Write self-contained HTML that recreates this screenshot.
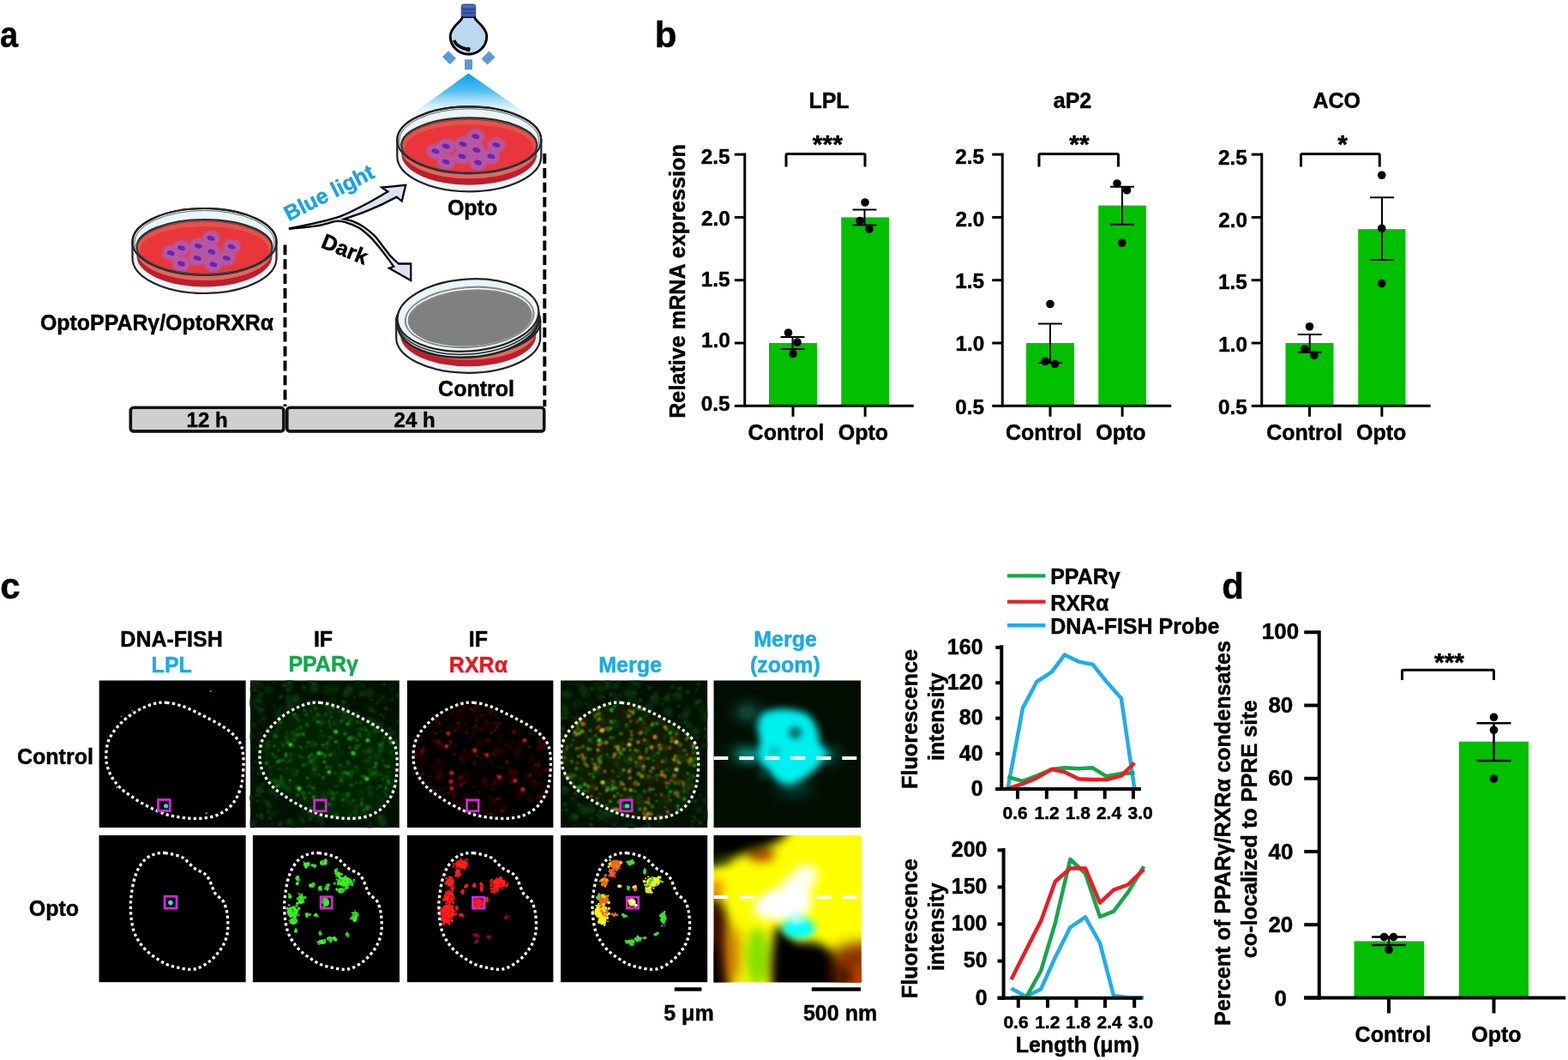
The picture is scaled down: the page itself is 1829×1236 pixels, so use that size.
<!DOCTYPE html><html><head><meta charset="utf-8"><style>html,body{margin:0;padding:0;background:#fff;overflow:hidden;width:1829px;height:1236px;}svg{display:block;}text{font-family:"Liberation Sans",Arial,sans-serif;font-weight:bold;stroke-width:0.45px;}</style></head><body>
<svg width="1829" height="1236" viewBox="0 0 1829 1236">
<rect width="1829" height="1236" fill="#fff"/>
<defs><filter id="sb07" filterUnits="userSpaceOnUse" x="0" y="0" width="1829" height="1236"><feGaussianBlur stdDeviation="0.7"/></filter><filter id="sb1" filterUnits="userSpaceOnUse" x="0" y="0" width="1829" height="1236"><feGaussianBlur stdDeviation="1.1"/></filter><filter id="sb2" filterUnits="userSpaceOnUse" x="0" y="0" width="1829" height="1236"><feGaussianBlur stdDeviation="2.2"/></filter><filter id="sb4" filterUnits="userSpaceOnUse" x="0" y="0" width="1829" height="1236"><feGaussianBlur stdDeviation="4"/></filter><filter id="sb6" filterUnits="userSpaceOnUse" x="0" y="0" width="1829" height="1236"><feGaussianBlur stdDeviation="6"/></filter><filter id="sb8" filterUnits="userSpaceOnUse" x="0" y="0" width="1829" height="1236"><feGaussianBlur stdDeviation="8"/></filter><filter id="sb12" filterUnits="userSpaceOnUse" x="0" y="0" width="1829" height="1236"><feGaussianBlur stdDeviation="12"/></filter><filter id="cellblur" filterUnits="userSpaceOnUse" x="0" y="0" width="1829" height="1236"><feGaussianBlur stdDeviation="1.3"/></filter></defs>
<clipPath id="cl1"><rect x="115.4" y="793.3" width="171.4" height="171.8"/></clipPath>
<g clip-path="url(#cl1)">
<rect x="115.4" y="793.3" width="171.4" height="171.8" fill="#000"/>
<circle cx="245.7" cy="805.9" r="1.2" fill="#1aa0a0"/>
<circle cx="154.2" cy="828.7" r="0.9" fill="#1aa0a0"/>
<circle cx="141.4" cy="835.4" r="0.9" fill="#1aa0a0"/>
<circle cx="136.5" cy="918.1" r="1.4" fill="#1aa0a0"/>
<circle cx="240.8" cy="948.2" r="1.2" fill="#1aa0a0"/>
<circle cx="193.6" cy="939.8" r="2.6" fill="#20e0e0"/>
<path d="M194.5,819.3 C199.75,819.78 206.62,821.4 212.2,823.2 C217.78,825 222.75,827.63 228,830.1 C233.25,832.57 238.45,835.22 243.7,838 C248.95,840.78 254.9,843.85 259.5,846.8 C264.1,849.75 267.87,852.42 271.3,855.7 C274.73,858.98 278.13,863.05 280.1,866.5 C282.07,869.95 282.43,872.47 283.1,876.4 C283.77,880.33 284.1,885.18 284.1,890.1 C284.1,895.02 283.6,901.3 283.1,905.9 C282.6,910.5 282.42,913.43 281.1,917.7 C279.78,921.97 277.82,927.23 275.2,931.5 C272.58,935.77 269.33,940.03 265.4,943.3 C261.47,946.57 256.53,949.3 251.6,951.1 C246.67,952.9 241.05,953.6 235.8,954.1 C230.55,954.6 225.33,954.43 220.1,954.1 C214.87,953.77 209,952.92 204.4,952.1 C199.8,951.28 196.45,950.5 192.5,949.2 C188.55,947.9 184.95,946.27 180.7,944.3 C176.45,942.33 171.58,940.03 167,937.4 C162.42,934.77 157.47,931.45 153.2,928.5 C148.93,925.55 145.02,923.15 141.4,919.7 C137.78,916.25 134.13,911.9 131.5,907.8 C128.87,903.7 126.9,899.35 125.6,895.1 C124.3,890.85 123.7,887.07 123.7,882.3 C123.7,877.53 124.3,871.1 125.6,866.5 C126.9,861.9 128.87,858.63 131.5,854.7 C134.13,850.77 137.78,846.5 141.4,842.9 C145.02,839.3 148.93,836.05 153.2,833.1 C157.47,830.15 162.42,827.33 167,825.2 C171.58,823.07 176.12,821.28 180.7,820.3 C185.28,819.32 189.25,818.82 194.5,819.3Z" fill="none" stroke="#fff" stroke-width="3.3" stroke-dasharray="3.3 3.2"/>
<rect x="184.5" y="932.5" width="13.7" height="12.9" fill="none" stroke="#d826d8" stroke-width="2.8"/>
</g>
<clipPath id="cl2"><rect x="291.9" y="793.3" width="174" height="171.8"/></clipPath>
<g clip-path="url(#cl2)">
<rect x="291.9" y="793.3" width="174" height="171.8" fill="#021102"/>
<path d="M373.7,819.3 C378.95,819.78 385.82,821.4 391.4,823.2 C396.98,825 401.95,827.63 407.2,830.1 C412.45,832.57 417.65,835.22 422.9,838 C428.15,840.78 434.1,843.85 438.7,846.8 C443.3,849.75 447.07,852.42 450.5,855.7 C453.93,858.98 457.33,863.05 459.3,866.5 C461.27,869.95 461.63,872.47 462.3,876.4 C462.97,880.33 463.3,885.18 463.3,890.1 C463.3,895.02 462.8,901.3 462.3,905.9 C461.8,910.5 461.62,913.43 460.3,917.7 C458.98,921.97 457.02,927.23 454.4,931.5 C451.78,935.77 448.53,940.03 444.6,943.3 C440.67,946.57 435.73,949.3 430.8,951.1 C425.87,952.9 420.25,953.6 415,954.1 C409.75,954.6 404.53,954.43 399.3,954.1 C394.07,953.77 388.2,952.92 383.6,952.1 C379,951.28 375.65,950.5 371.7,949.2 C367.75,947.9 364.15,946.27 359.9,944.3 C355.65,942.33 350.78,940.03 346.2,937.4 C341.62,934.77 336.67,931.45 332.4,928.5 C328.13,925.55 324.22,923.15 320.6,919.7 C316.98,916.25 313.33,911.9 310.7,907.8 C308.07,903.7 306.1,899.35 304.8,895.1 C303.5,890.85 302.9,887.07 302.9,882.3 C302.9,877.53 303.5,871.1 304.8,866.5 C306.1,861.9 308.07,858.63 310.7,854.7 C313.33,850.77 316.98,846.5 320.6,842.9 C324.22,839.3 328.13,836.05 332.4,833.1 C336.67,830.15 341.62,827.33 346.2,825.2 C350.78,823.07 355.32,821.28 359.9,820.3 C364.48,819.32 368.45,818.82 373.7,819.3Z" fill="#052205" filter="url(#sb4)"/>
<g filter="url(#sb2)">
<circle cx="348.25" cy="819.22" r="3.22" fill="#083008" opacity="0.76"/>
<circle cx="355.53" cy="803.26" r="3.11" fill="#083008" opacity="0.73"/>
<circle cx="304.05" cy="808.88" r="3.18" fill="#0a380a" opacity="0.77"/>
<circle cx="393.34" cy="803.93" r="3.15" fill="#0a380a" opacity="0.67"/>
<circle cx="388.76" cy="816.18" r="3.43" fill="#0a380a" opacity="0.64"/>
<circle cx="387.21" cy="804.09" r="4.86" fill="#083008" opacity="0.75"/>
<circle cx="372.91" cy="951.95" r="3.9" fill="#0a380a" opacity="0.84"/>
<circle cx="342" cy="961.69" r="4.54" fill="#083008" opacity="0.65"/>
<circle cx="351.42" cy="953.64" r="3.12" fill="#0a380a" opacity="0.80"/>
<circle cx="444.23" cy="847.2" r="4.78" fill="#0a380a" opacity="0.77"/>
<circle cx="407.46" cy="803.72" r="4.94" fill="#0a380a" opacity="0.90"/>
<circle cx="434.91" cy="842.19" r="5.66" fill="#0a380a" opacity="0.70"/>
<circle cx="455.57" cy="854.37" r="4.48" fill="#083008" opacity="0.67"/>
<circle cx="361.13" cy="950.81" r="3.24" fill="#0a380a" opacity="0.73"/>
<circle cx="354.33" cy="945.2" r="3.45" fill="#083008" opacity="0.65"/>
<circle cx="337.62" cy="794" r="4.6" fill="#0a380a" opacity="0.78"/>
<circle cx="347.34" cy="814.86" r="4.37" fill="#083008" opacity="0.86"/>
<circle cx="463.23" cy="869" r="4.02" fill="#083008" opacity="0.62"/>
<circle cx="291.94" cy="819.29" r="5.85" fill="#083008" opacity="0.78"/>
<circle cx="304.13" cy="829.03" r="3.45" fill="#0a380a" opacity="0.68"/>
<circle cx="313.27" cy="939.15" r="4.44" fill="#0a380a" opacity="0.69"/>
<circle cx="316.98" cy="922.09" r="4.44" fill="#0a380a" opacity="0.81"/>
<circle cx="457.55" cy="855.45" r="5.27" fill="#083008" opacity="0.69"/>
<circle cx="403.77" cy="808.94" r="4.56" fill="#0a380a" opacity="0.87"/>
<circle cx="325.86" cy="834.43" r="5.22" fill="#0a380a" opacity="0.67"/>
<circle cx="296.94" cy="798.1" r="4.42" fill="#0a380a" opacity="0.66"/>
<circle cx="352.72" cy="960.72" r="3.66" fill="#083008" opacity="0.67"/>
<circle cx="326.13" cy="828.41" r="4.44" fill="#083008" opacity="0.80"/>
<circle cx="431.04" cy="807.86" r="5.73" fill="#083008" opacity="0.83"/>
<circle cx="322.96" cy="928.87" r="3.26" fill="#0a380a" opacity="0.88"/>
<circle cx="421.24" cy="807.89" r="3.51" fill="#083008" opacity="0.64"/>
<circle cx="318.2" cy="948.75" r="4.83" fill="#083008" opacity="0.78"/>
<circle cx="374.44" cy="954.36" r="4.65" fill="#083008" opacity="0.64"/>
<circle cx="294.38" cy="960.1" r="4.58" fill="#083008" opacity="0.88"/>
<circle cx="435.65" cy="829.56" r="3.64" fill="#0a380a" opacity="0.75"/>
<circle cx="302.5" cy="920.42" r="4.99" fill="#0a380a" opacity="0.84"/>
<circle cx="444.7" cy="815.77" r="4.57" fill="#083008" opacity="0.61"/>
<circle cx="292.58" cy="930.6" r="3.42" fill="#083008" opacity="0.79"/>
<circle cx="312.84" cy="803.91" r="5.35" fill="#0a380a" opacity="0.63"/>
<circle cx="444.42" cy="955.17" r="5.77" fill="#0a380a" opacity="0.87"/>
<circle cx="344.58" cy="814.32" r="5.82" fill="#083008" opacity="0.79"/>
<circle cx="421.82" cy="809.47" r="3.49" fill="#0a380a" opacity="0.80"/>
<circle cx="464.87" cy="862.67" r="3.59" fill="#0a380a" opacity="0.70"/>
<circle cx="417.55" cy="796.65" r="4.32" fill="#0a380a" opacity="0.61"/>
<circle cx="381.03" cy="804.35" r="5.92" fill="#083008" opacity="0.63"/>
<circle cx="338.11" cy="800.1" r="3.81" fill="#083008" opacity="0.64"/>
<circle cx="365.37" cy="949.88" r="4.22" fill="#0a380a" opacity="0.76"/>
<circle cx="431.03" cy="824.8" r="3.81" fill="#083008" opacity="0.61"/>
<circle cx="307.31" cy="838.06" r="3.2" fill="#083008" opacity="0.86"/>
<circle cx="338.51" cy="815.5" r="5.81" fill="#083008" opacity="0.89"/>
<circle cx="337.47" cy="824.42" r="4.89" fill="#0a380a" opacity="0.76"/>
<circle cx="431.74" cy="964.15" r="3.05" fill="#083008" opacity="0.82"/>
<circle cx="374.51" cy="953.87" r="4.97" fill="#083008" opacity="0.80"/>
<circle cx="446.54" cy="960" r="5.06" fill="#0a380a" opacity="0.89"/>
<circle cx="301.36" cy="815.6" r="4.88" fill="#083008" opacity="0.86"/>
<circle cx="366.85" cy="802.82" r="5.61" fill="#0a380a" opacity="0.80"/>
<circle cx="337.7" cy="958.53" r="3.73" fill="#0a380a" opacity="0.89"/>
<circle cx="292.09" cy="858.86" r="3.84" fill="#0a380a" opacity="0.80"/>
<circle cx="307.71" cy="933.67" r="4.2" fill="#083008" opacity="0.61"/>
<circle cx="295.81" cy="845.57" r="3.25" fill="#083008" opacity="0.89"/>
</g>
<g filter="url(#sb1)">
<circle cx="440.37" cy="819.97" r="2.34" fill="#0a360a" opacity="0.78"/>
<circle cx="399.56" cy="818.17" r="2.47" fill="#0a360a" opacity="0.79"/>
<circle cx="331.91" cy="798.65" r="2.16" fill="#0c400c" opacity="0.89"/>
<circle cx="300.74" cy="796.54" r="2.22" fill="#0a360a" opacity="0.75"/>
<circle cx="292.48" cy="930.34" r="2.52" fill="#0a360a" opacity="0.87"/>
<circle cx="305.25" cy="949.72" r="2.32" fill="#0e4a0e" opacity="0.79"/>
<circle cx="403.74" cy="806.61" r="1.8" fill="#0c400c" opacity="0.80"/>
<circle cx="376.43" cy="960.38" r="2.23" fill="#0c400c" opacity="0.80"/>
<circle cx="312.52" cy="946.83" r="1.77" fill="#0c400c" opacity="0.63"/>
<circle cx="464.96" cy="964.06" r="1.65" fill="#0e4a0e" opacity="0.88"/>
<circle cx="457.68" cy="816.08" r="2.01" fill="#0a360a" opacity="0.87"/>
<circle cx="414.28" cy="833.05" r="1.87" fill="#0e4a0e" opacity="0.65"/>
<circle cx="312.94" cy="850.22" r="2.3" fill="#0e4a0e" opacity="0.85"/>
<circle cx="312.79" cy="952.46" r="1.41" fill="#0a360a" opacity="0.82"/>
<circle cx="335.96" cy="804.46" r="2.6" fill="#0e4a0e" opacity="0.78"/>
<circle cx="339.78" cy="801.59" r="1.46" fill="#0c400c" opacity="0.80"/>
<circle cx="402.38" cy="818.88" r="1.92" fill="#0e4a0e" opacity="0.69"/>
<circle cx="366.33" cy="798.28" r="1.88" fill="#0a360a" opacity="0.86"/>
<circle cx="305.92" cy="953.67" r="1.94" fill="#0e4a0e" opacity="0.83"/>
<circle cx="300.42" cy="952.52" r="1.6" fill="#0c400c" opacity="0.72"/>
<circle cx="432.73" cy="828.03" r="2.3" fill="#0c400c" opacity="0.72"/>
<circle cx="302.7" cy="840.98" r="1.55" fill="#0e4a0e" opacity="0.75"/>
<circle cx="369.48" cy="957.19" r="1.55" fill="#0c400c" opacity="0.73"/>
<circle cx="304.63" cy="953.11" r="2.43" fill="#0a360a" opacity="0.89"/>
<circle cx="335.13" cy="812.03" r="1.58" fill="#0c400c" opacity="0.89"/>
<circle cx="310.85" cy="935.1" r="2.18" fill="#0a360a" opacity="0.83"/>
<circle cx="298.78" cy="927.7" r="2.08" fill="#0c400c" opacity="0.61"/>
<circle cx="416.31" cy="958.65" r="1.7" fill="#0a360a" opacity="0.79"/>
<circle cx="413.45" cy="812.56" r="1.76" fill="#0c400c" opacity="0.88"/>
<circle cx="325.26" cy="838.12" r="1.4" fill="#0a360a" opacity="0.76"/>
<circle cx="465.27" cy="841.16" r="2.17" fill="#0e4a0e" opacity="0.87"/>
<circle cx="334.89" cy="958.33" r="2.18" fill="#0a360a" opacity="0.62"/>
<circle cx="325.68" cy="945.32" r="1.9" fill="#0a360a" opacity="0.68"/>
<circle cx="331.36" cy="799.16" r="2.26" fill="#0e4a0e" opacity="0.71"/>
<circle cx="360.87" cy="794.46" r="2.29" fill="#0e4a0e" opacity="0.75"/>
<circle cx="327.61" cy="959.92" r="2.32" fill="#0e4a0e" opacity="0.66"/>
<circle cx="446.64" cy="812.03" r="1.99" fill="#0a360a" opacity="0.66"/>
<circle cx="407.66" cy="956.3" r="2.51" fill="#0c400c" opacity="0.62"/>
<circle cx="296.01" cy="895.71" r="1.46" fill="#0e4a0e" opacity="0.62"/>
<circle cx="360.34" cy="947.61" r="2.28" fill="#0e4a0e" opacity="0.90"/>
<circle cx="454" cy="849.86" r="2.18" fill="#0c400c" opacity="0.76"/>
<circle cx="463.29" cy="869.31" r="1.4" fill="#0c400c" opacity="0.68"/>
<circle cx="353.06" cy="957.46" r="2.07" fill="#0c400c" opacity="0.83"/>
<circle cx="307.17" cy="914.46" r="1.85" fill="#0c400c" opacity="0.88"/>
<circle cx="447.98" cy="798.5" r="1.7" fill="#0e4a0e" opacity="0.79"/>
<circle cx="302.69" cy="826.79" r="2.48" fill="#0c400c" opacity="0.70"/>
<circle cx="339.28" cy="957.83" r="1.45" fill="#0a360a" opacity="0.82"/>
<circle cx="456.59" cy="804.52" r="1.53" fill="#0c400c" opacity="0.81"/>
<circle cx="433.68" cy="816.1" r="1.62" fill="#0e4a0e" opacity="0.84"/>
<circle cx="305.65" cy="827.2" r="1.7" fill="#0c400c" opacity="0.62"/>
<circle cx="297.79" cy="888.24" r="1.59" fill="#0e4a0e" opacity="0.73"/>
<circle cx="310.21" cy="805.7" r="1.5" fill="#0a360a" opacity="0.63"/>
<circle cx="312.98" cy="937.76" r="1.74" fill="#0e4a0e" opacity="0.68"/>
<circle cx="449.82" cy="825.64" r="1.88" fill="#0c400c" opacity="0.90"/>
<circle cx="464.33" cy="810.88" r="2.46" fill="#0e4a0e" opacity="0.67"/>
<circle cx="444.48" cy="833.31" r="1.63" fill="#0c400c" opacity="0.89"/>
<circle cx="427.23" cy="955.77" r="2.16" fill="#0c400c" opacity="0.81"/>
<circle cx="352.75" cy="799.73" r="1.57" fill="#0e4a0e" opacity="0.66"/>
<circle cx="405.29" cy="828.25" r="2.38" fill="#0c400c" opacity="0.72"/>
<circle cx="305.46" cy="798.71" r="2.06" fill="#0e4a0e" opacity="0.62"/>
<circle cx="307.76" cy="821.42" r="1.73" fill="#0a360a" opacity="0.90"/>
<circle cx="300.84" cy="921.35" r="1.9" fill="#0e4a0e" opacity="0.61"/>
<circle cx="362.37" cy="955.13" r="2.48" fill="#0e4a0e" opacity="0.73"/>
<circle cx="320.18" cy="795.85" r="1.57" fill="#0a360a" opacity="0.84"/>
<circle cx="320.06" cy="822.81" r="1.53" fill="#0c400c" opacity="0.75"/>
<circle cx="431.94" cy="959.41" r="1.76" fill="#0c400c" opacity="0.85"/>
<circle cx="299.47" cy="950.12" r="1.46" fill="#0e4a0e" opacity="0.88"/>
<circle cx="359.39" cy="948.65" r="2.23" fill="#0a360a" opacity="0.87"/>
<circle cx="390.28" cy="800.47" r="1.59" fill="#0a360a" opacity="0.71"/>
<circle cx="317.91" cy="960.06" r="1.45" fill="#0c400c" opacity="0.77"/>
<circle cx="423.7" cy="799.85" r="1.54" fill="#0e4a0e" opacity="0.78"/>
<circle cx="368.17" cy="797.32" r="2.58" fill="#0a360a" opacity="0.74"/>
<circle cx="303.58" cy="854.9" r="1.51" fill="#0e4a0e" opacity="0.73"/>
<circle cx="380.67" cy="800.3" r="1.56" fill="#0a360a" opacity="0.88"/>
<circle cx="305.81" cy="922.5" r="2.18" fill="#0e4a0e" opacity="0.84"/>
<circle cx="296.4" cy="804.7" r="2.28" fill="#0a360a" opacity="0.84"/>
<circle cx="325.61" cy="961.96" r="1.75" fill="#0e4a0e" opacity="0.84"/>
<circle cx="417.37" cy="831.29" r="2.13" fill="#0e4a0e" opacity="0.68"/>
<circle cx="336.12" cy="958.97" r="1.65" fill="#0e4a0e" opacity="0.68"/>
<circle cx="298.31" cy="824.58" r="2.16" fill="#0c400c" opacity="0.68"/>
<circle cx="429.73" cy="838.71" r="1.46" fill="#0a360a" opacity="0.86"/>
<circle cx="447.82" cy="836.6" r="2.16" fill="#0a360a" opacity="0.72"/>
<circle cx="430.69" cy="838.78" r="2.09" fill="#0e4a0e" opacity="0.71"/>
<circle cx="300.3" cy="934.15" r="1.77" fill="#0e4a0e" opacity="0.89"/>
<circle cx="443.33" cy="952.81" r="2.28" fill="#0e4a0e" opacity="0.82"/>
<circle cx="355.25" cy="801.51" r="1.67" fill="#0e4a0e" opacity="0.80"/>
<circle cx="295.78" cy="793.75" r="1.76" fill="#0e4a0e" opacity="0.76"/>
<circle cx="344.3" cy="816.27" r="2.15" fill="#0e4a0e" opacity="0.74"/>
<circle cx="315.35" cy="954.21" r="2.25" fill="#0c400c" opacity="0.74"/>
<circle cx="302.98" cy="818.16" r="2.34" fill="#0a360a" opacity="0.72"/>
<circle cx="337.88" cy="795.28" r="2.39" fill="#0a360a" opacity="0.87"/>
<circle cx="291.97" cy="803.87" r="1.89" fill="#0c400c" opacity="0.67"/>
<circle cx="302.06" cy="927.11" r="2.14" fill="#0c400c" opacity="0.80"/>
<circle cx="303" cy="900.84" r="2.34" fill="#0a360a" opacity="0.81"/>
<circle cx="293" cy="938.37" r="2.49" fill="#0a360a" opacity="0.62"/>
<circle cx="405.96" cy="823.43" r="1.71" fill="#0c400c" opacity="0.79"/>
<circle cx="313.35" cy="946.42" r="2.53" fill="#0a360a" opacity="0.68"/>
<circle cx="301.04" cy="902.54" r="1.92" fill="#0a360a" opacity="0.84"/>
<circle cx="403.61" cy="959.11" r="1.5" fill="#0c400c" opacity="0.75"/>
<circle cx="321.44" cy="948.73" r="1.64" fill="#0a360a" opacity="0.65"/>
<circle cx="451.1" cy="826.27" r="1.79" fill="#0e4a0e" opacity="0.67"/>
<circle cx="462.25" cy="873.96" r="2.24" fill="#0a360a" opacity="0.86"/>
<circle cx="305.44" cy="949.77" r="1.44" fill="#0c400c" opacity="0.63"/>
<circle cx="400.12" cy="821.1" r="2.24" fill="#0c400c" opacity="0.61"/>
<circle cx="299.32" cy="804.95" r="1.48" fill="#0c400c" opacity="0.78"/>
<circle cx="303.38" cy="942.39" r="2.53" fill="#0a360a" opacity="0.63"/>
<circle cx="327.7" cy="812.54" r="2.54" fill="#0c400c" opacity="0.87"/>
<circle cx="423.05" cy="808.33" r="2.16" fill="#0a360a" opacity="0.74"/>
<circle cx="314.98" cy="929.36" r="1.65" fill="#0a360a" opacity="0.70"/>
<circle cx="365.64" cy="796.89" r="2.52" fill="#0e4a0e" opacity="0.61"/>
</g>
<g filter="url(#sb2)">
<circle cx="424.11" cy="949.7" r="2.76" fill="#0c440c" opacity="0.86"/>
<circle cx="363.75" cy="868.28" r="2.52" fill="#0e4e0e" opacity="0.81"/>
<circle cx="385.49" cy="830.51" r="2.86" fill="#0e4e0e" opacity="0.69"/>
<circle cx="367.77" cy="883.25" r="3.14" fill="#126012" opacity="0.89"/>
<circle cx="377.42" cy="930.19" r="3.45" fill="#0e4e0e" opacity="0.78"/>
<circle cx="458.45" cy="881.8" r="3.42" fill="#0c440c" opacity="0.69"/>
<circle cx="329.26" cy="913.47" r="2.25" fill="#126012" opacity="0.88"/>
<circle cx="425.32" cy="877.53" r="2.84" fill="#0c440c" opacity="0.63"/>
<circle cx="421.57" cy="865.82" r="2.04" fill="#0c440c" opacity="0.66"/>
<circle cx="379.11" cy="858.46" r="2.35" fill="#0c440c" opacity="0.74"/>
<circle cx="384.39" cy="922.92" r="2.97" fill="#0c440c" opacity="0.70"/>
<circle cx="438.6" cy="907.05" r="2.49" fill="#0c440c" opacity="0.74"/>
<circle cx="411.8" cy="837.49" r="2.19" fill="#0e4e0e" opacity="0.74"/>
<circle cx="325.23" cy="845.1" r="3.24" fill="#0c440c" opacity="0.79"/>
<circle cx="417.73" cy="896.88" r="2.24" fill="#126012" opacity="0.70"/>
<circle cx="430.21" cy="919.28" r="2.41" fill="#126012" opacity="0.63"/>
<circle cx="445.93" cy="873" r="2.6" fill="#0e4e0e" opacity="0.84"/>
<circle cx="412.56" cy="879.28" r="2.44" fill="#0c440c" opacity="0.61"/>
<circle cx="336.66" cy="920.13" r="3.11" fill="#0e4e0e" opacity="0.87"/>
<circle cx="366.72" cy="891.91" r="2.97" fill="#0c440c" opacity="0.85"/>
<circle cx="408.11" cy="905.4" r="3.05" fill="#0c440c" opacity="0.86"/>
<circle cx="410.15" cy="903.52" r="2.65" fill="#126012" opacity="0.68"/>
<circle cx="413.81" cy="947.02" r="3.17" fill="#0e4e0e" opacity="0.81"/>
<circle cx="401.45" cy="836.26" r="2.72" fill="#126012" opacity="0.61"/>
<circle cx="441.29" cy="882.34" r="3.4" fill="#0c440c" opacity="0.65"/>
<circle cx="405.78" cy="926.99" r="3.25" fill="#126012" opacity="0.87"/>
<circle cx="329.81" cy="916.35" r="2.78" fill="#0e4e0e" opacity="0.63"/>
<circle cx="391.87" cy="886.25" r="2.71" fill="#0c440c" opacity="0.60"/>
<circle cx="429.81" cy="856.85" r="2.62" fill="#126012" opacity="0.88"/>
<circle cx="328.46" cy="910.87" r="2.77" fill="#126012" opacity="0.88"/>
<circle cx="418.76" cy="898.79" r="2.08" fill="#0c440c" opacity="0.68"/>
<circle cx="364.73" cy="865.55" r="3.01" fill="#0c440c" opacity="0.77"/>
<circle cx="459.09" cy="872.69" r="2.19" fill="#0e4e0e" opacity="0.83"/>
<circle cx="432.77" cy="902.27" r="2.96" fill="#126012" opacity="0.82"/>
<circle cx="407.79" cy="936.01" r="2.7" fill="#126012" opacity="0.69"/>
<circle cx="436.97" cy="854.25" r="2.4" fill="#0e4e0e" opacity="0.71"/>
<circle cx="336.02" cy="866.5" r="2.72" fill="#0e4e0e" opacity="0.84"/>
<circle cx="430.91" cy="854.8" r="2.45" fill="#0c440c" opacity="0.74"/>
<circle cx="366.46" cy="902.79" r="3.35" fill="#0c440c" opacity="0.65"/>
<circle cx="344.65" cy="859.46" r="3.24" fill="#0e4e0e" opacity="0.87"/>
<circle cx="436.55" cy="902.08" r="2.99" fill="#0e4e0e" opacity="0.66"/>
<circle cx="397.73" cy="892.68" r="2.28" fill="#0e4e0e" opacity="0.74"/>
<circle cx="361.93" cy="885.13" r="3.34" fill="#0c440c" opacity="0.78"/>
<circle cx="427.84" cy="908.14" r="3.18" fill="#0c440c" opacity="0.85"/>
<circle cx="326.24" cy="912.32" r="2.12" fill="#0c440c" opacity="0.85"/>
<circle cx="312.51" cy="865.29" r="2.71" fill="#0e4e0e" opacity="0.77"/>
<circle cx="376.18" cy="948.86" r="2.74" fill="#0c440c" opacity="0.75"/>
<circle cx="385.78" cy="941.54" r="2.24" fill="#0e4e0e" opacity="0.70"/>
<circle cx="412.98" cy="878.79" r="3.26" fill="#126012" opacity="0.71"/>
<circle cx="397.98" cy="910.57" r="3.21" fill="#126012" opacity="0.63"/>
<circle cx="376.15" cy="923.38" r="2.05" fill="#0e4e0e" opacity="0.82"/>
<circle cx="400.7" cy="851.47" r="2.55" fill="#0c440c" opacity="0.74"/>
<circle cx="383.34" cy="925.68" r="2.43" fill="#0e4e0e" opacity="0.70"/>
<circle cx="342.21" cy="854.32" r="2.61" fill="#126012" opacity="0.75"/>
<circle cx="339.18" cy="880.3" r="2.98" fill="#0e4e0e" opacity="0.84"/>
<circle cx="349.48" cy="847.78" r="2.19" fill="#126012" opacity="0.89"/>
<circle cx="361.3" cy="888.53" r="2.82" fill="#126012" opacity="0.61"/>
<circle cx="397.81" cy="906.35" r="3.36" fill="#0c440c" opacity="0.78"/>
<circle cx="399.21" cy="900.99" r="3.03" fill="#0c440c" opacity="0.86"/>
<circle cx="402.14" cy="900.72" r="2.15" fill="#0e4e0e" opacity="0.65"/>
<circle cx="450.95" cy="905.95" r="3.31" fill="#126012" opacity="0.64"/>
<circle cx="345.73" cy="915.3" r="2.28" fill="#126012" opacity="0.61"/>
<circle cx="392.52" cy="950.3" r="2.85" fill="#126012" opacity="0.61"/>
<circle cx="392.01" cy="951.12" r="2.1" fill="#126012" opacity="0.80"/>
<circle cx="425.86" cy="887.58" r="2.97" fill="#0e4e0e" opacity="0.66"/>
<circle cx="416.06" cy="940.27" r="3.14" fill="#0c440c" opacity="0.69"/>
<circle cx="388.9" cy="878.87" r="3.4" fill="#0c440c" opacity="0.68"/>
<circle cx="459.69" cy="916.52" r="2.09" fill="#0e4e0e" opacity="0.86"/>
<circle cx="411.38" cy="899.51" r="2.47" fill="#126012" opacity="0.82"/>
<circle cx="355.86" cy="892.08" r="2.7" fill="#126012" opacity="0.65"/>
<circle cx="431.42" cy="875.24" r="3.42" fill="#126012" opacity="0.84"/>
<circle cx="390.53" cy="843.53" r="2.93" fill="#0e4e0e" opacity="0.80"/>
<circle cx="431.44" cy="896.36" r="3.09" fill="#0c440c" opacity="0.60"/>
<circle cx="334.72" cy="859.85" r="2.9" fill="#126012" opacity="0.87"/>
<circle cx="365.42" cy="894.09" r="2.43" fill="#0e4e0e" opacity="0.64"/>
<circle cx="430.62" cy="887.42" r="2.52" fill="#126012" opacity="0.63"/>
<circle cx="388.24" cy="930.29" r="3.18" fill="#0e4e0e" opacity="0.82"/>
<circle cx="415.15" cy="952.39" r="3.13" fill="#0c440c" opacity="0.84"/>
<circle cx="432.24" cy="925.96" r="2.6" fill="#0e4e0e" opacity="0.76"/>
<circle cx="347.75" cy="880.26" r="2.28" fill="#0e4e0e" opacity="0.66"/>
<circle cx="323.34" cy="913.74" r="2.87" fill="#126012" opacity="0.71"/>
<circle cx="427.56" cy="940.52" r="2.07" fill="#0e4e0e" opacity="0.90"/>
<circle cx="402" cy="928.57" r="2.47" fill="#0e4e0e" opacity="0.61"/>
<circle cx="340.72" cy="897.61" r="2.05" fill="#0e4e0e" opacity="0.90"/>
<circle cx="442.6" cy="876.85" r="2.32" fill="#0c440c" opacity="0.88"/>
<circle cx="369.65" cy="895.2" r="3.45" fill="#0c440c" opacity="0.68"/>
<circle cx="443.4" cy="872.03" r="3.29" fill="#0e4e0e" opacity="0.79"/>
<circle cx="452.35" cy="914.66" r="2.39" fill="#0e4e0e" opacity="0.77"/>
<circle cx="408.43" cy="860.84" r="3.27" fill="#126012" opacity="0.71"/>
<circle cx="332.81" cy="917.12" r="2.06" fill="#0e4e0e" opacity="0.68"/>
<circle cx="449.3" cy="937.13" r="2.39" fill="#0e4e0e" opacity="0.75"/>
<circle cx="420.59" cy="924.15" r="2.08" fill="#126012" opacity="0.64"/>
<circle cx="409.68" cy="844.63" r="2.66" fill="#0c440c" opacity="0.80"/>
<circle cx="373.81" cy="857.16" r="2.19" fill="#126012" opacity="0.74"/>
<circle cx="316.81" cy="909.72" r="2.7" fill="#0e4e0e" opacity="0.87"/>
<circle cx="399.55" cy="857.4" r="2.21" fill="#0c440c" opacity="0.73"/>
<circle cx="438.45" cy="901.25" r="3.46" fill="#126012" opacity="0.70"/>
<circle cx="355.59" cy="850.33" r="2.09" fill="#0c440c" opacity="0.81"/>
<circle cx="363.55" cy="820.05" r="2.86" fill="#126012" opacity="0.69"/>
<circle cx="310.91" cy="871.67" r="2.17" fill="#126012" opacity="0.89"/>
<circle cx="374.98" cy="842.47" r="3.13" fill="#126012" opacity="0.89"/>
<circle cx="367.08" cy="838.23" r="3.39" fill="#0e4e0e" opacity="0.63"/>
<circle cx="383.53" cy="825.22" r="2.06" fill="#126012" opacity="0.72"/>
<circle cx="438.65" cy="882.92" r="3.07" fill="#0e4e0e" opacity="0.66"/>
<circle cx="397.79" cy="878.42" r="2.26" fill="#126012" opacity="0.64"/>
<circle cx="408.46" cy="901.27" r="2.87" fill="#0e4e0e" opacity="0.66"/>
<circle cx="362.91" cy="917.28" r="2.78" fill="#0e4e0e" opacity="0.70"/>
<circle cx="340.93" cy="903.11" r="2.14" fill="#126012" opacity="0.72"/>
<circle cx="407.69" cy="835.96" r="3.25" fill="#0c440c" opacity="0.71"/>
<circle cx="320.35" cy="857.07" r="3.29" fill="#0c440c" opacity="0.71"/>
</g>
<g filter="url(#sb1)">
<circle cx="450.68" cy="927.15" r="1.68" fill="#126a12" opacity="0.91"/>
<circle cx="419.08" cy="870" r="1.63" fill="#1a8a1a" opacity="0.79"/>
<circle cx="396.2" cy="892.34" r="1.8" fill="#157515" opacity="0.64"/>
<circle cx="443.2" cy="916.5" r="1.37" fill="#1a8a1a" opacity="0.76"/>
<circle cx="393.85" cy="924.13" r="1.22" fill="#1a8a1a" opacity="0.74"/>
<circle cx="315.73" cy="894.97" r="1.25" fill="#157515" opacity="0.80"/>
<circle cx="359.54" cy="865.54" r="1.5" fill="#1a8a1a" opacity="0.93"/>
<circle cx="427.08" cy="851.46" r="1.94" fill="#157515" opacity="0.85"/>
<circle cx="438.59" cy="890.27" r="1.92" fill="#22a022" opacity="0.90"/>
<circle cx="335.28" cy="865.82" r="1.46" fill="#1a8a1a" opacity="0.79"/>
<circle cx="402.08" cy="932.33" r="1.13" fill="#1a8a1a" opacity="0.82"/>
<circle cx="338.14" cy="909.86" r="1.73" fill="#22a022" opacity="0.88"/>
<circle cx="394.6" cy="953.4" r="1.22" fill="#126a12" opacity="0.65"/>
<circle cx="342.99" cy="863.14" r="1.37" fill="#22a022" opacity="0.86"/>
<circle cx="420.73" cy="842.64" r="1.71" fill="#126a12" opacity="0.80"/>
<circle cx="415.5" cy="872.48" r="1.71" fill="#22a022" opacity="0.76"/>
<circle cx="345.93" cy="834.92" r="1.29" fill="#157515" opacity="0.79"/>
<circle cx="348.53" cy="839.67" r="1.4" fill="#157515" opacity="0.87"/>
<circle cx="443.5" cy="868.89" r="1.62" fill="#1a8a1a" opacity="0.89"/>
<circle cx="353.52" cy="924.36" r="2.09" fill="#157515" opacity="0.84"/>
<circle cx="454.41" cy="864.9" r="1.24" fill="#22a022" opacity="0.67"/>
<circle cx="398.17" cy="840.85" r="1.84" fill="#1a8a1a" opacity="0.86"/>
<circle cx="424.09" cy="874.95" r="1.51" fill="#157515" opacity="0.64"/>
<circle cx="363.31" cy="887.78" r="1.6" fill="#1a8a1a" opacity="0.94"/>
<circle cx="391.42" cy="865.1" r="1.97" fill="#22a022" opacity="0.81"/>
<circle cx="357.94" cy="871" r="1.39" fill="#126a12" opacity="0.72"/>
<circle cx="353.31" cy="883.69" r="1.75" fill="#126a12" opacity="0.60"/>
<circle cx="358.14" cy="844.84" r="1.9" fill="#22a022" opacity="0.75"/>
<circle cx="357.5" cy="833.15" r="1.42" fill="#22a022" opacity="0.90"/>
<circle cx="327.45" cy="866.56" r="1.13" fill="#1a8a1a" opacity="0.69"/>
<circle cx="385.24" cy="846.97" r="1.62" fill="#126a12" opacity="0.78"/>
<circle cx="411.13" cy="860.22" r="1.14" fill="#22a022" opacity="0.84"/>
<circle cx="363.16" cy="879.36" r="1.98" fill="#157515" opacity="0.94"/>
<circle cx="376.59" cy="868.92" r="1.79" fill="#22a022" opacity="0.86"/>
<circle cx="406.03" cy="843.97" r="1.92" fill="#22a022" opacity="0.95"/>
<circle cx="446.44" cy="865.61" r="1.62" fill="#157515" opacity="0.89"/>
<circle cx="391.06" cy="901.76" r="1.79" fill="#1a8a1a" opacity="0.60"/>
<circle cx="388.11" cy="950.85" r="1.94" fill="#126a12" opacity="0.81"/>
<circle cx="378.53" cy="888.35" r="1.97" fill="#22a022" opacity="0.91"/>
<circle cx="326.45" cy="896.68" r="1.26" fill="#157515" opacity="0.87"/>
<circle cx="321.57" cy="883.06" r="1.71" fill="#126a12" opacity="0.88"/>
<circle cx="425.98" cy="848.76" r="1.45" fill="#157515" opacity="0.66"/>
<circle cx="449.17" cy="893.33" r="1.29" fill="#22a022" opacity="0.82"/>
<circle cx="360.8" cy="924.56" r="1.54" fill="#1a8a1a" opacity="0.82"/>
<circle cx="433.87" cy="845.47" r="2.06" fill="#22a022" opacity="0.77"/>
<circle cx="359.72" cy="916.73" r="1.51" fill="#157515" opacity="0.74"/>
<circle cx="321.47" cy="858.41" r="2.07" fill="#1a8a1a" opacity="0.70"/>
<circle cx="384.77" cy="859.55" r="1.75" fill="#126a12" opacity="0.94"/>
<circle cx="388.27" cy="859.85" r="1.38" fill="#126a12" opacity="0.68"/>
<circle cx="314.14" cy="869.46" r="1.26" fill="#157515" opacity="0.72"/>
<circle cx="417.61" cy="858.05" r="1.4" fill="#157515" opacity="0.77"/>
<circle cx="384.93" cy="862.73" r="1.23" fill="#157515" opacity="0.86"/>
<circle cx="440.12" cy="919.73" r="1.13" fill="#126a12" opacity="0.85"/>
<circle cx="415.56" cy="912.64" r="1.42" fill="#157515" opacity="0.83"/>
<circle cx="310.86" cy="889.85" r="1.91" fill="#22a022" opacity="0.87"/>
<circle cx="325.45" cy="916.78" r="1.33" fill="#1a8a1a" opacity="0.64"/>
<circle cx="416.6" cy="841.81" r="1.94" fill="#126a12" opacity="0.76"/>
<circle cx="401.18" cy="901.3" r="2.04" fill="#157515" opacity="0.66"/>
<circle cx="355.69" cy="930.64" r="2" fill="#22a022" opacity="0.61"/>
<circle cx="414.36" cy="872.77" r="1.45" fill="#126a12" opacity="0.82"/>
<circle cx="450.71" cy="919.41" r="1.5" fill="#1a8a1a" opacity="0.81"/>
<circle cx="366.84" cy="923.35" r="1.48" fill="#157515" opacity="0.61"/>
<circle cx="346" cy="902.96" r="1.66" fill="#157515" opacity="0.68"/>
<circle cx="378.53" cy="882.77" r="1.77" fill="#126a12" opacity="0.80"/>
<circle cx="424.78" cy="905.9" r="1.98" fill="#1a8a1a" opacity="0.80"/>
<circle cx="347.33" cy="926.81" r="1.85" fill="#22a022" opacity="0.63"/>
<circle cx="412.77" cy="860.93" r="1.38" fill="#157515" opacity="0.63"/>
<circle cx="456.57" cy="866.14" r="1.79" fill="#22a022" opacity="0.86"/>
<circle cx="436.32" cy="901.21" r="1.61" fill="#126a12" opacity="0.84"/>
<circle cx="327.74" cy="908.94" r="1.59" fill="#157515" opacity="0.67"/>
<circle cx="389.19" cy="823.28" r="2.07" fill="#157515" opacity="0.82"/>
<circle cx="386.54" cy="836.2" r="1.27" fill="#1a8a1a" opacity="0.72"/>
<circle cx="315.77" cy="911.19" r="1.77" fill="#126a12" opacity="0.68"/>
<circle cx="333.96" cy="881.84" r="1.23" fill="#126a12" opacity="0.82"/>
<circle cx="415.04" cy="894.24" r="1.43" fill="#157515" opacity="0.89"/>
<circle cx="387.3" cy="923.96" r="1.78" fill="#157515" opacity="0.65"/>
<circle cx="362.56" cy="828.75" r="1.11" fill="#22a022" opacity="0.77"/>
<circle cx="319.97" cy="869.76" r="1.39" fill="#22a022" opacity="0.80"/>
<circle cx="421.93" cy="850.29" r="1.21" fill="#22a022" opacity="0.77"/>
<circle cx="367.46" cy="825.91" r="1.11" fill="#22a022" opacity="0.92"/>
<circle cx="404.04" cy="901.15" r="1.75" fill="#22a022" opacity="0.63"/>
<circle cx="383.33" cy="947.16" r="1.2" fill="#157515" opacity="0.85"/>
<circle cx="345.9" cy="899.27" r="1.28" fill="#126a12" opacity="0.89"/>
<circle cx="347.61" cy="856.61" r="1.94" fill="#22a022" opacity="0.69"/>
<circle cx="365.5" cy="918.84" r="1.7" fill="#22a022" opacity="0.82"/>
<circle cx="315.96" cy="902.69" r="1.19" fill="#126a12" opacity="0.61"/>
<circle cx="368.37" cy="826.08" r="1.1" fill="#22a022" opacity="0.89"/>
<circle cx="440.73" cy="928.49" r="1.24" fill="#126a12" opacity="0.63"/>
<circle cx="322.57" cy="917.81" r="1.4" fill="#126a12" opacity="0.76"/>
<circle cx="389.93" cy="853.1" r="1.57" fill="#157515" opacity="0.79"/>
<circle cx="381.82" cy="866.89" r="2.07" fill="#157515" opacity="0.94"/>
<circle cx="399.76" cy="932.66" r="1.82" fill="#1a8a1a" opacity="0.72"/>
<circle cx="406.47" cy="890.37" r="2.05" fill="#126a12" opacity="0.77"/>
<circle cx="404.54" cy="844.72" r="1.63" fill="#22a022" opacity="0.82"/>
<circle cx="420.61" cy="912.08" r="1.76" fill="#157515" opacity="0.73"/>
<circle cx="392.95" cy="864.83" r="1.66" fill="#157515" opacity="0.74"/>
<circle cx="446.76" cy="887.47" r="1.32" fill="#1a8a1a" opacity="0.89"/>
<circle cx="408.52" cy="915.12" r="1.65" fill="#157515" opacity="0.68"/>
<circle cx="381.19" cy="894.4" r="1.95" fill="#1a8a1a" opacity="0.84"/>
<circle cx="379.44" cy="880.44" r="1.73" fill="#1a8a1a" opacity="0.94"/>
<circle cx="381.54" cy="872.33" r="1.64" fill="#126a12" opacity="0.94"/>
<circle cx="325.25" cy="874.92" r="1.24" fill="#1a8a1a" opacity="0.87"/>
<circle cx="395.31" cy="829.92" r="1.22" fill="#22a022" opacity="0.65"/>
<circle cx="353.61" cy="856.35" r="1.9" fill="#22a022" opacity="0.86"/>
<circle cx="333.54" cy="881.46" r="1.82" fill="#22a022" opacity="0.62"/>
<circle cx="387.4" cy="931.26" r="1.13" fill="#1a8a1a" opacity="0.92"/>
<circle cx="334.09" cy="854.18" r="1.12" fill="#126a12" opacity="0.95"/>
<circle cx="368.44" cy="929.22" r="1.21" fill="#126a12" opacity="0.88"/>
<circle cx="324.14" cy="888.52" r="1.97" fill="#22a022" opacity="0.83"/>
<circle cx="437.4" cy="894.37" r="1.64" fill="#22a022" opacity="0.84"/>
<circle cx="318.16" cy="879.5" r="1.9" fill="#1a8a1a" opacity="0.61"/>
<circle cx="410.14" cy="860.74" r="2.07" fill="#126a12" opacity="0.84"/>
<circle cx="369.95" cy="832.68" r="1.46" fill="#1a8a1a" opacity="0.78"/>
<circle cx="400.58" cy="829.62" r="1.83" fill="#22a022" opacity="0.72"/>
<circle cx="346.6" cy="850.94" r="1.43" fill="#126a12" opacity="0.61"/>
<circle cx="408.65" cy="840.14" r="1.16" fill="#22a022" opacity="0.95"/>
<circle cx="353.99" cy="891.83" r="2.09" fill="#157515" opacity="0.61"/>
<circle cx="389.45" cy="925.74" r="1.87" fill="#157515" opacity="0.82"/>
<circle cx="402.32" cy="855.65" r="1.89" fill="#22a022" opacity="0.68"/>
<circle cx="351.32" cy="855.6" r="1.45" fill="#157515" opacity="0.79"/>
<circle cx="350.58" cy="848.83" r="1.6" fill="#126a12" opacity="0.91"/>
<circle cx="446.55" cy="908.65" r="1.55" fill="#126a12" opacity="0.80"/>
<circle cx="345.58" cy="918.14" r="1.17" fill="#22a022" opacity="0.67"/>
<circle cx="452.81" cy="893.79" r="1.68" fill="#22a022" opacity="0.95"/>
<circle cx="354.01" cy="926.35" r="1.82" fill="#126a12" opacity="0.92"/>
<circle cx="437.81" cy="848.15" r="1.38" fill="#157515" opacity="0.69"/>
<circle cx="338.54" cy="914.32" r="1.15" fill="#157515" opacity="0.76"/>
<circle cx="392.03" cy="916.83" r="1.29" fill="#1a8a1a" opacity="0.79"/>
<circle cx="444.23" cy="903.23" r="1.31" fill="#1a8a1a" opacity="0.71"/>
<circle cx="422.28" cy="904.79" r="1.71" fill="#126a12" opacity="0.88"/>
<circle cx="398.53" cy="926.61" r="1.36" fill="#126a12" opacity="0.76"/>
<circle cx="417.9" cy="849.85" r="1.12" fill="#1a8a1a" opacity="0.67"/>
<circle cx="384.03" cy="937.72" r="1.91" fill="#22a022" opacity="0.75"/>
<circle cx="385.63" cy="894.4" r="1.76" fill="#157515" opacity="0.81"/>
<circle cx="349.47" cy="920.62" r="1.91" fill="#22a022" opacity="0.77"/>
<circle cx="405.29" cy="887.7" r="1.66" fill="#126a12" opacity="0.73"/>
<circle cx="384.06" cy="840.36" r="1.11" fill="#22a022" opacity="0.77"/>
<circle cx="405.93" cy="926.3" r="1.25" fill="#22a022" opacity="0.82"/>
<circle cx="454.93" cy="900.61" r="1.16" fill="#1a8a1a" opacity="0.78"/>
<circle cx="388.51" cy="824.54" r="1.84" fill="#22a022" opacity="0.92"/>
<circle cx="443.43" cy="940.31" r="1.63" fill="#157515" opacity="0.72"/>
<circle cx="415.38" cy="869.16" r="1.31" fill="#126a12" opacity="0.92"/>
<circle cx="448.68" cy="860.13" r="1.42" fill="#157515" opacity="0.92"/>
<circle cx="361.82" cy="941.75" r="1.33" fill="#1a8a1a" opacity="0.73"/>
<circle cx="449.72" cy="857.82" r="1.13" fill="#157515" opacity="0.61"/>
<circle cx="415.31" cy="834.85" r="1.3" fill="#22a022" opacity="0.87"/>
<circle cx="403.73" cy="844.58" r="1.32" fill="#126a12" opacity="0.80"/>
<circle cx="422.67" cy="934.66" r="1.19" fill="#22a022" opacity="0.60"/>
<circle cx="347.54" cy="898.14" r="1.31" fill="#126a12" opacity="0.62"/>
<circle cx="428" cy="939.56" r="1.15" fill="#22a022" opacity="0.87"/>
<circle cx="368.3" cy="868" r="2.09" fill="#157515" opacity="0.70"/>
<circle cx="321.26" cy="910.6" r="1.51" fill="#1a8a1a" opacity="0.82"/>
<circle cx="407.67" cy="861.45" r="2.08" fill="#22a022" opacity="0.61"/>
<circle cx="379.73" cy="833.09" r="1.8" fill="#126a12" opacity="0.85"/>
<circle cx="330.86" cy="886.15" r="1.63" fill="#1a8a1a" opacity="0.89"/>
<circle cx="370.85" cy="841.77" r="1.79" fill="#22a022" opacity="0.94"/>
<circle cx="443.99" cy="916.61" r="1.52" fill="#126a12" opacity="0.79"/>
<circle cx="424.31" cy="944.77" r="2" fill="#157515" opacity="0.82"/>
<circle cx="333.5" cy="879.38" r="1.79" fill="#22a022" opacity="0.86"/>
<circle cx="416.56" cy="863.02" r="1.78" fill="#22a022" opacity="0.75"/>
<circle cx="408.13" cy="871.55" r="1.57" fill="#1a8a1a" opacity="0.83"/>
<circle cx="373.79" cy="852.12" r="1.33" fill="#126a12" opacity="0.82"/>
<circle cx="421.24" cy="858.38" r="1.49" fill="#1a8a1a" opacity="0.78"/>
<circle cx="398.53" cy="909.64" r="1.17" fill="#22a022" opacity="0.88"/>
<circle cx="407.48" cy="952.03" r="1.36" fill="#22a022" opacity="0.89"/>
<circle cx="441.14" cy="853.05" r="1.67" fill="#126a12" opacity="0.95"/>
<circle cx="355.25" cy="828.49" r="1.91" fill="#157515" opacity="0.68"/>
<circle cx="371.99" cy="903.34" r="1.42" fill="#1a8a1a" opacity="0.73"/>
<circle cx="442.17" cy="866.84" r="1.25" fill="#126a12" opacity="0.69"/>
<circle cx="431.66" cy="882.87" r="1.76" fill="#126a12" opacity="0.70"/>
<circle cx="342.45" cy="869.96" r="1.55" fill="#1a8a1a" opacity="0.77"/>
<circle cx="430.8" cy="923.66" r="1.11" fill="#157515" opacity="0.65"/>
<circle cx="376.95" cy="906.73" r="1.62" fill="#22a022" opacity="0.88"/>
<circle cx="335.9" cy="888.86" r="1.67" fill="#1a8a1a" opacity="0.62"/>
<circle cx="322.95" cy="916.68" r="2.02" fill="#22a022" opacity="0.69"/>
<circle cx="338.08" cy="868.56" r="1.96" fill="#126a12" opacity="0.67"/>
<circle cx="365.53" cy="929.42" r="2.02" fill="#22a022" opacity="0.85"/>
<circle cx="366.89" cy="897.66" r="1.45" fill="#22a022" opacity="0.73"/>
<circle cx="392.59" cy="952.18" r="2.08" fill="#157515" opacity="0.90"/>
<circle cx="305.81" cy="869.84" r="1.63" fill="#126a12" opacity="0.77"/>
<circle cx="448.73" cy="923.36" r="1.21" fill="#1a8a1a" opacity="0.80"/>
<circle cx="454.6" cy="913.72" r="1.51" fill="#126a12" opacity="0.77"/>
<circle cx="446.82" cy="868.86" r="1.24" fill="#126a12" opacity="0.86"/>
<circle cx="326.74" cy="886.36" r="1.65" fill="#22a022" opacity="0.87"/>
<circle cx="410.39" cy="915.46" r="1.96" fill="#126a12" opacity="0.79"/>
<circle cx="422.04" cy="938.23" r="2.1" fill="#157515" opacity="0.89"/>
<circle cx="350.07" cy="882.33" r="1.29" fill="#1a8a1a" opacity="0.79"/>
<circle cx="358.67" cy="907.37" r="1.66" fill="#22a022" opacity="0.78"/>
<circle cx="431.44" cy="940.47" r="1.4" fill="#22a022" opacity="0.65"/>
<circle cx="328.01" cy="905.36" r="1.76" fill="#126a12" opacity="0.85"/>
<circle cx="351.37" cy="871.71" r="1.83" fill="#1a8a1a" opacity="0.60"/>
<circle cx="330.13" cy="868.74" r="1.81" fill="#157515" opacity="0.88"/>
<circle cx="394.92" cy="871.4" r="1.3" fill="#126a12" opacity="0.67"/>
<circle cx="445.01" cy="933.2" r="1.28" fill="#126a12" opacity="0.92"/>
<circle cx="389.52" cy="930.86" r="1.32" fill="#126a12" opacity="0.85"/>
<circle cx="422.17" cy="931.07" r="1.25" fill="#157515" opacity="0.92"/>
<circle cx="457.35" cy="864.54" r="1.81" fill="#22a022" opacity="0.75"/>
<circle cx="365.78" cy="942.45" r="1.14" fill="#157515" opacity="0.89"/>
<circle cx="342.99" cy="833.27" r="1.81" fill="#22a022" opacity="0.85"/>
<circle cx="345.76" cy="837.63" r="1.25" fill="#157515" opacity="0.88"/>
<circle cx="403.4" cy="831.67" r="1.3" fill="#1a8a1a" opacity="0.65"/>
<circle cx="323.91" cy="850.54" r="1.21" fill="#126a12" opacity="0.89"/>
<circle cx="383.48" cy="843.25" r="1.12" fill="#22a022" opacity="0.87"/>
<circle cx="326.79" cy="841.4" r="1.7" fill="#22a022" opacity="0.79"/>
<circle cx="349.87" cy="870.55" r="1.43" fill="#157515" opacity="0.73"/>
<circle cx="432.67" cy="917.63" r="1.2" fill="#126a12" opacity="0.79"/>
<circle cx="429.01" cy="895.62" r="1.14" fill="#126a12" opacity="0.61"/>
<circle cx="392.69" cy="864.25" r="1.52" fill="#157515" opacity="0.89"/>
<circle cx="419.66" cy="855.05" r="1.43" fill="#1a8a1a" opacity="0.89"/>
<circle cx="443.88" cy="875.81" r="1.36" fill="#157515" opacity="0.64"/>
<circle cx="338.96" cy="886.25" r="1.57" fill="#22a022" opacity="0.66"/>
<circle cx="385.07" cy="880.37" r="2.05" fill="#22a022" opacity="0.70"/>
<circle cx="449.96" cy="918.13" r="1.99" fill="#157515" opacity="0.61"/>
<circle cx="456.04" cy="877.21" r="1.79" fill="#157515" opacity="0.68"/>
<circle cx="360.33" cy="882.31" r="1.67" fill="#22a022" opacity="0.64"/>
<circle cx="407.42" cy="830.69" r="1.7" fill="#157515" opacity="0.87"/>
<circle cx="334.66" cy="896.24" r="1.14" fill="#1a8a1a" opacity="0.82"/>
<circle cx="412.28" cy="933.26" r="1.18" fill="#22a022" opacity="0.87"/>
<circle cx="380.88" cy="822.01" r="1.87" fill="#22a022" opacity="0.67"/>
<circle cx="452.83" cy="911.16" r="2.1" fill="#1a8a1a" opacity="0.88"/>
<circle cx="375.37" cy="878.74" r="2.01" fill="#22a022" opacity="0.86"/>
<circle cx="400.68" cy="938.6" r="1.19" fill="#126a12" opacity="0.85"/>
<circle cx="459.94" cy="908.87" r="1.23" fill="#126a12" opacity="0.89"/>
<circle cx="421.52" cy="936.32" r="1.54" fill="#157515" opacity="0.89"/>
<circle cx="428.39" cy="942.91" r="1.85" fill="#22a022" opacity="0.81"/>
<circle cx="405.9" cy="901.97" r="2.07" fill="#1a8a1a" opacity="0.88"/>
<circle cx="371.58" cy="833.96" r="1.68" fill="#126a12" opacity="0.93"/>
<circle cx="407.37" cy="861.13" r="1.93" fill="#22a022" opacity="0.74"/>
<circle cx="437.41" cy="851.64" r="1.89" fill="#126a12" opacity="0.60"/>
<circle cx="364.75" cy="897.2" r="1.25" fill="#126a12" opacity="0.79"/>
</g>
<g filter="url(#sb1)">
<circle cx="338.9" cy="868.3" r="2.3" fill="#3ad83a"/>
<circle cx="428.9" cy="863.3" r="2.3" fill="#3ad83a"/>
<circle cx="427.9" cy="908.3" r="2.3" fill="#3ad83a"/>
<circle cx="348.9" cy="919.3" r="2.3" fill="#3ad83a"/>
<circle cx="371.9" cy="878.3" r="2.3" fill="#3ad83a"/>
<circle cx="383.9" cy="900.3" r="2.3" fill="#3ad83a"/>
<circle cx="391.9" cy="853.3" r="2.3" fill="#3ad83a"/>
<circle cx="411.9" cy="878.3" r="2.3" fill="#3ad83a"/>
</g>
<path d="M373.7,819.3 C378.95,819.78 385.82,821.4 391.4,823.2 C396.98,825 401.95,827.63 407.2,830.1 C412.45,832.57 417.65,835.22 422.9,838 C428.15,840.78 434.1,843.85 438.7,846.8 C443.3,849.75 447.07,852.42 450.5,855.7 C453.93,858.98 457.33,863.05 459.3,866.5 C461.27,869.95 461.63,872.47 462.3,876.4 C462.97,880.33 463.3,885.18 463.3,890.1 C463.3,895.02 462.8,901.3 462.3,905.9 C461.8,910.5 461.62,913.43 460.3,917.7 C458.98,921.97 457.02,927.23 454.4,931.5 C451.78,935.77 448.53,940.03 444.6,943.3 C440.67,946.57 435.73,949.3 430.8,951.1 C425.87,952.9 420.25,953.6 415,954.1 C409.75,954.6 404.53,954.43 399.3,954.1 C394.07,953.77 388.2,952.92 383.6,952.1 C379,951.28 375.65,950.5 371.7,949.2 C367.75,947.9 364.15,946.27 359.9,944.3 C355.65,942.33 350.78,940.03 346.2,937.4 C341.62,934.77 336.67,931.45 332.4,928.5 C328.13,925.55 324.22,923.15 320.6,919.7 C316.98,916.25 313.33,911.9 310.7,907.8 C308.07,903.7 306.1,899.35 304.8,895.1 C303.5,890.85 302.9,887.07 302.9,882.3 C302.9,877.53 303.5,871.1 304.8,866.5 C306.1,861.9 308.07,858.63 310.7,854.7 C313.33,850.77 316.98,846.5 320.6,842.9 C324.22,839.3 328.13,836.05 332.4,833.1 C336.67,830.15 341.62,827.33 346.2,825.2 C350.78,823.07 355.32,821.28 359.9,820.3 C364.48,819.32 368.45,818.82 373.7,819.3Z" fill="none" stroke="#fff" stroke-width="3.3" stroke-dasharray="3.3 3.2"/>
<rect x="366.7" y="932.9" width="13.5" height="12.9" fill="none" stroke="#d826d8" stroke-width="2.8"/>
</g>
<clipPath id="cl3"><rect x="474.9" y="793.3" width="170.7" height="171.8"/></clipPath>
<g clip-path="url(#cl3)">
<rect x="474.9" y="793.3" width="170.7" height="171.8" fill="#000"/>
<g filter="url(#sb2)">
<circle cx="489.09" cy="860.97" r="3.74" fill="#340404" opacity="0.69"/>
<circle cx="594.59" cy="869.24" r="3.58" fill="#240202" opacity="0.67"/>
<circle cx="511.83" cy="901.04" r="4.15" fill="#340404" opacity="0.66"/>
<circle cx="536.76" cy="831.82" r="4.26" fill="#240202" opacity="0.89"/>
<circle cx="527.57" cy="848.02" r="4.08" fill="#240202" opacity="0.78"/>
<circle cx="516.87" cy="890.41" r="3" fill="#240202" opacity="0.71"/>
<circle cx="492.12" cy="888.25" r="3.83" fill="#240202" opacity="0.64"/>
<circle cx="545.92" cy="881.65" r="3.39" fill="#340404" opacity="0.89"/>
<circle cx="536.66" cy="906.89" r="3.87" fill="#240202" opacity="0.88"/>
<circle cx="586.64" cy="878.06" r="4.45" fill="#240202" opacity="0.62"/>
<circle cx="617.4" cy="910.73" r="3.25" fill="#240202" opacity="0.69"/>
<circle cx="578.53" cy="872.14" r="3.46" fill="#340404" opacity="0.60"/>
<circle cx="504.53" cy="894.59" r="3.75" fill="#340404" opacity="0.67"/>
<circle cx="568.48" cy="863.32" r="4.11" fill="#2a0303" opacity="0.80"/>
<circle cx="596.05" cy="911.99" r="3.15" fill="#340404" opacity="0.85"/>
<circle cx="565.78" cy="946.84" r="3.53" fill="#2a0303" opacity="0.86"/>
<circle cx="502.58" cy="920.15" r="3.86" fill="#2a0303" opacity="0.87"/>
<circle cx="607.55" cy="855.17" r="2.87" fill="#240202" opacity="0.69"/>
<circle cx="529.68" cy="868.6" r="3.86" fill="#2a0303" opacity="0.71"/>
<circle cx="529.46" cy="929.58" r="3.03" fill="#340404" opacity="0.66"/>
<circle cx="630.03" cy="870.65" r="3.77" fill="#340404" opacity="0.83"/>
<circle cx="604.13" cy="874.08" r="4.2" fill="#240202" opacity="0.72"/>
<circle cx="487.95" cy="860.58" r="4.33" fill="#240202" opacity="0.76"/>
<circle cx="524.13" cy="901.57" r="3.4" fill="#340404" opacity="0.60"/>
<circle cx="565.75" cy="913.23" r="3.21" fill="#340404" opacity="0.88"/>
<circle cx="520.22" cy="835.11" r="4.25" fill="#2a0303" opacity="0.63"/>
<circle cx="577.79" cy="935.6" r="2.72" fill="#240202" opacity="0.69"/>
<circle cx="583.11" cy="912.19" r="3.29" fill="#340404" opacity="0.88"/>
<circle cx="601.64" cy="852.01" r="3.5" fill="#340404" opacity="0.70"/>
<circle cx="622.56" cy="915.65" r="3.56" fill="#2a0303" opacity="0.76"/>
<circle cx="589.17" cy="948.18" r="2.93" fill="#2a0303" opacity="0.80"/>
<circle cx="515.11" cy="867.61" r="3.65" fill="#2a0303" opacity="0.68"/>
<circle cx="619.11" cy="928.76" r="2.8" fill="#2a0303" opacity="0.80"/>
<circle cx="603.63" cy="879.3" r="4.3" fill="#340404" opacity="0.82"/>
<circle cx="615.04" cy="904.77" r="2.76" fill="#340404" opacity="0.81"/>
<circle cx="595.03" cy="898.5" r="3.92" fill="#340404" opacity="0.83"/>
<circle cx="578.15" cy="880.76" r="2.93" fill="#240202" opacity="0.67"/>
<circle cx="536.3" cy="913.46" r="2.74" fill="#2a0303" opacity="0.89"/>
<circle cx="512.18" cy="871.94" r="3.39" fill="#2a0303" opacity="0.75"/>
<circle cx="641.72" cy="894.7" r="4.11" fill="#240202" opacity="0.61"/>
<circle cx="513.22" cy="901.44" r="4.43" fill="#340404" opacity="0.76"/>
<circle cx="514.21" cy="888.92" r="3.06" fill="#2a0303" opacity="0.89"/>
<circle cx="573.49" cy="915.81" r="4.06" fill="#2a0303" opacity="0.61"/>
<circle cx="561.05" cy="866.13" r="4.41" fill="#2a0303" opacity="0.68"/>
<circle cx="544.72" cy="907.84" r="4.11" fill="#2a0303" opacity="0.89"/>
<circle cx="487.08" cy="875.4" r="3.36" fill="#2a0303" opacity="0.89"/>
<circle cx="625.18" cy="899.42" r="3.18" fill="#2a0303" opacity="0.66"/>
<circle cx="543.67" cy="841.85" r="2.65" fill="#2a0303" opacity="0.87"/>
<circle cx="609.79" cy="920.96" r="2.9" fill="#340404" opacity="0.83"/>
<circle cx="601.11" cy="898.63" r="2.63" fill="#2a0303" opacity="0.66"/>
<circle cx="598.14" cy="901.57" r="3.62" fill="#340404" opacity="0.79"/>
<circle cx="571.41" cy="847.53" r="3.11" fill="#340404" opacity="0.61"/>
<circle cx="504.8" cy="854.33" r="4.11" fill="#2a0303" opacity="0.74"/>
<circle cx="630.53" cy="929.84" r="4.29" fill="#340404" opacity="0.89"/>
<circle cx="619.99" cy="884.06" r="3.52" fill="#340404" opacity="0.66"/>
<circle cx="630.04" cy="915.31" r="3.37" fill="#240202" opacity="0.82"/>
<circle cx="540.47" cy="932.78" r="2.77" fill="#340404" opacity="0.60"/>
<circle cx="511.43" cy="893.86" r="2.56" fill="#340404" opacity="0.84"/>
<circle cx="572.68" cy="950.3" r="3.18" fill="#340404" opacity="0.77"/>
<circle cx="553.72" cy="925.4" r="2.51" fill="#2a0303" opacity="0.66"/>
<circle cx="636.18" cy="868.9" r="3.67" fill="#240202" opacity="0.79"/>
<circle cx="595.58" cy="868.83" r="3.64" fill="#2a0303" opacity="0.82"/>
<circle cx="586.18" cy="941.37" r="3.93" fill="#2a0303" opacity="0.74"/>
<circle cx="625.22" cy="897.39" r="4.32" fill="#2a0303" opacity="0.78"/>
<circle cx="541.87" cy="928.69" r="3.77" fill="#2a0303" opacity="0.82"/>
<circle cx="512.38" cy="908.73" r="3.78" fill="#240202" opacity="0.88"/>
<circle cx="609.23" cy="946.14" r="2.64" fill="#2a0303" opacity="0.61"/>
<circle cx="570.77" cy="898.58" r="2.66" fill="#240202" opacity="0.62"/>
<circle cx="568.01" cy="843.29" r="3.84" fill="#340404" opacity="0.77"/>
<circle cx="561.45" cy="937.15" r="2.74" fill="#2a0303" opacity="0.80"/>
<circle cx="510.26" cy="867.01" r="3.73" fill="#2a0303" opacity="0.63"/>
<circle cx="563.61" cy="909.72" r="3.96" fill="#2a0303" opacity="0.85"/>
<circle cx="537.65" cy="845.31" r="2.8" fill="#340404" opacity="0.78"/>
<circle cx="494.3" cy="912.27" r="2.93" fill="#240202" opacity="0.72"/>
<circle cx="572.97" cy="829.52" r="4" fill="#240202" opacity="0.62"/>
<circle cx="599.38" cy="908.43" r="4.2" fill="#2a0303" opacity="0.73"/>
<circle cx="635.83" cy="869.19" r="2.77" fill="#240202" opacity="0.84"/>
<circle cx="540.16" cy="821.15" r="4.46" fill="#2a0303" opacity="0.80"/>
<circle cx="634.03" cy="924.27" r="3.05" fill="#340404" opacity="0.67"/>
<circle cx="606.41" cy="926.44" r="4.09" fill="#340404" opacity="0.76"/>
</g>
<g filter="url(#sb1)">
<circle cx="528.44" cy="901.01" r="1.26" fill="#4a0505" opacity="0.64"/>
<circle cx="553.09" cy="829.64" r="1.85" fill="#5a0707" opacity="0.79"/>
<circle cx="635.01" cy="863.31" r="1.85" fill="#5a0707" opacity="0.68"/>
<circle cx="603.79" cy="945.46" r="1.63" fill="#4a0505" opacity="0.64"/>
<circle cx="636.67" cy="898.2" r="1.89" fill="#6a0909" opacity="0.86"/>
<circle cx="584.71" cy="894.86" r="1.8" fill="#5a0707" opacity="0.84"/>
<circle cx="494.17" cy="878.12" r="2.12" fill="#4a0505" opacity="0.76"/>
<circle cx="542.29" cy="913.01" r="1.64" fill="#6a0909" opacity="0.85"/>
<circle cx="533.34" cy="936.29" r="1.59" fill="#5a0707" opacity="0.87"/>
<circle cx="534.77" cy="850.95" r="2.05" fill="#5a0707" opacity="0.63"/>
<circle cx="587.84" cy="846.9" r="1.38" fill="#4a0505" opacity="0.65"/>
<circle cx="540.28" cy="905.35" r="1.26" fill="#6a0909" opacity="0.70"/>
<circle cx="567.45" cy="823.59" r="1.99" fill="#4a0505" opacity="0.69"/>
<circle cx="537.42" cy="883.16" r="2.07" fill="#5a0707" opacity="0.92"/>
<circle cx="585.62" cy="945.62" r="2.05" fill="#801010" opacity="0.68"/>
<circle cx="539.32" cy="856.75" r="1.23" fill="#4a0505" opacity="0.75"/>
<circle cx="494.67" cy="872.32" r="1.29" fill="#801010" opacity="0.64"/>
<circle cx="556.75" cy="823.16" r="1.63" fill="#6a0909" opacity="0.62"/>
<circle cx="507.47" cy="839.01" r="1.67" fill="#801010" opacity="0.93"/>
<circle cx="512.86" cy="921.16" r="1.31" fill="#801010" opacity="0.93"/>
<circle cx="564.49" cy="834.49" r="1.71" fill="#6a0909" opacity="0.71"/>
<circle cx="492.23" cy="875.31" r="2.12" fill="#801010" opacity="0.76"/>
<circle cx="552.23" cy="847.9" r="1.48" fill="#6a0909" opacity="0.88"/>
<circle cx="555.98" cy="837.51" r="1.83" fill="#5a0707" opacity="0.88"/>
<circle cx="628.99" cy="903.86" r="1.74" fill="#5a0707" opacity="0.68"/>
<circle cx="560.08" cy="897.23" r="1.35" fill="#4a0505" opacity="0.88"/>
<circle cx="636.31" cy="920.5" r="1.86" fill="#4a0505" opacity="0.83"/>
<circle cx="553.16" cy="917.64" r="1.42" fill="#801010" opacity="0.61"/>
<circle cx="507.59" cy="921.97" r="2.14" fill="#6a0909" opacity="0.74"/>
<circle cx="556.33" cy="881.2" r="1.87" fill="#801010" opacity="0.67"/>
<circle cx="555.2" cy="846.54" r="1.47" fill="#801010" opacity="0.94"/>
<circle cx="505.2" cy="864.26" r="1.77" fill="#5a0707" opacity="0.87"/>
<circle cx="578.46" cy="874.92" r="1.34" fill="#801010" opacity="0.68"/>
<circle cx="564.04" cy="893.19" r="1.37" fill="#5a0707" opacity="0.75"/>
<circle cx="572.23" cy="831.6" r="2.16" fill="#6a0909" opacity="0.69"/>
<circle cx="635.7" cy="863.35" r="1.64" fill="#5a0707" opacity="0.89"/>
<circle cx="526.16" cy="907.23" r="1.65" fill="#5a0707" opacity="0.77"/>
<circle cx="565.44" cy="910.09" r="2.1" fill="#4a0505" opacity="0.94"/>
<circle cx="628.11" cy="891.28" r="2.06" fill="#6a0909" opacity="0.93"/>
<circle cx="584.74" cy="864.09" r="1.88" fill="#4a0505" opacity="0.63"/>
<circle cx="601.44" cy="900.55" r="1.41" fill="#801010" opacity="0.71"/>
<circle cx="631.96" cy="869.73" r="1.88" fill="#4a0505" opacity="0.85"/>
<circle cx="514.66" cy="867.28" r="1.74" fill="#6a0909" opacity="0.74"/>
<circle cx="538.2" cy="914.97" r="1.86" fill="#801010" opacity="0.87"/>
<circle cx="511.59" cy="839" r="1.71" fill="#5a0707" opacity="0.91"/>
<circle cx="580.05" cy="904.35" r="1.78" fill="#801010" opacity="0.93"/>
<circle cx="573.39" cy="854.41" r="1.51" fill="#801010" opacity="0.88"/>
<circle cx="593.22" cy="909.51" r="1.59" fill="#6a0909" opacity="0.64"/>
<circle cx="582.33" cy="843.5" r="1.83" fill="#6a0909" opacity="0.85"/>
<circle cx="605.69" cy="844.99" r="1.36" fill="#4a0505" opacity="0.62"/>
<circle cx="552.56" cy="907.7" r="1.4" fill="#5a0707" opacity="0.61"/>
<circle cx="566.2" cy="917.96" r="1.23" fill="#4a0505" opacity="0.88"/>
<circle cx="534.46" cy="843.43" r="2.07" fill="#801010" opacity="0.72"/>
<circle cx="531" cy="879.5" r="1.39" fill="#6a0909" opacity="0.93"/>
<circle cx="501.17" cy="912.29" r="1.5" fill="#801010" opacity="0.61"/>
<circle cx="552.08" cy="873.78" r="1.82" fill="#6a0909" opacity="0.89"/>
<circle cx="555.45" cy="868.11" r="1.39" fill="#5a0707" opacity="0.80"/>
<circle cx="493.32" cy="902.21" r="1.95" fill="#6a0909" opacity="0.78"/>
<circle cx="563.98" cy="850.31" r="1.23" fill="#5a0707" opacity="0.85"/>
<circle cx="512.62" cy="843.26" r="1.81" fill="#801010" opacity="0.92"/>
<circle cx="509.83" cy="846.75" r="1.33" fill="#4a0505" opacity="0.62"/>
<circle cx="553.92" cy="851.52" r="1.6" fill="#4a0505" opacity="0.78"/>
<circle cx="527.2" cy="926.38" r="1.29" fill="#4a0505" opacity="0.62"/>
<circle cx="553.72" cy="827.27" r="1.99" fill="#5a0707" opacity="0.85"/>
<circle cx="623.39" cy="911.12" r="1.73" fill="#801010" opacity="0.87"/>
<circle cx="540.97" cy="876.37" r="2" fill="#4a0505" opacity="0.78"/>
<circle cx="551.65" cy="939.72" r="1.97" fill="#801010" opacity="0.73"/>
<circle cx="634.32" cy="899.6" r="1.97" fill="#5a0707" opacity="0.63"/>
<circle cx="587.16" cy="939.75" r="1.64" fill="#4a0505" opacity="0.63"/>
<circle cx="524.07" cy="925.23" r="1.73" fill="#6a0909" opacity="0.85"/>
<circle cx="528.84" cy="933.92" r="1.37" fill="#801010" opacity="0.66"/>
<circle cx="605.48" cy="866.45" r="1.56" fill="#4a0505" opacity="0.91"/>
<circle cx="553.09" cy="888.12" r="1.46" fill="#5a0707" opacity="0.86"/>
<circle cx="578.01" cy="842.9" r="1.59" fill="#801010" opacity="0.67"/>
<circle cx="609.31" cy="921.98" r="1.31" fill="#801010" opacity="0.88"/>
<circle cx="532.74" cy="835.89" r="1.71" fill="#4a0505" opacity="0.88"/>
<circle cx="579.94" cy="847.15" r="1.88" fill="#4a0505" opacity="0.83"/>
<circle cx="514.45" cy="852.37" r="1.81" fill="#4a0505" opacity="0.91"/>
<circle cx="619.74" cy="933.99" r="2.15" fill="#4a0505" opacity="0.71"/>
<circle cx="580.36" cy="861.06" r="1.31" fill="#4a0505" opacity="0.68"/>
<circle cx="630.16" cy="863.84" r="2.02" fill="#6a0909" opacity="0.83"/>
<circle cx="527.27" cy="879.98" r="1.58" fill="#4a0505" opacity="0.89"/>
<circle cx="497.7" cy="885.92" r="1.87" fill="#4a0505" opacity="0.62"/>
<circle cx="529.47" cy="926.34" r="1.99" fill="#5a0707" opacity="0.89"/>
<circle cx="555.17" cy="872.64" r="1.93" fill="#6a0909" opacity="0.73"/>
<circle cx="579.89" cy="878.83" r="1.4" fill="#5a0707" opacity="0.76"/>
<circle cx="543.49" cy="931.15" r="1.51" fill="#801010" opacity="0.82"/>
<circle cx="627.63" cy="874.13" r="1.93" fill="#4a0505" opacity="0.71"/>
<circle cx="624.08" cy="891.79" r="1.8" fill="#5a0707" opacity="0.95"/>
<circle cx="510.48" cy="886.55" r="1.85" fill="#5a0707" opacity="0.80"/>
<circle cx="553.68" cy="891.09" r="1.92" fill="#5a0707" opacity="0.75"/>
<circle cx="490.66" cy="883.27" r="1.3" fill="#4a0505" opacity="0.88"/>
<circle cx="546.05" cy="849.52" r="1.72" fill="#4a0505" opacity="0.94"/>
<circle cx="558.76" cy="922.52" r="1.87" fill="#5a0707" opacity="0.65"/>
<circle cx="570.68" cy="929.92" r="1.22" fill="#6a0909" opacity="0.83"/>
<circle cx="484.36" cy="880.04" r="1.71" fill="#6a0909" opacity="0.93"/>
<circle cx="582.62" cy="931.33" r="1.34" fill="#801010" opacity="0.84"/>
<circle cx="578.03" cy="833.46" r="1.71" fill="#6a0909" opacity="0.76"/>
<circle cx="532.97" cy="916.46" r="1.74" fill="#6a0909" opacity="0.68"/>
<circle cx="493.64" cy="872.73" r="1.47" fill="#6a0909" opacity="0.89"/>
<circle cx="636.06" cy="869.34" r="2.07" fill="#5a0707" opacity="0.91"/>
<circle cx="570.38" cy="864.6" r="1.66" fill="#4a0505" opacity="0.82"/>
<circle cx="544.91" cy="899.51" r="1.51" fill="#4a0505" opacity="0.82"/>
<circle cx="525.45" cy="865.05" r="1.97" fill="#801010" opacity="0.81"/>
<circle cx="555.65" cy="840.9" r="1.67" fill="#6a0909" opacity="0.78"/>
<circle cx="560.28" cy="833.31" r="1.9" fill="#4a0505" opacity="0.94"/>
<circle cx="543.76" cy="854.13" r="1.54" fill="#801010" opacity="0.85"/>
<circle cx="618.33" cy="904.2" r="2.06" fill="#801010" opacity="0.80"/>
<circle cx="599.25" cy="854.2" r="2.15" fill="#801010" opacity="0.82"/>
<circle cx="501.61" cy="905.38" r="2.15" fill="#5a0707" opacity="0.65"/>
<circle cx="537.35" cy="939.6" r="1.79" fill="#4a0505" opacity="0.84"/>
<circle cx="568.68" cy="862.45" r="1.49" fill="#6a0909" opacity="0.65"/>
<circle cx="580.12" cy="931.87" r="1.7" fill="#801010" opacity="0.73"/>
<circle cx="584.01" cy="875.23" r="1.45" fill="#4a0505" opacity="0.81"/>
<circle cx="571.4" cy="940.55" r="1.57" fill="#5a0707" opacity="0.74"/>
<circle cx="566.9" cy="840.69" r="1.49" fill="#4a0505" opacity="0.77"/>
<circle cx="528.01" cy="830.97" r="1.46" fill="#801010" opacity="0.86"/>
<circle cx="597.83" cy="949.69" r="1.75" fill="#6a0909" opacity="0.92"/>
<circle cx="548.99" cy="826.45" r="2.06" fill="#801010" opacity="0.74"/>
<circle cx="603.53" cy="895.86" r="1.24" fill="#4a0505" opacity="0.62"/>
<circle cx="595.8" cy="901.55" r="1.66" fill="#5a0707" opacity="0.64"/>
<circle cx="508.6" cy="854.79" r="1.56" fill="#6a0909" opacity="0.94"/>
<circle cx="549.06" cy="860.46" r="1.65" fill="#4a0505" opacity="0.77"/>
<circle cx="627.3" cy="929.66" r="1.65" fill="#5a0707" opacity="0.82"/>
<circle cx="629.46" cy="927.85" r="1.65" fill="#5a0707" opacity="0.91"/>
<circle cx="577.49" cy="851.19" r="1.71" fill="#801010" opacity="0.65"/>
<circle cx="563.07" cy="878.64" r="1.36" fill="#801010" opacity="0.83"/>
<circle cx="619.05" cy="855.48" r="1.77" fill="#6a0909" opacity="0.85"/>
<circle cx="579.91" cy="847.65" r="1.39" fill="#801010" opacity="0.95"/>
<circle cx="510.91" cy="907.4" r="2.19" fill="#5a0707" opacity="0.84"/>
<circle cx="529.23" cy="923.45" r="2" fill="#4a0505" opacity="0.72"/>
<circle cx="572.82" cy="887.11" r="2.06" fill="#4a0505" opacity="0.95"/>
<circle cx="558.89" cy="935.66" r="1.35" fill="#5a0707" opacity="0.87"/>
<circle cx="572.77" cy="949.16" r="1.91" fill="#801010" opacity="0.60"/>
<circle cx="539.16" cy="943.88" r="1.64" fill="#801010" opacity="0.85"/>
<circle cx="518.7" cy="918.77" r="1.3" fill="#4a0505" opacity="0.77"/>
<circle cx="586.59" cy="841.04" r="1.41" fill="#4a0505" opacity="0.78"/>
<circle cx="560.39" cy="883.84" r="1.66" fill="#4a0505" opacity="0.90"/>
<circle cx="583.61" cy="857.99" r="1.46" fill="#6a0909" opacity="0.78"/>
<circle cx="577.45" cy="943.81" r="1.93" fill="#5a0707" opacity="0.72"/>
<circle cx="560.27" cy="851.08" r="2.11" fill="#6a0909" opacity="0.68"/>
<circle cx="511.13" cy="864.82" r="2.01" fill="#801010" opacity="0.84"/>
<circle cx="553.99" cy="934.68" r="2.12" fill="#6a0909" opacity="0.66"/>
<circle cx="591.64" cy="888.5" r="2.09" fill="#801010" opacity="0.92"/>
<circle cx="628.34" cy="873.97" r="1.76" fill="#4a0505" opacity="0.63"/>
<circle cx="530.97" cy="852.19" r="1.57" fill="#5a0707" opacity="0.94"/>
<circle cx="540.63" cy="887.36" r="1.97" fill="#4a0505" opacity="0.71"/>
<circle cx="552.61" cy="856.78" r="1.68" fill="#4a0505" opacity="0.93"/>
<circle cx="524.93" cy="915.24" r="1.62" fill="#5a0707" opacity="0.67"/>
<circle cx="487.01" cy="881.76" r="1.95" fill="#5a0707" opacity="0.68"/>
<circle cx="574.01" cy="907.99" r="1.25" fill="#4a0505" opacity="0.75"/>
<circle cx="575.53" cy="934.92" r="1.77" fill="#5a0707" opacity="0.95"/>
<circle cx="574.84" cy="920.37" r="1.87" fill="#4a0505" opacity="0.73"/>
<circle cx="576.73" cy="913.16" r="1.31" fill="#801010" opacity="0.86"/>
<circle cx="537.07" cy="907" r="2.19" fill="#5a0707" opacity="0.95"/>
<circle cx="581.3" cy="905.56" r="1.57" fill="#6a0909" opacity="0.73"/>
<circle cx="538.07" cy="886.68" r="1.36" fill="#6a0909" opacity="0.65"/>
<circle cx="575.36" cy="930.89" r="1.51" fill="#6a0909" opacity="0.80"/>
<circle cx="491.3" cy="878.61" r="1.74" fill="#801010" opacity="0.61"/>
<circle cx="484.82" cy="865.91" r="2.13" fill="#6a0909" opacity="0.60"/>
<circle cx="627.74" cy="854.7" r="2.03" fill="#5a0707" opacity="0.81"/>
<circle cx="548.19" cy="875.14" r="1.42" fill="#5a0707" opacity="0.83"/>
<circle cx="617.39" cy="871.06" r="2.12" fill="#6a0909" opacity="0.81"/>
<circle cx="490.07" cy="904.77" r="1.95" fill="#801010" opacity="0.63"/>
<circle cx="607.87" cy="870.08" r="1.37" fill="#6a0909" opacity="0.75"/>
<circle cx="575.11" cy="878.82" r="2.02" fill="#6a0909" opacity="0.88"/>
<circle cx="483.05" cy="882.79" r="1.71" fill="#6a0909" opacity="0.66"/>
<circle cx="589.2" cy="867.74" r="1.29" fill="#801010" opacity="0.92"/>
<circle cx="542.9" cy="827.38" r="1.74" fill="#5a0707" opacity="0.70"/>
<circle cx="537.09" cy="835.94" r="1.42" fill="#4a0505" opacity="0.74"/>
</g>
<g filter="url(#sb1)">
<circle cx="522.9" cy="855.3" r="2.4" fill="#f02020"/>
<circle cx="520.9" cy="870.3" r="2.4" fill="#f02020"/>
<circle cx="553.9" cy="875.3" r="2.4" fill="#f02020"/>
<circle cx="567.9" cy="880.3" r="2.4" fill="#f02020"/>
<circle cx="611.9" cy="863.3" r="2.4" fill="#f02020"/>
<circle cx="526.9" cy="901.3" r="2.4" fill="#f02020"/>
<circle cx="525.9" cy="911.3" r="2.4" fill="#f02020"/>
<circle cx="526.9" cy="919.3" r="2.4" fill="#f02020"/>
<circle cx="600.9" cy="910.3" r="2.4" fill="#f02020"/>
<circle cx="609.9" cy="920.3" r="2.4" fill="#f02020"/>
<circle cx="582.9" cy="906.3" r="2.4" fill="#f02020"/>
</g>
<path d="M552.8,819.3 C558.05,819.78 564.92,821.4 570.5,823.2 C576.08,825 581.05,827.63 586.3,830.1 C591.55,832.57 596.75,835.22 602,838 C607.25,840.78 613.2,843.85 617.8,846.8 C622.4,849.75 626.17,852.42 629.6,855.7 C633.03,858.98 636.43,863.05 638.4,866.5 C640.37,869.95 640.73,872.47 641.4,876.4 C642.07,880.33 642.4,885.18 642.4,890.1 C642.4,895.02 641.9,901.3 641.4,905.9 C640.9,910.5 640.72,913.43 639.4,917.7 C638.08,921.97 636.12,927.23 633.5,931.5 C630.88,935.77 627.63,940.03 623.7,943.3 C619.77,946.57 614.83,949.3 609.9,951.1 C604.97,952.9 599.35,953.6 594.1,954.1 C588.85,954.6 583.63,954.43 578.4,954.1 C573.17,953.77 567.3,952.92 562.7,952.1 C558.1,951.28 554.75,950.5 550.8,949.2 C546.85,947.9 543.25,946.27 539,944.3 C534.75,942.33 529.88,940.03 525.3,937.4 C520.72,934.77 515.77,931.45 511.5,928.5 C507.23,925.55 503.32,923.15 499.7,919.7 C496.08,916.25 492.43,911.9 489.8,907.8 C487.17,903.7 485.2,899.35 483.9,895.1 C482.6,890.85 482,887.07 482,882.3 C482,877.53 482.6,871.1 483.9,866.5 C485.2,861.9 487.17,858.63 489.8,854.7 C492.43,850.77 496.08,846.5 499.7,842.9 C503.32,839.3 507.23,836.05 511.5,833.1 C515.77,830.15 520.72,827.33 525.3,825.2 C529.88,823.07 534.42,821.28 539,820.3 C543.58,819.32 547.55,818.82 552.8,819.3Z" fill="none" stroke="#fff" stroke-width="3.3" stroke-dasharray="3.3 3.2"/>
<rect x="544.6" y="932.9" width="13.5" height="12.9" fill="none" stroke="#d826d8" stroke-width="2.8"/>
</g>
<clipPath id="cl4"><rect x="654" y="793.3" width="171.4" height="171.8"/></clipPath>
<g clip-path="url(#cl4)">
<rect x="654" y="793.3" width="171.4" height="171.8" fill="#031103"/>
<path d="M725.1,819.3 C730.35,819.78 737.22,821.4 742.8,823.2 C748.38,825 753.35,827.63 758.6,830.1 C763.85,832.57 769.05,835.22 774.3,838 C779.55,840.78 785.5,843.85 790.1,846.8 C794.7,849.75 798.47,852.42 801.9,855.7 C805.33,858.98 808.73,863.05 810.7,866.5 C812.67,869.95 813.03,872.47 813.7,876.4 C814.37,880.33 814.7,885.18 814.7,890.1 C814.7,895.02 814.2,901.3 813.7,905.9 C813.2,910.5 813.02,913.43 811.7,917.7 C810.38,921.97 808.42,927.23 805.8,931.5 C803.18,935.77 799.93,940.03 796,943.3 C792.07,946.57 787.13,949.3 782.2,951.1 C777.27,952.9 771.65,953.6 766.4,954.1 C761.15,954.6 755.93,954.43 750.7,954.1 C745.47,953.77 739.6,952.92 735,952.1 C730.4,951.28 727.05,950.5 723.1,949.2 C719.15,947.9 715.55,946.27 711.3,944.3 C707.05,942.33 702.18,940.03 697.6,937.4 C693.02,934.77 688.07,931.45 683.8,928.5 C679.53,925.55 675.62,923.15 672,919.7 C668.38,916.25 664.73,911.9 662.1,907.8 C659.47,903.7 657.5,899.35 656.2,895.1 C654.9,890.85 654.3,887.07 654.3,882.3 C654.3,877.53 654.9,871.1 656.2,866.5 C657.5,861.9 659.47,858.63 662.1,854.7 C664.73,850.77 668.38,846.5 672,842.9 C675.62,839.3 679.53,836.05 683.8,833.1 C688.07,830.15 693.02,827.33 697.6,825.2 C702.18,823.07 706.72,821.28 711.3,820.3 C715.88,819.32 719.85,818.82 725.1,819.3Z" fill="#0a1e03" filter="url(#sb4)"/>
<g filter="url(#sb2)">
<circle cx="680.69" cy="805.4" r="5.97" fill="#083008" opacity="0.88"/>
<circle cx="792.62" cy="843.46" r="3.38" fill="#0a380a" opacity="0.62"/>
<circle cx="658.31" cy="825.06" r="5.37" fill="#083008" opacity="0.84"/>
<circle cx="666.84" cy="931.04" r="3.16" fill="#083008" opacity="0.77"/>
<circle cx="821.66" cy="868.54" r="3.4" fill="#083008" opacity="0.76"/>
<circle cx="698.68" cy="813.4" r="3.28" fill="#0a380a" opacity="0.67"/>
<circle cx="680.22" cy="943.47" r="5.62" fill="#083008" opacity="0.90"/>
<circle cx="708.56" cy="949.45" r="5.91" fill="#0a380a" opacity="0.79"/>
<circle cx="816.46" cy="890.51" r="3.93" fill="#083008" opacity="0.66"/>
<circle cx="778.68" cy="815.01" r="4.53" fill="#0a380a" opacity="0.78"/>
<circle cx="779.31" cy="829.88" r="5.59" fill="#0a380a" opacity="0.81"/>
<circle cx="731.99" cy="808.11" r="5.2" fill="#0a380a" opacity="0.66"/>
<circle cx="700.76" cy="803.76" r="4.23" fill="#0a380a" opacity="0.73"/>
<circle cx="802.83" cy="845.79" r="4.02" fill="#083008" opacity="0.74"/>
<circle cx="685.88" cy="810.84" r="3.81" fill="#083008" opacity="0.75"/>
<circle cx="799.49" cy="942.36" r="3.87" fill="#0a380a" opacity="0.65"/>
<circle cx="696.06" cy="799.61" r="5.67" fill="#083008" opacity="0.73"/>
<circle cx="718.21" cy="813.8" r="4.32" fill="#0a380a" opacity="0.72"/>
<circle cx="657.47" cy="860.31" r="5.35" fill="#0a380a" opacity="0.82"/>
<circle cx="675.72" cy="799.32" r="3.62" fill="#083008" opacity="0.77"/>
<circle cx="799.51" cy="834.65" r="4.76" fill="#0a380a" opacity="0.77"/>
<circle cx="709.19" cy="799.55" r="4.55" fill="#0a380a" opacity="0.86"/>
<circle cx="824.23" cy="950.52" r="5.71" fill="#083008" opacity="0.63"/>
<circle cx="823.07" cy="834.6" r="3.73" fill="#0a380a" opacity="0.78"/>
<circle cx="718.65" cy="799.82" r="3.81" fill="#0a380a" opacity="0.83"/>
<circle cx="736.13" cy="962.87" r="4.99" fill="#083008" opacity="0.74"/>
<circle cx="756.67" cy="823.4" r="4.65" fill="#0a380a" opacity="0.72"/>
<circle cx="791.06" cy="811.27" r="5.28" fill="#0a380a" opacity="0.82"/>
<circle cx="814.92" cy="944.14" r="4.39" fill="#0a380a" opacity="0.66"/>
<circle cx="654.37" cy="809.36" r="3.55" fill="#083008" opacity="0.60"/>
<circle cx="811.54" cy="853.06" r="5.95" fill="#0a380a" opacity="0.65"/>
<circle cx="689.91" cy="944.07" r="5.54" fill="#0a380a" opacity="0.78"/>
<circle cx="716.74" cy="962.39" r="3.41" fill="#0a380a" opacity="0.80"/>
<circle cx="673.53" cy="821.03" r="5.87" fill="#083008" opacity="0.71"/>
<circle cx="658.93" cy="831.05" r="5.05" fill="#0a380a" opacity="0.80"/>
<circle cx="687.86" cy="823.02" r="5.08" fill="#083008" opacity="0.68"/>
<circle cx="764.48" cy="816.69" r="4.98" fill="#083008" opacity="0.86"/>
<circle cx="673.07" cy="840.33" r="5.04" fill="#0a380a" opacity="0.76"/>
<circle cx="820.22" cy="934.55" r="3.24" fill="#083008" opacity="0.79"/>
<circle cx="741.79" cy="818.66" r="3.53" fill="#083008" opacity="0.85"/>
<circle cx="743.25" cy="796.01" r="4.32" fill="#083008" opacity="0.85"/>
<circle cx="801.82" cy="828.18" r="4.81" fill="#0a380a" opacity="0.64"/>
<circle cx="717.88" cy="949.57" r="4.87" fill="#083008" opacity="0.64"/>
<circle cx="701.78" cy="951.37" r="5.61" fill="#083008" opacity="0.90"/>
<circle cx="702.15" cy="952.47" r="5.2" fill="#083008" opacity="0.67"/>
<circle cx="669.68" cy="952.23" r="4.84" fill="#0a380a" opacity="0.86"/>
<circle cx="817.92" cy="841.6" r="3.4" fill="#083008" opacity="0.69"/>
<circle cx="661.82" cy="809.62" r="5.86" fill="#0a380a" opacity="0.71"/>
<circle cx="658.55" cy="922.76" r="4.2" fill="#0a380a" opacity="0.65"/>
<circle cx="813.98" cy="820.15" r="4.28" fill="#083008" opacity="0.66"/>
<circle cx="820.36" cy="829.31" r="4.96" fill="#083008" opacity="0.67"/>
<circle cx="803.52" cy="845.3" r="4.66" fill="#083008" opacity="0.78"/>
<circle cx="761.3" cy="814.85" r="3.88" fill="#083008" opacity="0.86"/>
<circle cx="769.41" cy="956.99" r="5.54" fill="#083008" opacity="0.65"/>
<circle cx="683.53" cy="947.38" r="3.66" fill="#0a380a" opacity="0.86"/>
<circle cx="720.5" cy="818.88" r="5.17" fill="#083008" opacity="0.85"/>
<circle cx="737.32" cy="810.33" r="4.33" fill="#083008" opacity="0.87"/>
<circle cx="764.73" cy="810.81" r="3.65" fill="#0a380a" opacity="0.83"/>
<circle cx="736.26" cy="804.51" r="5.07" fill="#083008" opacity="0.65"/>
<circle cx="671.33" cy="937.43" r="3.59" fill="#083008" opacity="0.66"/>
</g>
<g filter="url(#sb1)">
<circle cx="699.06" cy="824.63" r="1.76" fill="#0c400c" opacity="0.74"/>
<circle cx="777.87" cy="812.9" r="2.44" fill="#0c400c" opacity="0.63"/>
<circle cx="738.04" cy="797.26" r="1.65" fill="#0c400c" opacity="0.61"/>
<circle cx="813.59" cy="860.72" r="1.9" fill="#0e4a0e" opacity="0.79"/>
<circle cx="809.23" cy="934.32" r="2.19" fill="#0c400c" opacity="0.77"/>
<circle cx="802.22" cy="807.02" r="2.48" fill="#0e4a0e" opacity="0.73"/>
<circle cx="655.52" cy="837.78" r="2.16" fill="#0e4a0e" opacity="0.85"/>
<circle cx="734.56" cy="815.8" r="1.92" fill="#0e4a0e" opacity="0.79"/>
<circle cx="813.99" cy="817.82" r="2.19" fill="#0e4a0e" opacity="0.80"/>
<circle cx="711.71" cy="815.32" r="1.49" fill="#0a360a" opacity="0.61"/>
<circle cx="772" cy="821.2" r="2.28" fill="#0c400c" opacity="0.62"/>
<circle cx="814.48" cy="797.62" r="2.5" fill="#0a360a" opacity="0.81"/>
<circle cx="672.29" cy="952.31" r="2.56" fill="#0e4a0e" opacity="0.70"/>
<circle cx="701.78" cy="812.12" r="2.18" fill="#0c400c" opacity="0.68"/>
<circle cx="812.43" cy="819.66" r="2.32" fill="#0e4a0e" opacity="0.68"/>
<circle cx="726.91" cy="954.53" r="1.55" fill="#0c400c" opacity="0.60"/>
<circle cx="784.75" cy="810.88" r="1.89" fill="#0c400c" opacity="0.75"/>
<circle cx="669.21" cy="797.95" r="1.67" fill="#0a360a" opacity="0.62"/>
<circle cx="669.52" cy="826.71" r="1.48" fill="#0a360a" opacity="0.69"/>
<circle cx="820.06" cy="869.08" r="1.69" fill="#0a360a" opacity="0.85"/>
<circle cx="662.04" cy="920.81" r="2.05" fill="#0c400c" opacity="0.80"/>
<circle cx="706.33" cy="803.33" r="1.52" fill="#0c400c" opacity="0.62"/>
<circle cx="668.66" cy="930.94" r="1.81" fill="#0e4a0e" opacity="0.71"/>
<circle cx="696.41" cy="950.28" r="1.73" fill="#0a360a" opacity="0.89"/>
<circle cx="806.98" cy="963.42" r="1.71" fill="#0e4a0e" opacity="0.84"/>
<circle cx="758.88" cy="828.35" r="2.18" fill="#0a360a" opacity="0.84"/>
<circle cx="749.65" cy="806.96" r="1.61" fill="#0a360a" opacity="0.68"/>
<circle cx="759.62" cy="826.63" r="1.61" fill="#0e4a0e" opacity="0.80"/>
<circle cx="807.58" cy="957.9" r="1.87" fill="#0e4a0e" opacity="0.73"/>
<circle cx="816.73" cy="959.06" r="2.59" fill="#0e4a0e" opacity="0.74"/>
<circle cx="797.82" cy="834.64" r="1.49" fill="#0a360a" opacity="0.77"/>
<circle cx="757.07" cy="962.33" r="2.41" fill="#0c400c" opacity="0.80"/>
<circle cx="683.19" cy="820.04" r="2.04" fill="#0a360a" opacity="0.74"/>
<circle cx="821.84" cy="932.85" r="1.76" fill="#0e4a0e" opacity="0.68"/>
<circle cx="721.67" cy="795.38" r="1.66" fill="#0e4a0e" opacity="0.74"/>
<circle cx="788.78" cy="809.44" r="1.88" fill="#0c400c" opacity="0.67"/>
<circle cx="690.5" cy="803.35" r="2.59" fill="#0a360a" opacity="0.87"/>
<circle cx="675.36" cy="939.01" r="2.15" fill="#0c400c" opacity="0.78"/>
<circle cx="669.42" cy="962.31" r="2.15" fill="#0a360a" opacity="0.78"/>
<circle cx="812.01" cy="932.88" r="2.22" fill="#0a360a" opacity="0.61"/>
<circle cx="660.54" cy="836.97" r="2.52" fill="#0a360a" opacity="0.79"/>
<circle cx="767.55" cy="954.33" r="1.93" fill="#0a360a" opacity="0.74"/>
<circle cx="792.66" cy="835.95" r="2.21" fill="#0a360a" opacity="0.81"/>
<circle cx="689.91" cy="829.22" r="1.8" fill="#0a360a" opacity="0.88"/>
<circle cx="824.84" cy="869.86" r="2.16" fill="#0c400c" opacity="0.65"/>
<circle cx="820.57" cy="823.28" r="1.48" fill="#0c400c" opacity="0.61"/>
<circle cx="740.42" cy="808.1" r="2.42" fill="#0c400c" opacity="0.83"/>
<circle cx="758.01" cy="964.51" r="1.67" fill="#0c400c" opacity="0.90"/>
<circle cx="658.6" cy="938" r="2.43" fill="#0e4a0e" opacity="0.75"/>
<circle cx="708.1" cy="958" r="1.71" fill="#0a360a" opacity="0.79"/>
<circle cx="723.31" cy="810.85" r="1.92" fill="#0a360a" opacity="0.75"/>
<circle cx="658.27" cy="919.01" r="2.45" fill="#0e4a0e" opacity="0.90"/>
<circle cx="784.01" cy="801.16" r="2.2" fill="#0e4a0e" opacity="0.68"/>
<circle cx="811.7" cy="935.22" r="1.82" fill="#0c400c" opacity="0.74"/>
<circle cx="757.41" cy="802.32" r="2.05" fill="#0e4a0e" opacity="0.88"/>
<circle cx="751.02" cy="963.76" r="1.92" fill="#0c400c" opacity="0.86"/>
<circle cx="706.1" cy="948.35" r="2.25" fill="#0c400c" opacity="0.88"/>
<circle cx="656.39" cy="848.34" r="1.47" fill="#0a360a" opacity="0.84"/>
<circle cx="659.29" cy="904.66" r="1.69" fill="#0e4a0e" opacity="0.71"/>
<circle cx="817.59" cy="927.17" r="1.7" fill="#0c400c" opacity="0.75"/>
<circle cx="791.7" cy="823.36" r="2.55" fill="#0a360a" opacity="0.69"/>
<circle cx="790.45" cy="802.31" r="1.6" fill="#0c400c" opacity="0.85"/>
<circle cx="813.06" cy="804.34" r="1.49" fill="#0e4a0e" opacity="0.71"/>
<circle cx="660.93" cy="944.17" r="2.01" fill="#0e4a0e" opacity="0.64"/>
<circle cx="691.15" cy="954.72" r="1.67" fill="#0e4a0e" opacity="0.60"/>
<circle cx="670.73" cy="924.97" r="2.16" fill="#0e4a0e" opacity="0.85"/>
<circle cx="822.79" cy="849.61" r="2.51" fill="#0c400c" opacity="0.69"/>
<circle cx="747.03" cy="816.55" r="2.47" fill="#0e4a0e" opacity="0.67"/>
<circle cx="674.89" cy="927.03" r="1.77" fill="#0c400c" opacity="0.63"/>
<circle cx="681.36" cy="811.6" r="1.88" fill="#0e4a0e" opacity="0.65"/>
<circle cx="689.54" cy="953.54" r="1.51" fill="#0c400c" opacity="0.80"/>
<circle cx="668.31" cy="835.71" r="1.46" fill="#0a360a" opacity="0.88"/>
<circle cx="761.27" cy="813.35" r="1.81" fill="#0e4a0e" opacity="0.67"/>
<circle cx="773.88" cy="815.16" r="1.48" fill="#0e4a0e" opacity="0.73"/>
<circle cx="704.04" cy="813.44" r="1.79" fill="#0e4a0e" opacity="0.68"/>
<circle cx="811.96" cy="954.69" r="1.48" fill="#0e4a0e" opacity="0.73"/>
<circle cx="655.05" cy="944.52" r="1.85" fill="#0e4a0e" opacity="0.64"/>
<circle cx="809.27" cy="952.44" r="2.13" fill="#0e4a0e" opacity="0.79"/>
<circle cx="739.75" cy="796.02" r="2.59" fill="#0a360a" opacity="0.61"/>
<circle cx="779.28" cy="808.59" r="1.77" fill="#0c400c" opacity="0.66"/>
<circle cx="673.69" cy="922.03" r="2.19" fill="#0e4a0e" opacity="0.77"/>
<circle cx="823.77" cy="849.91" r="1.78" fill="#0e4a0e" opacity="0.75"/>
<circle cx="730.49" cy="961.54" r="2.01" fill="#0a360a" opacity="0.80"/>
<circle cx="793.38" cy="802.97" r="2.34" fill="#0e4a0e" opacity="0.87"/>
<circle cx="745.34" cy="800.61" r="1.61" fill="#0c400c" opacity="0.66"/>
<circle cx="669.84" cy="819.55" r="2.38" fill="#0a360a" opacity="0.69"/>
<circle cx="766.15" cy="831.85" r="1.49" fill="#0c400c" opacity="0.70"/>
<circle cx="822.75" cy="839.17" r="1.62" fill="#0e4a0e" opacity="0.84"/>
<circle cx="686.68" cy="960.59" r="1.73" fill="#0a360a" opacity="0.67"/>
<circle cx="708.66" cy="794.93" r="2.44" fill="#0a360a" opacity="0.83"/>
<circle cx="822.94" cy="858.34" r="2.09" fill="#0c400c" opacity="0.83"/>
<circle cx="689.89" cy="962.12" r="2.33" fill="#0e4a0e" opacity="0.67"/>
<circle cx="734.87" cy="793.39" r="1.75" fill="#0e4a0e" opacity="0.81"/>
<circle cx="799.01" cy="842.27" r="2.12" fill="#0e4a0e" opacity="0.82"/>
<circle cx="712.79" cy="809.78" r="2.5" fill="#0e4a0e" opacity="0.66"/>
<circle cx="754.95" cy="958.82" r="1.7" fill="#0e4a0e" opacity="0.75"/>
<circle cx="700.29" cy="945.18" r="2.32" fill="#0e4a0e" opacity="0.80"/>
<circle cx="811.8" cy="852.33" r="2.54" fill="#0a360a" opacity="0.89"/>
<circle cx="656.25" cy="850.01" r="2.34" fill="#0e4a0e" opacity="0.84"/>
<circle cx="817.5" cy="816.9" r="1.54" fill="#0e4a0e" opacity="0.71"/>
</g>
<g filter="url(#sb2)">
<circle cx="696.86" cy="892.66" r="2.75" fill="#3a3a06" opacity="0.71"/>
<circle cx="742.67" cy="934.36" r="2.52" fill="#1e4a08" opacity="0.88"/>
<circle cx="789.62" cy="889.81" r="2.75" fill="#3a3a06" opacity="0.87"/>
<circle cx="695.86" cy="837.63" r="2.15" fill="#104e10" opacity="0.88"/>
<circle cx="745.8" cy="936.62" r="3.29" fill="#3a3a06" opacity="0.71"/>
<circle cx="663.91" cy="907.57" r="2.64" fill="#1e4a08" opacity="0.89"/>
<circle cx="686.17" cy="915.46" r="2.13" fill="#1e4a08" opacity="0.70"/>
<circle cx="737.2" cy="881.45" r="3.43" fill="#1e4a08" opacity="0.79"/>
<circle cx="718.45" cy="845.43" r="3.15" fill="#104e10" opacity="0.74"/>
<circle cx="786.7" cy="922.04" r="3.15" fill="#104e10" opacity="0.70"/>
<circle cx="749.76" cy="903.65" r="3.03" fill="#3a3a06" opacity="0.72"/>
<circle cx="791.67" cy="874.32" r="2.45" fill="#3a3a06" opacity="0.76"/>
<circle cx="658.32" cy="877.35" r="2.31" fill="#1e4a08" opacity="0.70"/>
<circle cx="768.72" cy="884.1" r="2.07" fill="#104e10" opacity="0.64"/>
<circle cx="744.28" cy="877.18" r="2.99" fill="#104e10" opacity="0.68"/>
<circle cx="750.94" cy="884.05" r="2.21" fill="#3a3a06" opacity="0.90"/>
<circle cx="767.95" cy="893.46" r="2.73" fill="#1e4a08" opacity="0.71"/>
<circle cx="807.91" cy="867.99" r="2.09" fill="#104e10" opacity="0.90"/>
<circle cx="798.18" cy="919.01" r="2.61" fill="#1e4a08" opacity="0.64"/>
<circle cx="787.27" cy="862.7" r="2.76" fill="#1e4a08" opacity="0.88"/>
<circle cx="799.84" cy="885.19" r="3.48" fill="#1e4a08" opacity="0.66"/>
<circle cx="811.83" cy="876.51" r="3.05" fill="#104e10" opacity="0.82"/>
<circle cx="784.02" cy="845.12" r="2.95" fill="#104e10" opacity="0.64"/>
<circle cx="770.78" cy="872.97" r="2.25" fill="#3a3a06" opacity="0.70"/>
<circle cx="795.28" cy="931.52" r="3.1" fill="#1e4a08" opacity="0.73"/>
<circle cx="711.3" cy="882.65" r="2.87" fill="#104e10" opacity="0.64"/>
<circle cx="752.99" cy="865.64" r="2.19" fill="#1e4a08" opacity="0.73"/>
<circle cx="726.22" cy="867.56" r="2.78" fill="#104e10" opacity="0.76"/>
<circle cx="679.27" cy="838.18" r="3.46" fill="#3a3a06" opacity="0.63"/>
<circle cx="721.74" cy="870.42" r="2.18" fill="#104e10" opacity="0.61"/>
<circle cx="803.15" cy="909.02" r="3.36" fill="#1e4a08" opacity="0.67"/>
<circle cx="768.71" cy="870.32" r="3.31" fill="#104e10" opacity="0.87"/>
<circle cx="789.34" cy="856.08" r="2.89" fill="#3a3a06" opacity="0.90"/>
<circle cx="776.58" cy="872.2" r="3.45" fill="#1e4a08" opacity="0.73"/>
<circle cx="690.98" cy="917.78" r="3" fill="#3a3a06" opacity="0.74"/>
<circle cx="754.88" cy="865.62" r="2.76" fill="#1e4a08" opacity="0.82"/>
<circle cx="729.33" cy="830.64" r="2.14" fill="#3a3a06" opacity="0.78"/>
<circle cx="798.85" cy="918.38" r="2.5" fill="#104e10" opacity="0.88"/>
<circle cx="724.35" cy="900.38" r="2.75" fill="#104e10" opacity="0.85"/>
<circle cx="730.78" cy="848.63" r="2.26" fill="#1e4a08" opacity="0.69"/>
<circle cx="759.99" cy="948.04" r="2.4" fill="#104e10" opacity="0.87"/>
<circle cx="771.21" cy="870.04" r="2.23" fill="#104e10" opacity="0.68"/>
<circle cx="729.18" cy="949.32" r="2.88" fill="#1e4a08" opacity="0.73"/>
<circle cx="804.22" cy="917.88" r="2.59" fill="#1e4a08" opacity="0.83"/>
<circle cx="723.21" cy="874.92" r="2.23" fill="#3a3a06" opacity="0.71"/>
<circle cx="794.36" cy="881.41" r="2.31" fill="#104e10" opacity="0.65"/>
<circle cx="711.63" cy="910.38" r="2.4" fill="#104e10" opacity="0.80"/>
<circle cx="672.7" cy="844.29" r="2.49" fill="#3a3a06" opacity="0.67"/>
<circle cx="703.91" cy="841.42" r="3.02" fill="#3a3a06" opacity="0.81"/>
<circle cx="750.99" cy="906.38" r="2.07" fill="#104e10" opacity="0.65"/>
<circle cx="698.24" cy="884.06" r="2.88" fill="#104e10" opacity="0.73"/>
<circle cx="783.13" cy="851.92" r="3.27" fill="#1e4a08" opacity="0.69"/>
<circle cx="722.15" cy="927.26" r="2.45" fill="#104e10" opacity="0.63"/>
<circle cx="770.86" cy="841.76" r="2.92" fill="#3a3a06" opacity="0.67"/>
<circle cx="719.45" cy="891.98" r="2.65" fill="#104e10" opacity="0.88"/>
<circle cx="761.89" cy="906.18" r="2.44" fill="#104e10" opacity="0.77"/>
<circle cx="807.51" cy="888.27" r="2.36" fill="#1e4a08" opacity="0.75"/>
<circle cx="735.65" cy="888.41" r="2.63" fill="#104e10" opacity="0.77"/>
<circle cx="682.35" cy="857.27" r="2.03" fill="#1e4a08" opacity="0.70"/>
<circle cx="678.53" cy="896.76" r="2.19" fill="#1e4a08" opacity="0.69"/>
<circle cx="799.88" cy="911.69" r="2.76" fill="#1e4a08" opacity="0.65"/>
<circle cx="806.89" cy="904.76" r="2.99" fill="#104e10" opacity="0.70"/>
<circle cx="720.01" cy="888.03" r="2.36" fill="#104e10" opacity="0.71"/>
<circle cx="789.17" cy="884.23" r="3.4" fill="#104e10" opacity="0.86"/>
<circle cx="745.83" cy="928.6" r="3.3" fill="#104e10" opacity="0.77"/>
<circle cx="710.27" cy="941.74" r="2.81" fill="#1e4a08" opacity="0.63"/>
<circle cx="774.97" cy="929.98" r="2.48" fill="#3a3a06" opacity="0.64"/>
<circle cx="784.54" cy="912.39" r="2.52" fill="#3a3a06" opacity="0.80"/>
<circle cx="706.12" cy="915.11" r="3.12" fill="#1e4a08" opacity="0.86"/>
<circle cx="714.55" cy="912.43" r="3.03" fill="#3a3a06" opacity="0.71"/>
<circle cx="748.94" cy="894.79" r="2.41" fill="#3a3a06" opacity="0.87"/>
<circle cx="792.83" cy="884.17" r="3.38" fill="#104e10" opacity="0.65"/>
<circle cx="810.58" cy="885.81" r="3.38" fill="#1e4a08" opacity="0.63"/>
<circle cx="677.78" cy="908.84" r="2.93" fill="#104e10" opacity="0.85"/>
<circle cx="692.63" cy="917.56" r="2.57" fill="#1e4a08" opacity="0.86"/>
<circle cx="801.07" cy="923.72" r="2.6" fill="#104e10" opacity="0.74"/>
<circle cx="788.14" cy="910.19" r="2.84" fill="#3a3a06" opacity="0.84"/>
<circle cx="756.76" cy="906.88" r="3.44" fill="#3a3a06" opacity="0.60"/>
<circle cx="807.79" cy="915.99" r="2.83" fill="#3a3a06" opacity="0.77"/>
<circle cx="655.54" cy="875.43" r="2.56" fill="#3a3a06" opacity="0.90"/>
<circle cx="751.69" cy="848.6" r="2.98" fill="#3a3a06" opacity="0.79"/>
<circle cx="730.23" cy="885.91" r="3.4" fill="#104e10" opacity="0.77"/>
<circle cx="744.9" cy="885.97" r="3.46" fill="#3a3a06" opacity="0.89"/>
<circle cx="778.56" cy="935.2" r="2.62" fill="#1e4a08" opacity="0.75"/>
<circle cx="776.08" cy="886.46" r="3.25" fill="#104e10" opacity="0.89"/>
<circle cx="691.99" cy="831.41" r="2.6" fill="#1e4a08" opacity="0.69"/>
<circle cx="720.78" cy="918.29" r="2.86" fill="#104e10" opacity="0.79"/>
<circle cx="683.12" cy="871.35" r="2.6" fill="#3a3a06" opacity="0.63"/>
<circle cx="763.06" cy="880.39" r="3.28" fill="#1e4a08" opacity="0.84"/>
<circle cx="737.7" cy="823.49" r="2.55" fill="#3a3a06" opacity="0.78"/>
<circle cx="757.23" cy="849.78" r="2.53" fill="#104e10" opacity="0.70"/>
<circle cx="706.34" cy="823.51" r="2.88" fill="#1e4a08" opacity="0.85"/>
<circle cx="664.81" cy="886.57" r="2.47" fill="#104e10" opacity="0.67"/>
<circle cx="690.97" cy="863.59" r="3.44" fill="#3a3a06" opacity="0.68"/>
<circle cx="699.21" cy="889.62" r="2.11" fill="#3a3a06" opacity="0.77"/>
<circle cx="775.68" cy="859.01" r="2.39" fill="#104e10" opacity="0.85"/>
<circle cx="657.15" cy="864.83" r="2.38" fill="#3a3a06" opacity="0.71"/>
<circle cx="753.72" cy="833.95" r="2.79" fill="#104e10" opacity="0.74"/>
<circle cx="755.86" cy="851.42" r="3.04" fill="#104e10" opacity="0.70"/>
<circle cx="732.64" cy="929.81" r="3.39" fill="#1e4a08" opacity="0.76"/>
<circle cx="701.12" cy="882.38" r="2.71" fill="#104e10" opacity="0.83"/>
<circle cx="697" cy="899.69" r="3.27" fill="#104e10" opacity="0.66"/>
<circle cx="746.05" cy="892.06" r="3.2" fill="#1e4a08" opacity="0.85"/>
<circle cx="712.89" cy="863.44" r="2.44" fill="#104e10" opacity="0.66"/>
<circle cx="770.93" cy="934.9" r="2.2" fill="#104e10" opacity="0.68"/>
<circle cx="792.41" cy="941.33" r="2.26" fill="#104e10" opacity="0.60"/>
<circle cx="783.28" cy="896.19" r="2.48" fill="#3a3a06" opacity="0.62"/>
<circle cx="699.16" cy="834.82" r="3.47" fill="#1e4a08" opacity="0.66"/>
<circle cx="666.86" cy="912.62" r="2.35" fill="#1e4a08" opacity="0.63"/>
<circle cx="719.2" cy="870.26" r="2.15" fill="#104e10" opacity="0.79"/>
</g>
<g filter="url(#sb1)">
<circle cx="731.63" cy="951.04" r="1.18" fill="#22a822" opacity="0.77"/>
<circle cx="790.41" cy="939.82" r="1.77" fill="#22a822" opacity="0.93"/>
<circle cx="735.01" cy="874.48" r="1.25" fill="#a8a810" opacity="0.96"/>
<circle cx="756.83" cy="947.47" r="1.46" fill="#1ca01c" opacity="0.77"/>
<circle cx="762.06" cy="920.17" r="1.59" fill="#1ca01c" opacity="0.95"/>
<circle cx="801.13" cy="879.81" r="1.58" fill="#c05808" opacity="0.90"/>
<circle cx="735.67" cy="921.26" r="2.16" fill="#a8a810" opacity="0.96"/>
<circle cx="734.32" cy="862.57" r="1.14" fill="#d89010" opacity="0.83"/>
<circle cx="658.63" cy="883.66" r="1.24" fill="#a8a810" opacity="0.93"/>
<circle cx="712.98" cy="849.19" r="1.49" fill="#1ca01c" opacity="0.89"/>
<circle cx="746.88" cy="838.48" r="2.09" fill="#2cc02c" opacity="0.98"/>
<circle cx="781.88" cy="854.5" r="2.11" fill="#2cc02c" opacity="0.98"/>
<circle cx="780.11" cy="913.59" r="1.75" fill="#1ca01c" opacity="0.75"/>
<circle cx="796.9" cy="916" r="1.44" fill="#c05808" opacity="0.78"/>
<circle cx="811.83" cy="884.71" r="1.42" fill="#22a822" opacity="0.97"/>
<circle cx="666.44" cy="869.2" r="1.1" fill="#2cc02c" opacity="0.83"/>
<circle cx="673.13" cy="917.99" r="2.02" fill="#2cc02c" opacity="0.73"/>
<circle cx="720.75" cy="944.07" r="2.01" fill="#d89010" opacity="0.85"/>
<circle cx="674.63" cy="849.13" r="1.86" fill="#22a822" opacity="0.86"/>
<circle cx="744.75" cy="902.23" r="2.16" fill="#a8a810" opacity="0.72"/>
<circle cx="709.64" cy="851.97" r="1.17" fill="#2cc02c" opacity="0.83"/>
<circle cx="739.04" cy="913.89" r="1.11" fill="#d89010" opacity="0.76"/>
<circle cx="712.07" cy="859.92" r="1.55" fill="#1ca01c" opacity="0.87"/>
<circle cx="779.36" cy="899.09" r="1.14" fill="#1ca01c" opacity="0.74"/>
<circle cx="805.79" cy="884.23" r="1.72" fill="#d89010" opacity="0.82"/>
<circle cx="802.23" cy="901.93" r="1.59" fill="#1ca01c" opacity="0.99"/>
<circle cx="733.94" cy="940.38" r="1.69" fill="#1ca01c" opacity="0.84"/>
<circle cx="809.91" cy="892.5" r="1.74" fill="#a8a810" opacity="0.94"/>
<circle cx="748.71" cy="904.89" r="2.18" fill="#a8a810" opacity="0.94"/>
<circle cx="692.1" cy="906.35" r="2.03" fill="#1ca01c" opacity="0.75"/>
<circle cx="681.48" cy="886.45" r="1.52" fill="#d87010" opacity="0.76"/>
<circle cx="695.78" cy="849" r="1.39" fill="#c05808" opacity="0.80"/>
<circle cx="679.18" cy="880.1" r="1.91" fill="#d87010" opacity="0.85"/>
<circle cx="808.36" cy="871.85" r="2.02" fill="#1ca01c" opacity="0.85"/>
<circle cx="746.77" cy="825.9" r="1.78" fill="#d89010" opacity="0.81"/>
<circle cx="713.35" cy="827.71" r="2.17" fill="#2cc02c" opacity="0.98"/>
<circle cx="687.81" cy="862.9" r="1.84" fill="#22a822" opacity="0.77"/>
<circle cx="677.31" cy="841.05" r="1.83" fill="#a8a810" opacity="0.74"/>
<circle cx="787.69" cy="912.82" r="1.64" fill="#1ca01c" opacity="0.99"/>
<circle cx="720.97" cy="873.87" r="2.08" fill="#a8a810" opacity="0.90"/>
<circle cx="755.4" cy="884.31" r="1.84" fill="#22a822" opacity="0.87"/>
<circle cx="672" cy="856.85" r="1.56" fill="#d89010" opacity="0.99"/>
<circle cx="718.13" cy="918.79" r="1.57" fill="#d89010" opacity="0.86"/>
<circle cx="785.9" cy="885.84" r="1.98" fill="#a8a810" opacity="0.98"/>
<circle cx="727.82" cy="873.94" r="1.88" fill="#a8a810" opacity="0.85"/>
<circle cx="727.17" cy="914.71" r="1.43" fill="#a8a810" opacity="0.99"/>
<circle cx="728.92" cy="920.11" r="1.84" fill="#a8a810" opacity="0.85"/>
<circle cx="734.58" cy="884.78" r="1.43" fill="#d87010" opacity="0.85"/>
<circle cx="735.94" cy="840.9" r="1.53" fill="#d87010" opacity="0.74"/>
<circle cx="657.16" cy="889.41" r="1.41" fill="#d87010" opacity="0.81"/>
<circle cx="708.75" cy="920.86" r="1.77" fill="#c05808" opacity="0.95"/>
<circle cx="750.71" cy="893.64" r="2.16" fill="#d89010" opacity="0.89"/>
<circle cx="755.93" cy="935.59" r="1.86" fill="#d87010" opacity="0.92"/>
<circle cx="750.77" cy="947.93" r="1.51" fill="#d87010" opacity="0.89"/>
<circle cx="717.22" cy="840.65" r="1.34" fill="#1ca01c" opacity="0.78"/>
<circle cx="725.02" cy="927.83" r="1.38" fill="#a8a810" opacity="0.72"/>
<circle cx="738.36" cy="831.85" r="2.08" fill="#22a822" opacity="0.84"/>
<circle cx="752.35" cy="941.59" r="1.35" fill="#1ca01c" opacity="0.78"/>
<circle cx="777.86" cy="918.12" r="1.66" fill="#1ca01c" opacity="0.88"/>
<circle cx="741.79" cy="893.39" r="1.25" fill="#c05808" opacity="0.70"/>
<circle cx="689.9" cy="928.52" r="1.44" fill="#d87010" opacity="0.95"/>
<circle cx="720.61" cy="870.6" r="1.96" fill="#d87010" opacity="0.96"/>
<circle cx="707.82" cy="848.94" r="1.96" fill="#c05808" opacity="0.76"/>
<circle cx="714.81" cy="916.44" r="2" fill="#22a822" opacity="0.74"/>
<circle cx="741.16" cy="874.69" r="1.59" fill="#a8a810" opacity="0.80"/>
<circle cx="796.33" cy="912.07" r="1.54" fill="#22a822" opacity="0.80"/>
<circle cx="694.34" cy="895.5" r="2.17" fill="#d89010" opacity="0.99"/>
<circle cx="789.73" cy="924.24" r="2.15" fill="#c05808" opacity="0.77"/>
<circle cx="737.81" cy="830.13" r="1.24" fill="#a8a810" opacity="0.88"/>
<circle cx="760.98" cy="940.67" r="2.15" fill="#22a822" opacity="0.72"/>
<circle cx="684.08" cy="891.88" r="2.05" fill="#1ca01c" opacity="0.73"/>
<circle cx="750.37" cy="897.84" r="1.3" fill="#22a822" opacity="0.76"/>
<circle cx="726.22" cy="880.41" r="1.23" fill="#22a822" opacity="0.77"/>
<circle cx="790.5" cy="887.19" r="1.62" fill="#d87010" opacity="0.71"/>
<circle cx="770.26" cy="872.95" r="2.19" fill="#c05808" opacity="0.89"/>
<circle cx="685.05" cy="893.3" r="1.74" fill="#d87010" opacity="0.70"/>
<circle cx="698.75" cy="885" r="2" fill="#c05808" opacity="0.84"/>
<circle cx="761.94" cy="842.9" r="1.24" fill="#d87010" opacity="0.71"/>
<circle cx="802.59" cy="859.46" r="1.65" fill="#2cc02c" opacity="0.81"/>
<circle cx="697.47" cy="937.07" r="2.13" fill="#a8a810" opacity="0.77"/>
<circle cx="666.2" cy="901.81" r="1.13" fill="#22a822" opacity="0.97"/>
<circle cx="705.4" cy="899.31" r="1.85" fill="#d87010" opacity="0.75"/>
<circle cx="716.56" cy="928.48" r="1.61" fill="#a8a810" opacity="0.94"/>
<circle cx="674.06" cy="881.97" r="1.13" fill="#2cc02c" opacity="0.89"/>
<circle cx="752.17" cy="952.09" r="1.87" fill="#d89010" opacity="0.83"/>
<circle cx="747.81" cy="854.73" r="1.94" fill="#1ca01c" opacity="0.73"/>
<circle cx="756.29" cy="905.39" r="1.15" fill="#d89010" opacity="0.81"/>
<circle cx="679.15" cy="852.54" r="2.1" fill="#a8a810" opacity="0.86"/>
<circle cx="682.2" cy="914.7" r="2.1" fill="#2cc02c" opacity="0.99"/>
<circle cx="753.47" cy="854.99" r="1.17" fill="#22a822" opacity="0.87"/>
<circle cx="766.54" cy="904.35" r="1.94" fill="#1ca01c" opacity="0.72"/>
<circle cx="802.93" cy="886.57" r="1.64" fill="#d87010" opacity="0.72"/>
<circle cx="808.65" cy="877.92" r="1.38" fill="#d87010" opacity="0.79"/>
<circle cx="692.06" cy="890.16" r="1.44" fill="#c05808" opacity="0.86"/>
<circle cx="681.47" cy="844.22" r="1.82" fill="#d87010" opacity="0.72"/>
<circle cx="699.79" cy="925.91" r="1.22" fill="#d87010" opacity="0.73"/>
<circle cx="734.72" cy="907.21" r="2.04" fill="#d87010" opacity="0.87"/>
<circle cx="741.61" cy="915.27" r="1.24" fill="#c05808" opacity="0.98"/>
<circle cx="766.44" cy="909.38" r="1.14" fill="#c05808" opacity="1.00"/>
<circle cx="809.61" cy="905.62" r="1.64" fill="#1ca01c" opacity="0.77"/>
<circle cx="766.07" cy="843.96" r="1.7" fill="#2cc02c" opacity="0.93"/>
<circle cx="724.39" cy="855.42" r="1.94" fill="#22a822" opacity="0.87"/>
<circle cx="699.68" cy="868.1" r="2.07" fill="#d89010" opacity="0.72"/>
<circle cx="715.34" cy="911.22" r="1.17" fill="#d89010" opacity="0.90"/>
<circle cx="798.13" cy="931.23" r="1.48" fill="#22a822" opacity="0.98"/>
<circle cx="701.41" cy="881.68" r="1.21" fill="#22a822" opacity="0.79"/>
<circle cx="733.47" cy="834.99" r="2.04" fill="#d87010" opacity="0.96"/>
<circle cx="777.42" cy="896.56" r="1.18" fill="#1ca01c" opacity="0.99"/>
<circle cx="764.75" cy="860.12" r="1.44" fill="#c05808" opacity="0.81"/>
<circle cx="788.96" cy="855.99" r="1.46" fill="#d89010" opacity="0.70"/>
<circle cx="787.46" cy="904.57" r="1.74" fill="#a8a810" opacity="0.85"/>
<circle cx="686.3" cy="917.02" r="1.62" fill="#d89010" opacity="0.99"/>
<circle cx="687.43" cy="902.41" r="1.45" fill="#22a822" opacity="0.85"/>
<circle cx="802.45" cy="856.83" r="1.25" fill="#2cc02c" opacity="0.81"/>
<circle cx="686.2" cy="873.53" r="1.99" fill="#2cc02c" opacity="0.89"/>
<circle cx="712" cy="849.21" r="1.92" fill="#2cc02c" opacity="0.76"/>
<circle cx="736.51" cy="885.77" r="1.17" fill="#22a822" opacity="0.80"/>
<circle cx="715.48" cy="860" r="1.18" fill="#2cc02c" opacity="0.76"/>
<circle cx="806.17" cy="887.29" r="2.15" fill="#2cc02c" opacity="0.78"/>
<circle cx="744.06" cy="875.52" r="1.33" fill="#1ca01c" opacity="0.86"/>
<circle cx="668.63" cy="863.08" r="1.16" fill="#22a822" opacity="0.98"/>
<circle cx="661.74" cy="904.92" r="2.04" fill="#1ca01c" opacity="0.85"/>
<circle cx="672.6" cy="872.85" r="1.56" fill="#a8a810" opacity="0.82"/>
<circle cx="743.26" cy="841.53" r="1.31" fill="#d89010" opacity="0.74"/>
<circle cx="748.02" cy="853.66" r="1.48" fill="#a8a810" opacity="0.80"/>
<circle cx="690.82" cy="885.48" r="1.41" fill="#22a822" opacity="0.90"/>
<circle cx="724.55" cy="914.96" r="1.35" fill="#d87010" opacity="0.88"/>
<circle cx="714.68" cy="899.12" r="1.56" fill="#c05808" opacity="0.79"/>
<circle cx="736.57" cy="853.31" r="1.3" fill="#d89010" opacity="0.90"/>
<circle cx="694.1" cy="835.52" r="1.61" fill="#1ca01c" opacity="0.91"/>
<circle cx="781.9" cy="923.15" r="1.99" fill="#22a822" opacity="0.90"/>
<circle cx="727.47" cy="897.72" r="1.7" fill="#a8a810" opacity="0.92"/>
<circle cx="799.47" cy="875.01" r="1.23" fill="#d87010" opacity="0.72"/>
<circle cx="694.76" cy="857.67" r="1.6" fill="#2cc02c" opacity="0.75"/>
<circle cx="728.22" cy="940.4" r="2.17" fill="#1ca01c" opacity="0.96"/>
<circle cx="759.55" cy="899.75" r="1.25" fill="#c05808" opacity="0.87"/>
<circle cx="768.43" cy="878.05" r="1.23" fill="#1ca01c" opacity="0.96"/>
<circle cx="752.5" cy="943.83" r="2.01" fill="#d87010" opacity="0.90"/>
<circle cx="784.01" cy="905.32" r="1.3" fill="#c05808" opacity="0.79"/>
<circle cx="668.08" cy="914.98" r="1.49" fill="#c05808" opacity="0.85"/>
<circle cx="772.62" cy="888" r="2.07" fill="#c05808" opacity="0.87"/>
<circle cx="713.49" cy="842.16" r="1.95" fill="#1ca01c" opacity="0.90"/>
<circle cx="663.25" cy="907.93" r="1.14" fill="#d89010" opacity="0.92"/>
<circle cx="681.89" cy="890.37" r="1.53" fill="#22a822" opacity="0.95"/>
<circle cx="673.3" cy="889.6" r="1.67" fill="#c05808" opacity="0.70"/>
<circle cx="797.14" cy="875.06" r="1.23" fill="#1ca01c" opacity="0.94"/>
<circle cx="754.5" cy="872.99" r="1.87" fill="#22a822" opacity="0.75"/>
<circle cx="772.24" cy="899.39" r="1.57" fill="#a8a810" opacity="0.87"/>
<circle cx="717.26" cy="879.28" r="1.94" fill="#d89010" opacity="0.88"/>
<circle cx="711.97" cy="934.51" r="1.63" fill="#a8a810" opacity="0.89"/>
<circle cx="754.08" cy="953.31" r="1.98" fill="#d87010" opacity="0.90"/>
<circle cx="746.49" cy="943.4" r="2.18" fill="#22a822" opacity="0.77"/>
<circle cx="757.74" cy="884.39" r="1.2" fill="#1ca01c" opacity="0.96"/>
<circle cx="783.19" cy="909.72" r="1.97" fill="#c05808" opacity="0.71"/>
<circle cx="715.72" cy="919.35" r="1.69" fill="#22a822" opacity="0.84"/>
<circle cx="724.58" cy="911.84" r="1.96" fill="#22a822" opacity="0.83"/>
<circle cx="737" cy="857.29" r="1.2" fill="#d89010" opacity="0.86"/>
<circle cx="685.43" cy="922.01" r="1.32" fill="#2cc02c" opacity="0.74"/>
<circle cx="734.44" cy="828.84" r="1.67" fill="#d89010" opacity="0.92"/>
<circle cx="730.93" cy="845.21" r="1.65" fill="#2cc02c" opacity="0.70"/>
<circle cx="722.42" cy="943.97" r="1.88" fill="#c05808" opacity="0.81"/>
<circle cx="767.49" cy="878.05" r="1.34" fill="#22a822" opacity="0.80"/>
<circle cx="669.74" cy="854.47" r="1.2" fill="#2cc02c" opacity="0.74"/>
<circle cx="768.09" cy="950.97" r="1.29" fill="#d87010" opacity="0.79"/>
<circle cx="809.05" cy="869.68" r="2.02" fill="#1ca01c" opacity="0.73"/>
<circle cx="756.65" cy="931.47" r="1.44" fill="#c05808" opacity="0.92"/>
<circle cx="759.55" cy="949.55" r="1.68" fill="#d89010" opacity="0.82"/>
<circle cx="679.83" cy="884.31" r="1.41" fill="#22a822" opacity="0.84"/>
<circle cx="803.54" cy="889.46" r="1.12" fill="#a8a810" opacity="0.86"/>
<circle cx="735.86" cy="930.8" r="1.44" fill="#22a822" opacity="0.95"/>
<circle cx="681.66" cy="922.52" r="1.87" fill="#22a822" opacity="0.76"/>
<circle cx="707.79" cy="880.12" r="1.48" fill="#1ca01c" opacity="0.92"/>
<circle cx="750.84" cy="883.82" r="1.34" fill="#1ca01c" opacity="0.74"/>
<circle cx="777.57" cy="850.68" r="1.46" fill="#22a822" opacity="0.93"/>
<circle cx="752.25" cy="935.42" r="1.5" fill="#22a822" opacity="0.79"/>
<circle cx="698.9" cy="831.94" r="1.93" fill="#2cc02c" opacity="0.70"/>
<circle cx="762.29" cy="887" r="1.19" fill="#a8a810" opacity="0.70"/>
<circle cx="742.17" cy="889.22" r="1.18" fill="#2cc02c" opacity="0.85"/>
<circle cx="698.49" cy="894.54" r="1.64" fill="#d87010" opacity="0.75"/>
<circle cx="733.91" cy="899.64" r="2.07" fill="#a8a810" opacity="0.92"/>
<circle cx="700.09" cy="888.48" r="2.17" fill="#22a822" opacity="0.92"/>
<circle cx="797.56" cy="914.1" r="1.62" fill="#c05808" opacity="0.93"/>
<circle cx="741.1" cy="888.79" r="1.18" fill="#c05808" opacity="0.95"/>
<circle cx="775.93" cy="941.08" r="1.18" fill="#22a822" opacity="0.95"/>
<circle cx="696.56" cy="931.06" r="1.31" fill="#a8a810" opacity="0.82"/>
<circle cx="682.71" cy="883.71" r="1.78" fill="#c05808" opacity="0.86"/>
<circle cx="712.23" cy="840.69" r="1.66" fill="#22a822" opacity="0.87"/>
<circle cx="689.26" cy="873.61" r="1.41" fill="#22a822" opacity="0.84"/>
<circle cx="679.71" cy="844.53" r="1.98" fill="#d89010" opacity="0.96"/>
<circle cx="717.72" cy="870.67" r="1.48" fill="#d89010" opacity="0.70"/>
<circle cx="792.53" cy="889.4" r="1.85" fill="#a8a810" opacity="0.76"/>
<circle cx="775.82" cy="847.93" r="2.09" fill="#d89010" opacity="0.92"/>
<circle cx="791.97" cy="868.64" r="1.25" fill="#1ca01c" opacity="0.77"/>
<circle cx="661.68" cy="870.58" r="1.39" fill="#1ca01c" opacity="0.92"/>
<circle cx="712.92" cy="920.78" r="1.45" fill="#2cc02c" opacity="0.86"/>
<circle cx="707.12" cy="865.71" r="2.17" fill="#d87010" opacity="0.97"/>
<circle cx="771.73" cy="952.36" r="1.66" fill="#d89010" opacity="0.95"/>
<circle cx="672.39" cy="896.05" r="1.9" fill="#2cc02c" opacity="0.81"/>
<circle cx="804.87" cy="891.66" r="1.46" fill="#c05808" opacity="0.74"/>
<circle cx="793.13" cy="910.91" r="1.41" fill="#c05808" opacity="0.78"/>
<circle cx="675.58" cy="855.19" r="2.05" fill="#2cc02c" opacity="0.99"/>
<circle cx="697.47" cy="874.55" r="1.94" fill="#a8a810" opacity="0.95"/>
<circle cx="741.17" cy="951.91" r="1.23" fill="#1ca01c" opacity="0.73"/>
<circle cx="791.07" cy="944.34" r="1.76" fill="#22a822" opacity="0.85"/>
<circle cx="694.58" cy="898.34" r="2" fill="#22a822" opacity="0.72"/>
<circle cx="670.18" cy="904.34" r="1.93" fill="#1ca01c" opacity="0.79"/>
<circle cx="737.06" cy="861.99" r="1.53" fill="#1ca01c" opacity="1.00"/>
<circle cx="765.87" cy="933.88" r="1.17" fill="#1ca01c" opacity="0.97"/>
<circle cx="787.58" cy="881.77" r="1.76" fill="#d89010" opacity="0.92"/>
<circle cx="748.55" cy="838.82" r="1.67" fill="#1ca01c" opacity="0.76"/>
<circle cx="654.84" cy="882.78" r="2" fill="#2cc02c" opacity="0.75"/>
<circle cx="744.57" cy="914.23" r="1.74" fill="#a8a810" opacity="0.84"/>
<circle cx="741.31" cy="911.55" r="1.67" fill="#22a822" opacity="0.94"/>
<circle cx="698.4" cy="847.17" r="1.34" fill="#d87010" opacity="0.99"/>
<circle cx="733.5" cy="835.39" r="1.51" fill="#d87010" opacity="0.91"/>
<circle cx="718.34" cy="944.04" r="2.03" fill="#2cc02c" opacity="0.91"/>
<circle cx="735.2" cy="896.45" r="1.49" fill="#c05808" opacity="0.84"/>
<circle cx="778.81" cy="946.92" r="1.94" fill="#d89010" opacity="0.75"/>
<circle cx="688.39" cy="851.76" r="1.83" fill="#1ca01c" opacity="0.85"/>
<circle cx="776.21" cy="906.35" r="1.37" fill="#1ca01c" opacity="0.91"/>
<circle cx="797.69" cy="922.85" r="1.42" fill="#2cc02c" opacity="0.78"/>
<circle cx="702.55" cy="866.03" r="1.26" fill="#a8a810" opacity="0.88"/>
<circle cx="782.07" cy="932.87" r="1.27" fill="#a8a810" opacity="0.77"/>
<circle cx="760.53" cy="845.16" r="1.97" fill="#2cc02c" opacity="0.86"/>
<circle cx="790.85" cy="851.12" r="1.14" fill="#22a822" opacity="0.87"/>
<circle cx="675.61" cy="919.82" r="1.51" fill="#1ca01c" opacity="0.91"/>
<circle cx="791.57" cy="914.08" r="1.27" fill="#22a822" opacity="0.92"/>
<circle cx="660.64" cy="873.44" r="1.27" fill="#d87010" opacity="0.86"/>
<circle cx="697.5" cy="874.81" r="1.86" fill="#d87010" opacity="0.70"/>
<circle cx="715.93" cy="882.47" r="1.56" fill="#a8a810" opacity="0.99"/>
<circle cx="781.41" cy="871.94" r="2.16" fill="#c05808" opacity="0.76"/>
<circle cx="739.06" cy="828.97" r="1.53" fill="#2cc02c" opacity="0.77"/>
<circle cx="707.46" cy="921.65" r="1.6" fill="#a8a810" opacity="0.95"/>
<circle cx="675.51" cy="881.91" r="1.21" fill="#a8a810" opacity="0.97"/>
<circle cx="731.55" cy="950.85" r="1.77" fill="#a8a810" opacity="0.90"/>
<circle cx="751.77" cy="862.82" r="1.83" fill="#d87010" opacity="0.93"/>
<circle cx="751.65" cy="922.65" r="1.99" fill="#1ca01c" opacity="0.74"/>
<circle cx="787.25" cy="925.63" r="1.38" fill="#d89010" opacity="0.85"/>
<circle cx="785.65" cy="903.36" r="1.43" fill="#22a822" opacity="0.72"/>
<circle cx="755.45" cy="949.16" r="2.08" fill="#a8a810" opacity="0.98"/>
<circle cx="712.71" cy="829.18" r="1.29" fill="#1ca01c" opacity="0.96"/>
<circle cx="678.48" cy="853.54" r="1.3" fill="#d89010" opacity="0.81"/>
<circle cx="780.09" cy="928.03" r="1.56" fill="#22a822" opacity="0.71"/>
<circle cx="673.62" cy="844.79" r="1.46" fill="#d89010" opacity="0.77"/>
<circle cx="743.13" cy="826.22" r="1.55" fill="#1ca01c" opacity="0.73"/>
<circle cx="736.03" cy="857.29" r="1.15" fill="#2cc02c" opacity="0.75"/>
<circle cx="666.8" cy="888.01" r="1.96" fill="#22a822" opacity="0.73"/>
<circle cx="746.48" cy="854.8" r="1.88" fill="#d87010" opacity="0.88"/>
<circle cx="697.98" cy="868.32" r="1.71" fill="#d89010" opacity="0.72"/>
<circle cx="721.52" cy="935.21" r="2.19" fill="#1ca01c" opacity="0.82"/>
<circle cx="740.72" cy="922.76" r="1.54" fill="#2cc02c" opacity="0.70"/>
<circle cx="695.8" cy="832.98" r="1.31" fill="#d89010" opacity="0.75"/>
<circle cx="714.35" cy="920.11" r="2.07" fill="#22a822" opacity="0.99"/>
<circle cx="671.07" cy="853.51" r="2.17" fill="#d89010" opacity="0.72"/>
<circle cx="757.72" cy="937.93" r="1.14" fill="#22a822" opacity="0.93"/>
<circle cx="765.1" cy="926.71" r="1.11" fill="#1ca01c" opacity="0.70"/>
<circle cx="721.95" cy="883.37" r="1.3" fill="#c05808" opacity="0.87"/>
<circle cx="769.32" cy="868.94" r="2.14" fill="#c05808" opacity="0.89"/>
<circle cx="694.17" cy="891.23" r="1.29" fill="#2cc02c" opacity="0.97"/>
<circle cx="716.08" cy="943.7" r="1.88" fill="#d89010" opacity="0.95"/>
<circle cx="800.76" cy="862.23" r="1.39" fill="#d87010" opacity="0.92"/>
<circle cx="744.37" cy="865.36" r="2.15" fill="#d89010" opacity="0.86"/>
<circle cx="750.6" cy="827.23" r="1.96" fill="#2cc02c" opacity="0.80"/>
<circle cx="783.35" cy="864.32" r="1.86" fill="#d87010" opacity="0.86"/>
<circle cx="676.46" cy="872.18" r="1.2" fill="#22a822" opacity="0.98"/>
<circle cx="800.29" cy="855.49" r="1.77" fill="#2cc02c" opacity="0.77"/>
<circle cx="691.28" cy="902.72" r="1.11" fill="#2cc02c" opacity="0.91"/>
<circle cx="753.76" cy="876.96" r="1.47" fill="#c05808" opacity="0.91"/>
<circle cx="723.73" cy="877.39" r="2.19" fill="#1ca01c" opacity="0.80"/>
<circle cx="798.94" cy="932.56" r="1.45" fill="#2cc02c" opacity="0.81"/>
<circle cx="725.74" cy="934.38" r="1.64" fill="#a8a810" opacity="0.84"/>
<circle cx="723.57" cy="878.51" r="1.87" fill="#22a822" opacity="0.81"/>
<circle cx="758.33" cy="898.96" r="1.58" fill="#22a822" opacity="0.78"/>
<circle cx="716.93" cy="823.63" r="1.39" fill="#2cc02c" opacity="0.94"/>
<circle cx="707.1" cy="939.01" r="1.32" fill="#22a822" opacity="0.87"/>
<circle cx="791.45" cy="924.02" r="1.34" fill="#c05808" opacity="0.74"/>
<circle cx="695.67" cy="919.59" r="1.74" fill="#d89010" opacity="0.73"/>
<circle cx="676.97" cy="917.36" r="1.99" fill="#2cc02c" opacity="0.71"/>
<circle cx="680.05" cy="870.3" r="1.38" fill="#a8a810" opacity="0.76"/>
<circle cx="761.67" cy="895.52" r="2.04" fill="#d89010" opacity="0.76"/>
<circle cx="697.22" cy="826.84" r="1.64" fill="#d89010" opacity="1.00"/>
<circle cx="701.04" cy="851.96" r="2.12" fill="#d89010" opacity="0.98"/>
<circle cx="758.08" cy="921.43" r="1.49" fill="#d89010" opacity="0.75"/>
<circle cx="751.01" cy="843.11" r="1.24" fill="#c05808" opacity="0.87"/>
<circle cx="699.41" cy="838.37" r="1.78" fill="#d87010" opacity="0.92"/>
<circle cx="794.02" cy="868.32" r="1.88" fill="#c05808" opacity="0.77"/>
<circle cx="720.41" cy="925.19" r="1.34" fill="#a8a810" opacity="0.70"/>
<circle cx="771.44" cy="926.67" r="1.61" fill="#d87010" opacity="0.72"/>
<circle cx="775.38" cy="904.81" r="2.03" fill="#a8a810" opacity="0.74"/>
<circle cx="810.29" cy="867.93" r="1.82" fill="#d87010" opacity="0.90"/>
<circle cx="679.9" cy="882.63" r="1.17" fill="#22a822" opacity="0.89"/>
<circle cx="776.99" cy="912.74" r="2.08" fill="#c05808" opacity="0.83"/>
<circle cx="696.83" cy="839.86" r="1.35" fill="#1ca01c" opacity="0.86"/>
<circle cx="665.89" cy="905.96" r="1.47" fill="#d89010" opacity="0.77"/>
<circle cx="790.9" cy="928.47" r="1.85" fill="#1ca01c" opacity="0.97"/>
<circle cx="783.46" cy="860.45" r="1.34" fill="#d89010" opacity="0.89"/>
<circle cx="709.02" cy="918.28" r="1.89" fill="#22a822" opacity="0.80"/>
<circle cx="757.89" cy="919.75" r="1.43" fill="#c05808" opacity="0.91"/>
<circle cx="763.39" cy="858.86" r="1.4" fill="#2cc02c" opacity="0.79"/>
<circle cx="721.28" cy="905.37" r="1.48" fill="#1ca01c" opacity="0.77"/>
</g>
<g filter="url(#sb1)">
<circle cx="703" cy="851.3" r="2.4" fill="#e8c020"/>
<circle cx="699" cy="863.3" r="2.4" fill="#40f040"/>
<circle cx="734" cy="868.3" r="2.4" fill="#f0d020"/>
<circle cx="789" cy="865.3" r="2.4" fill="#e8e020"/>
<circle cx="703" cy="912.3" r="2.4" fill="#e0e020"/>
<circle cx="789" cy="897.3" r="2.4" fill="#c0f020"/>
<circle cx="764" cy="859.3" r="2.4" fill="#e08010"/>
<circle cx="760" cy="871.3" r="2.4" fill="#e08010"/>
<circle cx="747" cy="883.3" r="2.4" fill="#e07010"/>
<circle cx="772" cy="903.3" r="2.4" fill="#e07010"/>
</g>
<circle cx="731.5" cy="939.8" r="2.6" fill="#30e0e0"/>
<path d="M725.1,819.3 C730.35,819.78 737.22,821.4 742.8,823.2 C748.38,825 753.35,827.63 758.6,830.1 C763.85,832.57 769.05,835.22 774.3,838 C779.55,840.78 785.5,843.85 790.1,846.8 C794.7,849.75 798.47,852.42 801.9,855.7 C805.33,858.98 808.73,863.05 810.7,866.5 C812.67,869.95 813.03,872.47 813.7,876.4 C814.37,880.33 814.7,885.18 814.7,890.1 C814.7,895.02 814.2,901.3 813.7,905.9 C813.2,910.5 813.02,913.43 811.7,917.7 C810.38,921.97 808.42,927.23 805.8,931.5 C803.18,935.77 799.93,940.03 796,943.3 C792.07,946.57 787.13,949.3 782.2,951.1 C777.27,952.9 771.65,953.6 766.4,954.1 C761.15,954.6 755.93,954.43 750.7,954.1 C745.47,953.77 739.6,952.92 735,952.1 C730.4,951.28 727.05,950.5 723.1,949.2 C719.15,947.9 715.55,946.27 711.3,944.3 C707.05,942.33 702.18,940.03 697.6,937.4 C693.02,934.77 688.07,931.45 683.8,928.5 C679.53,925.55 675.62,923.15 672,919.7 C668.38,916.25 664.73,911.9 662.1,907.8 C659.47,903.7 657.5,899.35 656.2,895.1 C654.9,890.85 654.3,887.07 654.3,882.3 C654.3,877.53 654.9,871.1 656.2,866.5 C657.5,861.9 659.47,858.63 662.1,854.7 C664.73,850.77 668.38,846.5 672,842.9 C675.62,839.3 679.53,836.05 683.8,833.1 C688.07,830.15 693.02,827.33 697.6,825.2 C702.18,823.07 706.72,821.28 711.3,820.3 C715.88,819.32 719.85,818.82 725.1,819.3Z" fill="none" stroke="#fff" stroke-width="3.3" stroke-dasharray="3.3 3.2"/>
<rect x="723.7" y="932.9" width="13.5" height="12.9" fill="none" stroke="#d826d8" stroke-width="2.8"/>
</g>
<clipPath id="cl5"><rect x="832.3" y="793.3" width="172" height="171.8"/></clipPath>
<g clip-path="url(#cl5)">
<rect x="832.3" y="793.3" width="172" height="171.8" fill="#020e02"/>
<g filter="url(#sb8)">
<ellipse cx="871.65" cy="830.7" rx="13.25" ry="8.84" fill="#0a6a5a"/>
<ellipse cx="865.76" cy="879.3" rx="13.25" ry="7.36" fill="#0a7a6a"/>
<ellipse cx="967.36" cy="880.77" rx="11.78" ry="7.36" fill="#0a6a5a"/>
<ellipse cx="926.13" cy="919.06" rx="22.09" ry="7.36" fill="#064a40"/>
</g>
<ellipse cx="874.59" cy="880.77" rx="11.78" ry="6.18" fill="#06a89c" filter="url(#sb6)"/>
<path d="M889.32,832.18 C893.49,828.86 901.84,827.64 908.46,827.02 C915.09,826.41 923.19,827.27 929.08,828.49 C934.97,829.72 939.88,831.07 943.8,834.38 C947.73,837.7 950.43,842.85 952.64,848.37 C954.85,853.9 954.85,862.61 957.06,867.52 C959.26,872.43 965.65,874.39 965.89,877.82 C966.14,881.26 961.23,884.7 958.53,888.13 C955.83,891.57 953.87,894.76 949.69,898.44 C945.52,902.12 938.65,907.4 933.5,910.22 C928.34,913.04 923.19,915.37 918.77,915.37 C914.35,915.37 910.67,912.8 906.99,910.22 C903.31,907.64 899.87,903.1 896.68,899.91 C893.49,896.72 890.06,894.51 887.85,891.08 C885.64,887.64 883.67,883.71 883.43,879.3 C883.18,874.88 886.37,869.97 886.37,864.57 C886.37,859.17 882.94,852.3 883.43,846.9 C883.92,841.5 885.15,835.49 889.32,832.18Z" fill="#00f0f0" filter="url(#sb4)"/>
<ellipse cx="927.61" cy="854.26" rx="7" ry="6.5" fill="#024a40" filter="url(#sb4)"/>
<ellipse cx="903.6" cy="875.91" rx="4.5" ry="4" fill="#038a80" filter="url(#sb4)"/>
<ellipse cx="890.79" cy="902.86" rx="6" ry="5" fill="#025048" filter="url(#sb4)"/>
<line x1="832.3" y1="884" x2="1004.3" y2="884" stroke="#fff" stroke-width="3.8" stroke-dasharray="17 13"/>
</g>
<clipPath id="cl6"><rect x="115.3" y="973.9" width="171.5" height="171.6"/></clipPath>
<g clip-path="url(#cl6)">
<rect x="115.3" y="973.9" width="171.5" height="171.6" fill="#000"/>
<circle cx="198.9" cy="1052.6" r="2.8" fill="#20e8e8"/>
<path d="M192.6,994.6 C198.17,995.1 207.7,997.53 212.3,999.5 C216.9,1001.47 217.57,1004.1 220.2,1006.4 C222.83,1008.7 225.15,1011.33 228.1,1013.3 C231.05,1015.27 235.28,1016.23 237.9,1018.2 C240.52,1020.17 242.15,1022.32 243.8,1025.1 C245.45,1027.88 246.48,1031.95 247.8,1034.9 C249.12,1037.85 249.73,1040.33 251.7,1042.8 C253.67,1045.27 257.63,1047.08 259.6,1049.7 C261.57,1052.32 262.52,1055.07 263.5,1058.5 C264.48,1061.93 265.17,1065.7 265.5,1070.3 C265.83,1074.9 266.17,1081.17 265.5,1086.1 C264.83,1091.03 263.47,1095.63 261.5,1099.9 C259.53,1104.17 256.65,1108.1 253.7,1111.7 C250.75,1115.3 247.42,1118.72 243.8,1121.5 C240.18,1124.28 235.6,1126.92 232,1128.4 C228.4,1129.88 226.13,1130.4 222.2,1130.4 C218.27,1130.4 213,1129.38 208.4,1128.4 C203.8,1127.42 198.87,1126.3 194.6,1124.5 C190.33,1122.7 186.73,1120.23 182.8,1117.6 C178.87,1114.97 174.45,1111.98 171,1108.7 C167.55,1105.42 164.57,1101.67 162.1,1097.9 C159.63,1094.13 157.67,1090.37 156.2,1086.1 C154.73,1081.83 153.95,1077.22 153.3,1072.3 C152.65,1067.38 152.3,1061.52 152.3,1056.6 C152.3,1051.68 152.65,1047.73 153.3,1042.8 C153.95,1037.87 154.88,1031.92 156.2,1027 C157.52,1022.08 159.07,1017.4 161.2,1013.3 C163.33,1009.2 166.05,1005.2 169,1002.4 C171.95,999.6 174.97,997.8 178.9,996.5 C182.83,995.2 187.03,994.1 192.6,994.6Z" fill="none" stroke="#fff" stroke-width="3.3" stroke-dasharray="3.3 3.2"/>
<rect x="192.1" y="1045.2" width="13.9" height="13.9" fill="none" stroke="#d826d8" stroke-width="2.8"/>
</g>
<clipPath id="cl7"><rect x="294.7" y="973.9" width="171.6" height="171.6"/></clipPath>
<g clip-path="url(#cl7)">
<rect x="294.7" y="973.9" width="171.6" height="171.6" fill="#000"/>
<g filter="url(#sb07)">
<ellipse cx="357.72" cy="1008.15" rx="3.77" ry="2.76" fill="#3cf028"/>
<circle cx="359.42" cy="1008.99" r="1.09" fill="#28c81e"/>
<circle cx="354.6" cy="1005.51" r="1.03" fill="#3cf028"/>
<circle cx="359.86" cy="1006.65" r="1.56" fill="#3cf028"/>
<circle cx="359.61" cy="1007.62" r="0.95" fill="#3cf028"/>
<circle cx="360.33" cy="1007.08" r="0.96" fill="#3cf028"/>
<circle cx="357" cy="1011.28" r="1.58" fill="#3cf028"/>
<ellipse cx="365.72" cy="1009.03" rx="2.26" ry="1.51" fill="#3cf028"/>
<circle cx="364.01" cy="1008.75" r="1.51" fill="#3cf028"/>
<circle cx="367.92" cy="1009.22" r="1.35" fill="#28c81e"/>
<circle cx="366.97" cy="1010.42" r="1.89" fill="#28c81e"/>
<circle cx="367.38" cy="1009.95" r="1.16" fill="#3cf028"/>
<ellipse cx="377.37" cy="1005.68" rx="4.4" ry="2.76" fill="#3cf028"/>
<circle cx="376.34" cy="1008.01" r="1.32" fill="#28c81e"/>
<circle cx="378.56" cy="1006.03" r="0.97" fill="#3cf028"/>
<circle cx="374.43" cy="1007.11" r="1.35" fill="#3cf028"/>
<circle cx="379.9" cy="1003.18" r="1.89" fill="#3cf028"/>
<circle cx="377" cy="1005.2" r="1.33" fill="#3cf028"/>
<circle cx="379.23" cy="1007.13" r="1.58" fill="#3cf028"/>
<circle cx="376.7" cy="1004.74" r="1.83" fill="#28c81e"/>
<ellipse cx="391.94" cy="1015.14" rx="1.88" ry="2.51" fill="#3cf028"/>
<circle cx="390.93" cy="1015.38" r="1.11" fill="#3cf028"/>
<circle cx="392.83" cy="1014.46" r="0.85" fill="#28c81e"/>
<circle cx="393.42" cy="1012.85" r="0.92" fill="#3cf028"/>
<circle cx="391.13" cy="1018.45" r="1.12" fill="#3cf028"/>
<ellipse cx="402.13" cy="1028.25" rx="8.79" ry="5.65" fill="#3cf028"/>
<circle cx="410.7" cy="1031.93" r="1.45" fill="#3cf028"/>
<circle cx="404.04" cy="1035.26" r="1.67" fill="#3cf028"/>
<circle cx="405.41" cy="1034.6" r="1.32" fill="#3cf028"/>
<circle cx="403.81" cy="1025.38" r="1.04" fill="#28c81e"/>
<circle cx="407.35" cy="1030.53" r="1.72" fill="#28c81e"/>
<circle cx="397.33" cy="1031.98" r="0.96" fill="#28c81e"/>
<circle cx="412.37" cy="1026.74" r="1" fill="#28c81e"/>
<circle cx="398.37" cy="1031.93" r="0.97" fill="#28c81e"/>
<circle cx="410.23" cy="1029.49" r="1.58" fill="#3cf028"/>
<circle cx="402.42" cy="1027.53" r="1.17" fill="#28c81e"/>
<circle cx="403.69" cy="1025.29" r="1.56" fill="#3cf028"/>
<circle cx="402.27" cy="1025.08" r="1.15" fill="#3cf028"/>
<circle cx="392.94" cy="1025.48" r="1.33" fill="#28c81e"/>
<circle cx="397.26" cy="1026.41" r="1.71" fill="#28c81e"/>
<circle cx="412.39" cy="1028.49" r="0.92" fill="#28c81e"/>
<circle cx="413" cy="1026.03" r="1.43" fill="#28c81e"/>
<circle cx="402.36" cy="1024.04" r="1.82" fill="#3cf028"/>
<circle cx="403.7" cy="1024.73" r="1.24" fill="#3cf028"/>
<circle cx="410.06" cy="1029.7" r="1.01" fill="#28c81e"/>
<circle cx="397.46" cy="1027.38" r="1.47" fill="#28c81e"/>
<circle cx="390.32" cy="1030.08" r="1.69" fill="#28c81e"/>
<circle cx="394.39" cy="1030.63" r="1.59" fill="#3cf028"/>
<circle cx="406.17" cy="1025.39" r="1.48" fill="#3cf028"/>
<circle cx="403" cy="1021.89" r="1.46" fill="#3cf028"/>
<circle cx="405.94" cy="1035.06" r="1.44" fill="#28c81e"/>
<circle cx="401.98" cy="1025.69" r="1.14" fill="#3cf028"/>
<circle cx="405.49" cy="1028.54" r="1.64" fill="#3cf028"/>
<circle cx="397.71" cy="1023.51" r="1.29" fill="#3cf028"/>
<circle cx="407.79" cy="1026.8" r="1.12" fill="#28c81e"/>
<ellipse cx="397.76" cy="1038.44" rx="3.77" ry="3.14" fill="#3cf028"/>
<circle cx="399.59" cy="1037.63" r="1.53" fill="#3cf028"/>
<circle cx="398.37" cy="1039.58" r="1.36" fill="#28c81e"/>
<circle cx="392.95" cy="1036.98" r="1.69" fill="#3cf028"/>
<circle cx="401.61" cy="1036.22" r="0.94" fill="#28c81e"/>
<circle cx="394.1" cy="1037.86" r="1.52" fill="#28c81e"/>
<circle cx="402.31" cy="1037.91" r="1.11" fill="#28c81e"/>
<circle cx="398.91" cy="1038.74" r="1.46" fill="#28c81e"/>
<ellipse cx="394.85" cy="1019.51" rx="2.51" ry="3.14" fill="#3cf028"/>
<circle cx="398.25" cy="1019.16" r="1.51" fill="#3cf028"/>
<circle cx="395.74" cy="1022.69" r="1.57" fill="#3cf028"/>
<circle cx="392.2" cy="1021.48" r="1.27" fill="#28c81e"/>
<circle cx="392.6" cy="1019.03" r="1.19" fill="#3cf028"/>
<ellipse cx="346.79" cy="1023.88" rx="2.26" ry="1.88" fill="#3cf028"/>
<circle cx="346.96" cy="1025.56" r="1.71" fill="#3cf028"/>
<circle cx="348.5" cy="1026.1" r="1.73" fill="#28c81e"/>
<circle cx="345.34" cy="1024.03" r="0.92" fill="#3cf028"/>
<circle cx="347.27" cy="1022.49" r="1.75" fill="#3cf028"/>
<ellipse cx="347.52" cy="1029.71" rx="1.26" ry="1.51" fill="#3cf028"/>
<circle cx="347.07" cy="1028.4" r="0.88" fill="#3cf028"/>
<circle cx="346.89" cy="1031.42" r="1.12" fill="#3cf028"/>
<circle cx="346.42" cy="1030.39" r="1.73" fill="#3cf028"/>
<circle cx="347.09" cy="1030.81" r="0.97" fill="#3cf028"/>
<ellipse cx="362.81" cy="1032.62" rx="2.76" ry="2.26" fill="#3cf028"/>
<circle cx="364.81" cy="1033.78" r="1.83" fill="#28c81e"/>
<circle cx="365.29" cy="1030.46" r="1.83" fill="#3cf028"/>
<circle cx="365.37" cy="1032.23" r="1.36" fill="#3cf028"/>
<circle cx="366.36" cy="1031.4" r="1.67" fill="#28c81e"/>
<ellipse cx="373.01" cy="1035.53" rx="1.88" ry="2.51" fill="#3cf028"/>
<circle cx="374.55" cy="1033.87" r="1.18" fill="#3cf028"/>
<circle cx="371.74" cy="1038.34" r="0.89" fill="#28c81e"/>
<circle cx="374.94" cy="1034.01" r="1.04" fill="#28c81e"/>
<circle cx="374.58" cy="1037.26" r="1.49" fill="#3cf028"/>
<ellipse cx="381.74" cy="1035.53" rx="1.88" ry="3.14" fill="#3cf028"/>
<circle cx="380.94" cy="1033.85" r="1.73" fill="#28c81e"/>
<circle cx="379.78" cy="1035.87" r="1.85" fill="#28c81e"/>
<circle cx="383.2" cy="1032.02" r="1.82" fill="#3cf028"/>
<circle cx="381.34" cy="1031.84" r="1.34" fill="#28c81e"/>
<ellipse cx="351.16" cy="1048.64" rx="3.77" ry="5.65" fill="#3cf028"/>
<circle cx="351.9" cy="1043" r="1.56" fill="#28c81e"/>
<circle cx="347.19" cy="1047.72" r="1.5" fill="#3cf028"/>
<circle cx="346.98" cy="1053.31" r="1.78" fill="#3cf028"/>
<circle cx="348.35" cy="1048.74" r="1.87" fill="#28c81e"/>
<circle cx="353.67" cy="1047.42" r="1.81" fill="#28c81e"/>
<circle cx="355.85" cy="1046.27" r="1.46" fill="#3cf028"/>
<circle cx="356.17" cy="1046.81" r="1.3" fill="#28c81e"/>
<circle cx="352.84" cy="1048.37" r="1.03" fill="#28c81e"/>
<circle cx="352.16" cy="1046.83" r="1.82" fill="#28c81e"/>
<circle cx="354.6" cy="1052.46" r="0.86" fill="#3cf028"/>
<circle cx="348.83" cy="1042.23" r="1.01" fill="#3cf028"/>
<circle cx="351.78" cy="1046.45" r="1.46" fill="#3cf028"/>
<ellipse cx="340.97" cy="1063.2" rx="6.28" ry="6.28" fill="#3cf028"/>
<circle cx="344.02" cy="1065.9" r="1.45" fill="#28c81e"/>
<circle cx="348.45" cy="1067.08" r="1.22" fill="#28c81e"/>
<circle cx="341.08" cy="1060.42" r="1.87" fill="#28c81e"/>
<circle cx="338.91" cy="1067.9" r="1.75" fill="#3cf028"/>
<circle cx="341.14" cy="1057.89" r="0.81" fill="#28c81e"/>
<circle cx="345.86" cy="1056.15" r="1.69" fill="#28c81e"/>
<circle cx="345.69" cy="1067.38" r="1.49" fill="#28c81e"/>
<circle cx="348.61" cy="1059.28" r="1.72" fill="#3cf028"/>
<circle cx="337.16" cy="1055.47" r="1.46" fill="#28c81e"/>
<circle cx="338.14" cy="1062.21" r="1.74" fill="#3cf028"/>
<circle cx="346.99" cy="1064.47" r="0.86" fill="#3cf028"/>
<circle cx="344.57" cy="1065.8" r="1.83" fill="#3cf028"/>
<circle cx="342.92" cy="1066.72" r="1.05" fill="#28c81e"/>
<circle cx="346.43" cy="1066.4" r="1.11" fill="#28c81e"/>
<circle cx="341.13" cy="1059.88" r="1.35" fill="#28c81e"/>
<circle cx="335.23" cy="1059.24" r="1.56" fill="#3cf028"/>
<circle cx="342.33" cy="1064.72" r="1.65" fill="#3cf028"/>
<circle cx="344.65" cy="1066.57" r="0.92" fill="#3cf028"/>
<circle cx="347.3" cy="1061.53" r="1.29" fill="#3cf028"/>
<circle cx="347.8" cy="1058.87" r="0.99" fill="#3cf028"/>
<circle cx="342.77" cy="1057.95" r="1.72" fill="#3cf028"/>
<circle cx="338.82" cy="1068.19" r="1.65" fill="#3cf028"/>
<circle cx="341.8" cy="1062.24" r="1.82" fill="#28c81e"/>
<ellipse cx="342.42" cy="1074.12" rx="4.4" ry="3.77" fill="#3cf028"/>
<circle cx="339.03" cy="1073.05" r="0.85" fill="#28c81e"/>
<circle cx="345.74" cy="1073.59" r="1.52" fill="#3cf028"/>
<circle cx="344.71" cy="1073.43" r="1.11" fill="#28c81e"/>
<circle cx="337.35" cy="1073.33" r="1.15" fill="#28c81e"/>
<circle cx="343.63" cy="1072.91" r="1.48" fill="#28c81e"/>
<circle cx="338.45" cy="1076.35" r="0.86" fill="#3cf028"/>
<circle cx="344.14" cy="1069.44" r="1.8" fill="#3cf028"/>
<circle cx="341.59" cy="1076.39" r="1.75" fill="#3cf028"/>
<circle cx="343.4" cy="1073.68" r="0.97" fill="#3cf028"/>
<ellipse cx="338.06" cy="1045.72" rx="1.88" ry="2.26" fill="#3cf028"/>
<circle cx="339.09" cy="1045.49" r="1.24" fill="#3cf028"/>
<circle cx="338.41" cy="1044.96" r="0.93" fill="#3cf028"/>
<circle cx="337" cy="1042.86" r="1.42" fill="#28c81e"/>
<circle cx="338.22" cy="1043.02" r="1.2" fill="#28c81e"/>
<ellipse cx="358.44" cy="1066.84" rx="2.51" ry="1.88" fill="#3cf028"/>
<circle cx="358.51" cy="1065.06" r="0.95" fill="#3cf028"/>
<circle cx="361.22" cy="1066.28" r="1.73" fill="#28c81e"/>
<circle cx="357.77" cy="1068.96" r="1.27" fill="#3cf028"/>
<circle cx="357" cy="1065.31" r="0.94" fill="#3cf028"/>
<ellipse cx="368.64" cy="1067.57" rx="1.88" ry="1.51" fill="#3cf028"/>
<circle cx="370.53" cy="1068.36" r="1.4" fill="#28c81e"/>
<circle cx="367.17" cy="1067.23" r="1.28" fill="#3cf028"/>
<circle cx="368.5" cy="1066.76" r="1.02" fill="#3cf028"/>
<circle cx="368.79" cy="1066.05" r="1.64" fill="#3cf028"/>
<ellipse cx="380.29" cy="1052.28" rx="3.77" ry="4.4" fill="#3cf028"/>
<circle cx="377.86" cy="1049.63" r="1.55" fill="#28c81e"/>
<circle cx="381.5" cy="1048.71" r="1.45" fill="#28c81e"/>
<circle cx="375.34" cy="1051.35" r="1.82" fill="#28c81e"/>
<circle cx="376.88" cy="1048.57" r="1.24" fill="#28c81e"/>
<circle cx="376.86" cy="1052.46" r="1.24" fill="#28c81e"/>
<circle cx="378.23" cy="1057.2" r="1.09" fill="#3cf028"/>
<circle cx="377.25" cy="1057.31" r="1.01" fill="#3cf028"/>
<circle cx="378.34" cy="1056.98" r="1.45" fill="#28c81e"/>
<circle cx="379.18" cy="1048.18" r="1.63" fill="#3cf028"/>
<ellipse cx="413.78" cy="1069.02" rx="3.14" ry="6.28" fill="#3cf028"/>
<circle cx="410.82" cy="1064.16" r="1.01" fill="#3cf028"/>
<circle cx="411.36" cy="1068.79" r="0.88" fill="#3cf028"/>
<circle cx="411.56" cy="1071.55" r="0.9" fill="#3cf028"/>
<circle cx="417.2" cy="1065.19" r="0.96" fill="#3cf028"/>
<circle cx="417.92" cy="1067.49" r="1.2" fill="#28c81e"/>
<circle cx="412.47" cy="1067.43" r="1.88" fill="#28c81e"/>
<circle cx="415.78" cy="1064.9" r="1.44" fill="#3cf028"/>
<circle cx="409.79" cy="1070.83" r="1.8" fill="#28c81e"/>
<circle cx="413.05" cy="1065.84" r="0.86" fill="#28c81e"/>
<circle cx="413.61" cy="1065.64" r="1.61" fill="#28c81e"/>
<circle cx="414.2" cy="1061.86" r="0.89" fill="#28c81e"/>
<ellipse cx="405.04" cy="1089.41" rx="2.26" ry="1.88" fill="#3cf028"/>
<circle cx="404.82" cy="1087.31" r="1.09" fill="#28c81e"/>
<circle cx="404.27" cy="1090.6" r="0.94" fill="#28c81e"/>
<circle cx="405.89" cy="1090.97" r="1.9" fill="#28c81e"/>
<circle cx="405.21" cy="1089.69" r="1.72" fill="#28c81e"/>
<ellipse cx="375.92" cy="1098.15" rx="4.4" ry="2.76" fill="#3cf028"/>
<circle cx="371.01" cy="1098.43" r="1.55" fill="#28c81e"/>
<circle cx="378.79" cy="1096.19" r="1.65" fill="#28c81e"/>
<circle cx="372.44" cy="1097.38" r="0.96" fill="#3cf028"/>
<circle cx="373.52" cy="1100.38" r="0.89" fill="#28c81e"/>
<circle cx="373.4" cy="1097.46" r="1.34" fill="#3cf028"/>
<circle cx="372.01" cy="1100.5" r="1.39" fill="#28c81e"/>
<circle cx="374.79" cy="1099.96" r="0.92" fill="#3cf028"/>
<ellipse cx="384.66" cy="1094.51" rx="3.77" ry="2.51" fill="#3cf028"/>
<circle cx="388.98" cy="1094.69" r="1.86" fill="#28c81e"/>
<circle cx="383.1" cy="1094.89" r="1.43" fill="#28c81e"/>
<circle cx="387.57" cy="1093.88" r="0.96" fill="#3cf028"/>
<circle cx="386.03" cy="1094.9" r="1.05" fill="#28c81e"/>
<circle cx="385.77" cy="1097.92" r="1.43" fill="#3cf028"/>
<ellipse cx="390.48" cy="1094.51" rx="2.51" ry="1.51" fill="#3cf028"/>
<circle cx="391.23" cy="1096.46" r="1.31" fill="#28c81e"/>
<circle cx="391.74" cy="1095.94" r="1.51" fill="#3cf028"/>
<circle cx="387.74" cy="1095.19" r="1.09" fill="#28c81e"/>
<circle cx="390.09" cy="1093.64" r="1.81" fill="#3cf028"/>
<ellipse cx="373.01" cy="1087.96" rx="1.51" ry="1.88" fill="#3cf028"/>
<circle cx="374.86" cy="1088.67" r="0.84" fill="#3cf028"/>
<circle cx="374.3" cy="1089.47" r="1.09" fill="#3cf028"/>
<circle cx="373.19" cy="1090.31" r="1.01" fill="#28c81e"/>
<circle cx="373.37" cy="1086.86" r="1.69" fill="#28c81e"/>
<ellipse cx="345.34" cy="1085.04" rx="1.51" ry="1.26" fill="#3cf028"/>
<circle cx="345.11" cy="1085.48" r="1.52" fill="#28c81e"/>
<circle cx="344.5" cy="1086.01" r="1.6" fill="#3cf028"/>
<circle cx="345.42" cy="1086.01" r="1.54" fill="#3cf028"/>
<circle cx="345.09" cy="1083.63" r="1.3" fill="#3cf028"/>
</g>
<path d="M372,994.6 C377.57,995.1 387.1,997.53 391.7,999.5 C396.3,1001.47 396.97,1004.1 399.6,1006.4 C402.23,1008.7 404.55,1011.33 407.5,1013.3 C410.45,1015.27 414.68,1016.23 417.3,1018.2 C419.92,1020.17 421.55,1022.32 423.2,1025.1 C424.85,1027.88 425.88,1031.95 427.2,1034.9 C428.52,1037.85 429.13,1040.33 431.1,1042.8 C433.07,1045.27 437.03,1047.08 439,1049.7 C440.97,1052.32 441.92,1055.07 442.9,1058.5 C443.88,1061.93 444.57,1065.7 444.9,1070.3 C445.23,1074.9 445.57,1081.17 444.9,1086.1 C444.23,1091.03 442.87,1095.63 440.9,1099.9 C438.93,1104.17 436.05,1108.1 433.1,1111.7 C430.15,1115.3 426.82,1118.72 423.2,1121.5 C419.58,1124.28 415,1126.92 411.4,1128.4 C407.8,1129.88 405.53,1130.4 401.6,1130.4 C397.67,1130.4 392.4,1129.38 387.8,1128.4 C383.2,1127.42 378.27,1126.3 374,1124.5 C369.73,1122.7 366.13,1120.23 362.2,1117.6 C358.27,1114.97 353.85,1111.98 350.4,1108.7 C346.95,1105.42 343.97,1101.67 341.5,1097.9 C339.03,1094.13 337.07,1090.37 335.6,1086.1 C334.13,1081.83 333.35,1077.22 332.7,1072.3 C332.05,1067.38 331.7,1061.52 331.7,1056.6 C331.7,1051.68 332.05,1047.73 332.7,1042.8 C333.35,1037.87 334.28,1031.92 335.6,1027 C336.92,1022.08 338.47,1017.4 340.6,1013.3 C342.73,1009.2 345.45,1005.2 348.4,1002.4 C351.35,999.6 354.37,997.8 358.3,996.5 C362.23,995.2 366.43,994.1 372,994.6Z" fill="none" stroke="#fff" stroke-width="3.3" stroke-dasharray="3.3 3.2"/>
<rect x="374.2" y="1045.8" width="13" height="13.3" fill="none" stroke="#d826d8" stroke-width="2.8"/>
</g>
<clipPath id="cl8"><rect x="474.9" y="973.9" width="170.7" height="171.6"/></clipPath>
<g clip-path="url(#cl8)">
<rect x="474.9" y="973.9" width="170.7" height="171.6" fill="#000"/>
<g filter="url(#sb07)">
<ellipse cx="538.44" cy="1007.86" rx="7.54" ry="5.02" fill="#ff1c1c"/>
<circle cx="542.58" cy="1002.5" r="0.88" fill="#ff1c1c"/>
<circle cx="531.61" cy="1008.09" r="1.24" fill="#ff1c1c"/>
<circle cx="531.6" cy="1008.45" r="1.18" fill="#d81414"/>
<circle cx="542.32" cy="1013.01" r="1.29" fill="#ff1c1c"/>
<circle cx="544.89" cy="1002.56" r="1.25" fill="#ff1c1c"/>
<circle cx="534.58" cy="1014.4" r="1.36" fill="#d81414"/>
<circle cx="533.01" cy="1006.43" r="1.28" fill="#ff1c1c"/>
<circle cx="542.45" cy="1008.54" r="1.78" fill="#ff1c1c"/>
<circle cx="529.39" cy="1007.17" r="1.28" fill="#d81414"/>
<circle cx="529.48" cy="1010.18" r="0.81" fill="#d81414"/>
<circle cx="529.38" cy="1011.03" r="0.8" fill="#ff1c1c"/>
<circle cx="537.97" cy="1001.2" r="0.91" fill="#ff1c1c"/>
<circle cx="546.4" cy="1011.37" r="0.87" fill="#ff1c1c"/>
<circle cx="532.02" cy="1012.1" r="1.09" fill="#ff1c1c"/>
<circle cx="539.69" cy="1011.05" r="1.63" fill="#ff1c1c"/>
<circle cx="538.05" cy="1005.62" r="0.94" fill="#d81414"/>
<circle cx="537.43" cy="1004.7" r="1.16" fill="#d81414"/>
<circle cx="544.43" cy="1008.93" r="1.25" fill="#d81414"/>
<circle cx="535" cy="1010.38" r="1.76" fill="#d81414"/>
<circle cx="534.38" cy="1008.87" r="1.38" fill="#ff1c1c"/>
<circle cx="537.36" cy="1002.13" r="1.27" fill="#d81414"/>
<circle cx="528.54" cy="1010.22" r="1.36" fill="#d81414"/>
<ellipse cx="534.07" cy="1018.06" rx="3.14" ry="5.02" fill="#ff1c1c"/>
<circle cx="535.45" cy="1021.78" r="0.9" fill="#ff1c1c"/>
<circle cx="534.97" cy="1015.06" r="1.23" fill="#ff1c1c"/>
<circle cx="534.96" cy="1019.63" r="1.51" fill="#d81414"/>
<circle cx="536.85" cy="1019.36" r="1.58" fill="#ff1c1c"/>
<circle cx="531.95" cy="1021.72" r="0.93" fill="#d81414"/>
<circle cx="534.22" cy="1016.52" r="0.82" fill="#ff1c1c"/>
<circle cx="531.07" cy="1021.27" r="1.13" fill="#ff1c1c"/>
<circle cx="532.72" cy="1020.4" r="1.5" fill="#ff1c1c"/>
<circle cx="532.65" cy="1019.24" r="1.87" fill="#ff1c1c"/>
<ellipse cx="525.34" cy="1028.25" rx="4.4" ry="5.65" fill="#ff1c1c"/>
<circle cx="520.93" cy="1030.81" r="1.54" fill="#ff1c1c"/>
<circle cx="525.1" cy="1028.46" r="1.29" fill="#ff1c1c"/>
<circle cx="520.51" cy="1029.16" r="1.82" fill="#ff1c1c"/>
<circle cx="524.45" cy="1022.89" r="1.34" fill="#d81414"/>
<circle cx="524.9" cy="1026.41" r="1.62" fill="#ff1c1c"/>
<circle cx="524.44" cy="1031.94" r="1.9" fill="#ff1c1c"/>
<circle cx="525.17" cy="1023.03" r="1.72" fill="#ff1c1c"/>
<circle cx="523.86" cy="1024.51" r="1.32" fill="#d81414"/>
<circle cx="527.98" cy="1034.23" r="0.86" fill="#d81414"/>
<circle cx="519.53" cy="1029.99" r="0.92" fill="#ff1c1c"/>
<circle cx="526.8" cy="1029.33" r="1.65" fill="#ff1c1c"/>
<circle cx="520.55" cy="1023.92" r="1.31" fill="#ff1c1c"/>
<circle cx="527.88" cy="1028.87" r="1.31" fill="#ff1c1c"/>
<circle cx="527.48" cy="1023.63" r="1.27" fill="#d81414"/>
<ellipse cx="523.88" cy="1045.72" rx="6.28" ry="6.28" fill="#ff1c1c"/>
<circle cx="528.68" cy="1052.25" r="1.77" fill="#ff1c1c"/>
<circle cx="528.45" cy="1046.97" r="1.35" fill="#d81414"/>
<circle cx="528.82" cy="1046.85" r="1.75" fill="#d81414"/>
<circle cx="520.42" cy="1044.76" r="1.05" fill="#ff1c1c"/>
<circle cx="527.48" cy="1038.76" r="0.92" fill="#ff1c1c"/>
<circle cx="527.09" cy="1038.92" r="1.59" fill="#ff1c1c"/>
<circle cx="524.69" cy="1050.18" r="1.28" fill="#d81414"/>
<circle cx="524.95" cy="1048.45" r="1.56" fill="#d81414"/>
<circle cx="524.04" cy="1043.44" r="0.93" fill="#ff1c1c"/>
<circle cx="521.65" cy="1043.31" r="1.27" fill="#ff1c1c"/>
<circle cx="528.96" cy="1047.72" r="1.82" fill="#d81414"/>
<circle cx="524.14" cy="1052.33" r="1.63" fill="#ff1c1c"/>
<circle cx="523.95" cy="1038.46" r="1.18" fill="#ff1c1c"/>
<circle cx="525.71" cy="1045.37" r="1.88" fill="#d81414"/>
<circle cx="522.92" cy="1040.99" r="1.37" fill="#ff1c1c"/>
<circle cx="521.68" cy="1042.79" r="1.84" fill="#d81414"/>
<circle cx="522.54" cy="1051.36" r="1.03" fill="#d81414"/>
<circle cx="517.78" cy="1049.07" r="1.82" fill="#ff1c1c"/>
<circle cx="518.62" cy="1045.47" r="1.15" fill="#d81414"/>
<circle cx="521.88" cy="1040.75" r="1.28" fill="#ff1c1c"/>
<circle cx="520.73" cy="1040.2" r="1.69" fill="#d81414"/>
<circle cx="519.59" cy="1044.97" r="1.39" fill="#d81414"/>
<circle cx="524.46" cy="1054.17" r="1.18" fill="#ff1c1c"/>
<ellipse cx="522.42" cy="1063.2" rx="8.16" ry="8.79" fill="#ff1c1c"/>
<circle cx="532.58" cy="1057.64" r="1.85" fill="#ff1c1c"/>
<circle cx="531.28" cy="1062.37" r="0.97" fill="#ff1c1c"/>
<circle cx="514.21" cy="1062.93" r="0.94" fill="#d81414"/>
<circle cx="533.46" cy="1060.46" r="1.37" fill="#ff1c1c"/>
<circle cx="532.08" cy="1065.49" r="1.19" fill="#ff1c1c"/>
<circle cx="517.54" cy="1072.23" r="1.61" fill="#ff1c1c"/>
<circle cx="512.99" cy="1057.88" r="1.15" fill="#ff1c1c"/>
<circle cx="513.34" cy="1066.59" r="1.31" fill="#ff1c1c"/>
<circle cx="527.35" cy="1061.78" r="1.41" fill="#ff1c1c"/>
<circle cx="514.79" cy="1059.53" r="1.29" fill="#d81414"/>
<circle cx="516.63" cy="1066.19" r="1.26" fill="#ff1c1c"/>
<circle cx="515.65" cy="1061.82" r="1.49" fill="#ff1c1c"/>
<circle cx="520.67" cy="1063" r="1.19" fill="#ff1c1c"/>
<circle cx="511.61" cy="1060.42" r="1.3" fill="#ff1c1c"/>
<circle cx="532.35" cy="1059.84" r="1.38" fill="#d81414"/>
<circle cx="520.99" cy="1053.19" r="1.64" fill="#d81414"/>
<circle cx="523.35" cy="1073.12" r="1.11" fill="#d81414"/>
<circle cx="512.65" cy="1061.24" r="1.07" fill="#ff1c1c"/>
<circle cx="517.25" cy="1059.2" r="1" fill="#d81414"/>
<circle cx="515.1" cy="1062.88" r="1.72" fill="#ff1c1c"/>
<circle cx="520.45" cy="1066.17" r="1.63" fill="#ff1c1c"/>
<circle cx="520.58" cy="1058.3" r="1.05" fill="#ff1c1c"/>
<circle cx="519.29" cy="1073.45" r="0.81" fill="#ff1c1c"/>
<circle cx="518.13" cy="1061.58" r="1.33" fill="#ff1c1c"/>
<circle cx="523.06" cy="1068.81" r="0.91" fill="#d81414"/>
<circle cx="528.27" cy="1056.53" r="1.59" fill="#d81414"/>
<circle cx="523.97" cy="1056.4" r="1.05" fill="#ff1c1c"/>
<circle cx="514.49" cy="1061.97" r="1" fill="#ff1c1c"/>
<circle cx="516.7" cy="1065.55" r="1.57" fill="#ff1c1c"/>
<circle cx="517.64" cy="1065.59" r="1.24" fill="#d81414"/>
<circle cx="515.99" cy="1068.21" r="0.91" fill="#ff1c1c"/>
<circle cx="517.97" cy="1072.83" r="1.27" fill="#d81414"/>
<circle cx="518.09" cy="1066.62" r="1.68" fill="#ff1c1c"/>
<circle cx="520.3" cy="1057.17" r="1.83" fill="#ff1c1c"/>
<circle cx="524.34" cy="1068.67" r="1.62" fill="#ff1c1c"/>
<circle cx="517.08" cy="1062.08" r="1.39" fill="#ff1c1c"/>
<circle cx="519.88" cy="1064.08" r="0.99" fill="#d81414"/>
<circle cx="519.84" cy="1058.94" r="1.81" fill="#ff1c1c"/>
<circle cx="530.66" cy="1066.61" r="1.3" fill="#ff1c1c"/>
<circle cx="524.75" cy="1063.67" r="1.25" fill="#d81414"/>
<circle cx="527.82" cy="1068.64" r="0.83" fill="#d81414"/>
<circle cx="525.87" cy="1056.98" r="1.73" fill="#ff1c1c"/>
<ellipse cx="520.97" cy="1071.94" rx="5.65" ry="5.02" fill="#ff1c1c"/>
<circle cx="518.22" cy="1072.45" r="1.59" fill="#ff1c1c"/>
<circle cx="515.98" cy="1070.55" r="1.17" fill="#d81414"/>
<circle cx="524.03" cy="1076.85" r="1.11" fill="#ff1c1c"/>
<circle cx="526.83" cy="1074" r="1.75" fill="#d81414"/>
<circle cx="523.94" cy="1077.46" r="1.35" fill="#ff1c1c"/>
<circle cx="514.25" cy="1071.37" r="1.26" fill="#ff1c1c"/>
<circle cx="522.19" cy="1068.57" r="1.32" fill="#ff1c1c"/>
<circle cx="517.43" cy="1077.33" r="1.57" fill="#ff1c1c"/>
<circle cx="520.16" cy="1070.04" r="1.24" fill="#d81414"/>
<circle cx="514.79" cy="1073.31" r="0.88" fill="#ff1c1c"/>
<circle cx="516.03" cy="1068.31" r="1.85" fill="#d81414"/>
<circle cx="527.29" cy="1073.38" r="1.59" fill="#ff1c1c"/>
<circle cx="525.83" cy="1071.55" r="1.59" fill="#d81414"/>
<circle cx="513.42" cy="1072.11" r="1.15" fill="#ff1c1c"/>
<circle cx="522.43" cy="1067.62" r="1.44" fill="#ff1c1c"/>
<circle cx="517.01" cy="1069.26" r="1.14" fill="#ff1c1c"/>
<ellipse cx="582.13" cy="1029.71" rx="7.54" ry="5.65" fill="#ff1c1c"/>
<circle cx="583.72" cy="1023.68" r="1.82" fill="#ff1c1c"/>
<circle cx="575.08" cy="1032.64" r="1.18" fill="#d81414"/>
<circle cx="579.26" cy="1024.16" r="1.26" fill="#d81414"/>
<circle cx="584.87" cy="1024.47" r="1.48" fill="#ff1c1c"/>
<circle cx="580.28" cy="1026.62" r="1.15" fill="#ff1c1c"/>
<circle cx="571.92" cy="1027.76" r="1.25" fill="#d81414"/>
<circle cx="577.56" cy="1031.63" r="1.22" fill="#d81414"/>
<circle cx="586.14" cy="1036.05" r="1.18" fill="#d81414"/>
<circle cx="584.07" cy="1023.52" r="1.84" fill="#ff1c1c"/>
<circle cx="577.11" cy="1034.41" r="1.2" fill="#ff1c1c"/>
<circle cx="588.49" cy="1026.88" r="0.83" fill="#ff1c1c"/>
<circle cx="572.72" cy="1032.38" r="1.5" fill="#ff1c1c"/>
<circle cx="588.54" cy="1032.87" r="0.86" fill="#d81414"/>
<circle cx="581.92" cy="1027.05" r="1.1" fill="#ff1c1c"/>
<circle cx="573.24" cy="1029.5" r="1.32" fill="#d81414"/>
<circle cx="590.98" cy="1032.77" r="1.79" fill="#ff1c1c"/>
<circle cx="592.19" cy="1030" r="1.29" fill="#d81414"/>
<circle cx="575.76" cy="1028.93" r="1.45" fill="#ff1c1c"/>
<circle cx="585" cy="1031.63" r="1.85" fill="#d81414"/>
<circle cx="589.27" cy="1029.38" r="1.18" fill="#d81414"/>
<circle cx="588.28" cy="1029.51" r="1.21" fill="#ff1c1c"/>
<circle cx="577.5" cy="1027.41" r="1.73" fill="#ff1c1c"/>
<circle cx="588.37" cy="1031.99" r="1.39" fill="#ff1c1c"/>
<circle cx="576.37" cy="1026.62" r="0.82" fill="#ff1c1c"/>
<circle cx="573.51" cy="1026.07" r="1.54" fill="#ff1c1c"/>
<ellipse cx="577.76" cy="1036.99" rx="3.77" ry="3.14" fill="#ff1c1c"/>
<circle cx="576.56" cy="1040.68" r="1.58" fill="#ff1c1c"/>
<circle cx="576.87" cy="1038.18" r="1.85" fill="#d81414"/>
<circle cx="573.61" cy="1039.44" r="1.74" fill="#d81414"/>
<circle cx="573.2" cy="1035.94" r="1.78" fill="#d81414"/>
<circle cx="579.16" cy="1039.58" r="1.16" fill="#ff1c1c"/>
<circle cx="581.37" cy="1037.27" r="1.3" fill="#ff1c1c"/>
<circle cx="578.32" cy="1037.76" r="1.32" fill="#d81414"/>
<ellipse cx="561.74" cy="1035.53" rx="1.88" ry="4.4" fill="#ff1c1c"/>
<circle cx="562.82" cy="1036.97" r="0.89" fill="#d81414"/>
<circle cx="561.13" cy="1032.36" r="1.01" fill="#d81414"/>
<circle cx="562.75" cy="1032.86" r="1.67" fill="#d81414"/>
<circle cx="561.02" cy="1030.39" r="1.83" fill="#ff1c1c"/>
<ellipse cx="558.83" cy="1053.01" rx="5.02" ry="5.02" fill="#ff1c1c"/>
<circle cx="558.27" cy="1058.11" r="0.96" fill="#ff1c1c"/>
<circle cx="563.11" cy="1051.51" r="1.15" fill="#d81414"/>
<circle cx="555.91" cy="1056.55" r="0.88" fill="#ff1c1c"/>
<circle cx="555.05" cy="1055.02" r="0.88" fill="#ff1c1c"/>
<circle cx="562.74" cy="1054.01" r="0.87" fill="#ff1c1c"/>
<circle cx="552.77" cy="1051.76" r="1.88" fill="#ff1c1c"/>
<circle cx="558.13" cy="1052.71" r="1.53" fill="#ff1c1c"/>
<circle cx="555.66" cy="1048.54" r="1.57" fill="#ff1c1c"/>
<circle cx="560.07" cy="1054.37" r="1.4" fill="#ff1c1c"/>
<circle cx="564.61" cy="1056.51" r="1.35" fill="#ff1c1c"/>
<circle cx="558.57" cy="1054.03" r="1.14" fill="#d81414"/>
<circle cx="554.06" cy="1048.43" r="0.95" fill="#d81414"/>
<circle cx="553.75" cy="1057.35" r="1.53" fill="#ff1c1c"/>
<circle cx="553.05" cy="1054.97" r="1.22" fill="#d81414"/>
<ellipse cx="567.57" cy="1048.64" rx="1.88" ry="2.51" fill="#ff1c1c"/>
<circle cx="568.43" cy="1047.07" r="1.57" fill="#ff1c1c"/>
<circle cx="567.57" cy="1051.08" r="1.05" fill="#d81414"/>
<circle cx="566.67" cy="1050.9" r="0.96" fill="#d81414"/>
<circle cx="568.28" cy="1050.11" r="1.68" fill="#ff1c1c"/>
<ellipse cx="544.27" cy="1033.35" rx="1.88" ry="1.51" fill="#ff1c1c"/>
<circle cx="542.58" cy="1034.16" r="1.6" fill="#ff1c1c"/>
<circle cx="545.04" cy="1031.85" r="1.45" fill="#d81414"/>
<circle cx="543.18" cy="1032.63" r="1.45" fill="#ff1c1c"/>
<circle cx="543" cy="1034.89" r="1.04" fill="#ff1c1c"/>
<ellipse cx="552.28" cy="1032.62" rx="1.51" ry="1.26" fill="#ff1c1c"/>
<circle cx="553.17" cy="1033.09" r="1.41" fill="#d81414"/>
<circle cx="553.6" cy="1033.14" r="1.9" fill="#ff1c1c"/>
<circle cx="553.41" cy="1031.36" r="1.77" fill="#ff1c1c"/>
<circle cx="551.2" cy="1033.72" r="1.05" fill="#d81414"/>
<ellipse cx="536.99" cy="1066.84" rx="2.26" ry="1.76" fill="#ff1c1c"/>
<circle cx="538.6" cy="1066.37" r="1.82" fill="#d81414"/>
<circle cx="537.52" cy="1067.61" r="1.42" fill="#d81414"/>
<circle cx="539.67" cy="1068.13" r="1.64" fill="#d81414"/>
<circle cx="537.06" cy="1066.25" r="0.84" fill="#ff1c1c"/>
<ellipse cx="555.92" cy="1090.87" rx="3.14" ry="1.88" fill="#8a0c0c"/>
<circle cx="555.27" cy="1090.86" r="1.84" fill="#8a0c0c"/>
<circle cx="558.48" cy="1092.67" r="1.19" fill="#8a0c0c"/>
<circle cx="552.6" cy="1089.92" r="1.38" fill="#8a0c0c"/>
<circle cx="554.69" cy="1088.97" r="1.17" fill="#8a0c0c"/>
<ellipse cx="570.48" cy="1092.32" rx="2.51" ry="1.88" fill="#8a0c0c"/>
<circle cx="570.85" cy="1094.01" r="1.06" fill="#8a0c0c"/>
<circle cx="570.37" cy="1093.4" r="1.23" fill="#8a0c0c"/>
<circle cx="568.83" cy="1092.08" r="1.7" fill="#8a0c0c"/>
<circle cx="572.08" cy="1091.35" r="0.98" fill="#8a0c0c"/>
<ellipse cx="555.92" cy="1098.15" rx="1.88" ry="1.88" fill="#8a0c0c"/>
<circle cx="555.12" cy="1098.95" r="1.52" fill="#8a0c0c"/>
<circle cx="557.22" cy="1096.25" r="1.36" fill="#8a0c0c"/>
<circle cx="555.35" cy="1097.19" r="1.57" fill="#8a0c0c"/>
<circle cx="554.77" cy="1097.08" r="1.17" fill="#8a0c0c"/>
<ellipse cx="592.32" cy="1069.02" rx="2.51" ry="1.51" fill="#8a0c0c"/>
<circle cx="591.25" cy="1068.18" r="1.86" fill="#6a0808"/>
<circle cx="593.55" cy="1069.07" r="1.65" fill="#6a0808"/>
<circle cx="593.82" cy="1069.79" r="1.02" fill="#6a0808"/>
<circle cx="589.71" cy="1070.35" r="1.78" fill="#8a0c0c"/>
<ellipse cx="539.9" cy="1039.9" rx="1.51" ry="3.14" fill="#ff1c1c"/>
<circle cx="538.33" cy="1039.69" r="1.35" fill="#ff1c1c"/>
<circle cx="540.09" cy="1038.4" r="1.73" fill="#ff1c1c"/>
<circle cx="537.87" cy="1039.62" r="1.04" fill="#d81414"/>
<circle cx="539.99" cy="1038.76" r="1.12" fill="#d81414"/>
<ellipse cx="528.25" cy="1035.53" rx="1.88" ry="1.88" fill="#ff1c1c"/>
<circle cx="526.76" cy="1035.41" r="1.5" fill="#ff1c1c"/>
<circle cx="529.28" cy="1033.99" r="1.2" fill="#ff1c1c"/>
<circle cx="529.19" cy="1035.34" r="1.14" fill="#d81414"/>
<circle cx="529.14" cy="1037.01" r="0.88" fill="#ff1c1c"/>
</g>
<path d="M552.2,994.6 C557.77,995.1 567.3,997.53 571.9,999.5 C576.5,1001.47 577.17,1004.1 579.8,1006.4 C582.43,1008.7 584.75,1011.33 587.7,1013.3 C590.65,1015.27 594.88,1016.23 597.5,1018.2 C600.12,1020.17 601.75,1022.32 603.4,1025.1 C605.05,1027.88 606.08,1031.95 607.4,1034.9 C608.72,1037.85 609.33,1040.33 611.3,1042.8 C613.27,1045.27 617.23,1047.08 619.2,1049.7 C621.17,1052.32 622.12,1055.07 623.1,1058.5 C624.08,1061.93 624.77,1065.7 625.1,1070.3 C625.43,1074.9 625.77,1081.17 625.1,1086.1 C624.43,1091.03 623.07,1095.63 621.1,1099.9 C619.13,1104.17 616.25,1108.1 613.3,1111.7 C610.35,1115.3 607.02,1118.72 603.4,1121.5 C599.78,1124.28 595.2,1126.92 591.6,1128.4 C588,1129.88 585.73,1130.4 581.8,1130.4 C577.87,1130.4 572.6,1129.38 568,1128.4 C563.4,1127.42 558.47,1126.3 554.2,1124.5 C549.93,1122.7 546.33,1120.23 542.4,1117.6 C538.47,1114.97 534.05,1111.98 530.6,1108.7 C527.15,1105.42 524.17,1101.67 521.7,1097.9 C519.23,1094.13 517.27,1090.37 515.8,1086.1 C514.33,1081.83 513.55,1077.22 512.9,1072.3 C512.25,1067.38 511.9,1061.52 511.9,1056.6 C511.9,1051.68 512.25,1047.73 512.9,1042.8 C513.55,1037.87 514.48,1031.92 515.8,1027 C517.12,1022.08 518.67,1017.4 520.8,1013.3 C522.93,1009.2 525.65,1005.2 528.6,1002.4 C531.55,999.6 534.57,997.8 538.5,996.5 C542.43,995.2 546.63,994.1 552.2,994.6Z" fill="none" stroke="#fff" stroke-width="3.3" stroke-dasharray="3.3 3.2"/>
<rect x="551.5" y="1046.2" width="13.5" height="12.9" fill="none" stroke="#d826d8" stroke-width="2.8"/>
</g>
<clipPath id="cl9"><rect x="654" y="973.9" width="171.4" height="171.6"/></clipPath>
<g clip-path="url(#cl9)">
<rect x="654" y="973.9" width="171.4" height="171.6" fill="#000"/>
<g filter="url(#sb07)">
<ellipse cx="717.72" cy="1007.86" rx="6.91" ry="5.02" fill="#e86a14"/>
<circle cx="720.68" cy="1012.45" r="1.74" fill="#e86a14"/>
<circle cx="719.57" cy="1008.99" r="1.6" fill="#f4f020"/>
<circle cx="723.12" cy="1004.75" r="1.49" fill="#e86a14"/>
<circle cx="712.84" cy="1006.81" r="1.8" fill="#e86a14"/>
<circle cx="718.05" cy="1009.21" r="1.13" fill="#e86a14"/>
<circle cx="714.3" cy="1007.6" r="1.15" fill="#e86a14"/>
<circle cx="718.95" cy="1014.41" r="1.69" fill="#e86a14"/>
<circle cx="724.43" cy="1005.76" r="1.74" fill="#f4f020"/>
<circle cx="724.72" cy="1004.53" r="1.07" fill="#e86a14"/>
<circle cx="710.12" cy="1010.34" r="1.19" fill="#f4f020"/>
<circle cx="709.97" cy="1010.74" r="1.39" fill="#f4f020"/>
<circle cx="721.66" cy="1010.43" r="1.3" fill="#e86a14"/>
<circle cx="711.34" cy="1007.26" r="1.75" fill="#f4f020"/>
<circle cx="723.16" cy="1012.47" r="0.9" fill="#e86a14"/>
<circle cx="716.1" cy="1012.85" r="1.66" fill="#e86a14"/>
<circle cx="718.41" cy="1004.53" r="1.11" fill="#e86a14"/>
<circle cx="711.46" cy="1003" r="1.17" fill="#f4f020"/>
<circle cx="721.47" cy="1008.27" r="1.83" fill="#e86a14"/>
<circle cx="720.67" cy="1008.11" r="1.76" fill="#e86a14"/>
<circle cx="714.96" cy="1009.86" r="1.76" fill="#e86a14"/>
<ellipse cx="714.07" cy="1018.06" rx="3.14" ry="5.02" fill="#e86a14"/>
<circle cx="710.34" cy="1016.35" r="1.03" fill="#e86a14"/>
<circle cx="715.07" cy="1019.43" r="1.26" fill="#e86a14"/>
<circle cx="717.3" cy="1021.9" r="1.52" fill="#e03010"/>
<circle cx="717.57" cy="1018.02" r="1.64" fill="#e03010"/>
<circle cx="710.52" cy="1021.29" r="1.44" fill="#e03010"/>
<circle cx="711.78" cy="1018.89" r="1.05" fill="#e86a14"/>
<circle cx="711.22" cy="1014.45" r="1.24" fill="#e86a14"/>
<circle cx="711.26" cy="1014.55" r="1.17" fill="#e86a14"/>
<circle cx="715.57" cy="1015.76" r="1.31" fill="#e03010"/>
<ellipse cx="705.34" cy="1028.25" rx="3.77" ry="5.65" fill="#e86a14"/>
<circle cx="706.05" cy="1033.8" r="0.92" fill="#f4f020"/>
<circle cx="701.78" cy="1026.48" r="0.9" fill="#e86a14"/>
<circle cx="703.07" cy="1025.25" r="1.29" fill="#f4f020"/>
<circle cx="708.11" cy="1026.2" r="1.45" fill="#f4f020"/>
<circle cx="702.41" cy="1031.12" r="1.53" fill="#e86a14"/>
<circle cx="701.18" cy="1026.5" r="1.31" fill="#f4f020"/>
<circle cx="702.77" cy="1025.02" r="0.81" fill="#e86a14"/>
<circle cx="702.18" cy="1031.87" r="1.54" fill="#e86a14"/>
<circle cx="700.1" cy="1027.55" r="1.48" fill="#e86a14"/>
<circle cx="706.33" cy="1020.61" r="1.59" fill="#e86a14"/>
<circle cx="709.11" cy="1026.93" r="1.31" fill="#e86a14"/>
<circle cx="705.38" cy="1030.27" r="0.84" fill="#e86a14"/>
<ellipse cx="735.92" cy="1005.68" rx="4.4" ry="2.76" fill="#38e028"/>
<circle cx="732.63" cy="1007.18" r="0.81" fill="#38e028"/>
<circle cx="731.18" cy="1004.97" r="1.11" fill="#38e028"/>
<circle cx="734.3" cy="1007.83" r="1.82" fill="#38e028"/>
<circle cx="733.96" cy="1007.51" r="0.9" fill="#38e028"/>
<circle cx="737.43" cy="1002.96" r="1.23" fill="#38e028"/>
<circle cx="734.63" cy="1008.31" r="0.91" fill="#38e028"/>
<circle cx="734.99" cy="1007.35" r="1.62" fill="#38e028"/>
<ellipse cx="751.94" cy="1016.6" rx="1.88" ry="3.14" fill="#38e028"/>
<circle cx="752.42" cy="1013.29" r="0.95" fill="#38e028"/>
<circle cx="752.51" cy="1017.51" r="1.37" fill="#38e028"/>
<circle cx="752.07" cy="1013.94" r="1.19" fill="#38e028"/>
<circle cx="753.26" cy="1015.58" r="1.12" fill="#38e028"/>
<ellipse cx="762.13" cy="1028.25" rx="8.16" ry="5.65" fill="#f4f020"/>
<circle cx="760.49" cy="1027" r="1.47" fill="#38e028"/>
<circle cx="770.08" cy="1026.74" r="1.29" fill="#38e028"/>
<circle cx="758.73" cy="1026.23" r="0.81" fill="#38e028"/>
<circle cx="759.34" cy="1025.95" r="1.69" fill="#38e028"/>
<circle cx="764.82" cy="1028.99" r="1.17" fill="#f4f020"/>
<circle cx="753.12" cy="1024.27" r="0.94" fill="#f4f020"/>
<circle cx="771.42" cy="1027.84" r="1.28" fill="#38e028"/>
<circle cx="759.8" cy="1029" r="1.86" fill="#f4f020"/>
<circle cx="754.07" cy="1031.98" r="1.85" fill="#f4f020"/>
<circle cx="766.13" cy="1031.52" r="1.53" fill="#38e028"/>
<circle cx="756.14" cy="1029.6" r="1.53" fill="#f4f020"/>
<circle cx="768.3" cy="1023.02" r="1.88" fill="#f4f020"/>
<circle cx="752.83" cy="1028.23" r="0.99" fill="#f4f020"/>
<circle cx="762.46" cy="1035.59" r="1.1" fill="#f4f020"/>
<circle cx="759.53" cy="1035.17" r="1.03" fill="#f4f020"/>
<circle cx="752.51" cy="1031.7" r="1.68" fill="#38e028"/>
<circle cx="766.88" cy="1024.61" r="1.37" fill="#f4f020"/>
<circle cx="773.1" cy="1028.5" r="0.94" fill="#f4f020"/>
<circle cx="758.52" cy="1027.05" r="1.28" fill="#38e028"/>
<circle cx="751.42" cy="1027.66" r="1.83" fill="#f4f020"/>
<circle cx="755.06" cy="1027.74" r="1.29" fill="#f4f020"/>
<circle cx="761.38" cy="1026.08" r="1.07" fill="#38e028"/>
<circle cx="756.07" cy="1022.26" r="1.06" fill="#f4f020"/>
<circle cx="770.11" cy="1022.99" r="1.46" fill="#f4f020"/>
<circle cx="760.9" cy="1023.71" r="1.47" fill="#38e028"/>
<circle cx="757.9" cy="1029.72" r="1.88" fill="#38e028"/>
<circle cx="758.18" cy="1034.31" r="1.59" fill="#f4f020"/>
<ellipse cx="756.31" cy="1038.44" rx="3.77" ry="3.14" fill="#f4f020"/>
<circle cx="757.47" cy="1040.33" r="0.86" fill="#38e028"/>
<circle cx="760.63" cy="1040.6" r="1.18" fill="#f4f020"/>
<circle cx="755.43" cy="1037.07" r="1.57" fill="#38e028"/>
<circle cx="755.73" cy="1036.19" r="1.84" fill="#f4f020"/>
<circle cx="758.97" cy="1040.15" r="1.55" fill="#f4f020"/>
<circle cx="753.54" cy="1035.7" r="1.43" fill="#f4f020"/>
<circle cx="757.54" cy="1034.76" r="1.59" fill="#f4f020"/>
<ellipse cx="722.81" cy="1033.35" rx="2.51" ry="1.88" fill="#f4f020"/>
<circle cx="721.17" cy="1033.59" r="1.08" fill="#f4f020"/>
<circle cx="722.24" cy="1033.99" r="0.95" fill="#f4f020"/>
<circle cx="721.93" cy="1034.11" r="1.18" fill="#f4f020"/>
<circle cx="721.72" cy="1032.14" r="0.94" fill="#f4f020"/>
<ellipse cx="733.01" cy="1035.53" rx="1.51" ry="2.51" fill="#38e028"/>
<circle cx="732.05" cy="1036.24" r="1.05" fill="#38e028"/>
<circle cx="733.94" cy="1034.85" r="1.27" fill="#38e028"/>
<circle cx="731.81" cy="1033.62" r="1.04" fill="#38e028"/>
<circle cx="733.6" cy="1037.44" r="1.04" fill="#38e028"/>
<ellipse cx="741.01" cy="1035.53" rx="1.88" ry="3.77" fill="#f4f020"/>
<circle cx="738.8" cy="1034.71" r="1.45" fill="#f4f020"/>
<circle cx="740.7" cy="1037.71" r="1.64" fill="#e86a14"/>
<circle cx="741.41" cy="1036.27" r="1.44" fill="#e86a14"/>
<circle cx="739.24" cy="1033.68" r="0.81" fill="#f4f020"/>
<ellipse cx="703.88" cy="1048.64" rx="5.65" ry="6.28" fill="#e86a14"/>
<circle cx="698.79" cy="1054.64" r="1.85" fill="#f4f020"/>
<circle cx="710.04" cy="1052.39" r="1.88" fill="#f4f020"/>
<circle cx="709.33" cy="1044.54" r="1.12" fill="#f4f020"/>
<circle cx="696.34" cy="1046.48" r="1.33" fill="#f4f020"/>
<circle cx="702.04" cy="1054.34" r="1.31" fill="#e86a14"/>
<circle cx="705.45" cy="1046.14" r="1.3" fill="#f4f020"/>
<circle cx="698.94" cy="1042.8" r="1.68" fill="#e86a14"/>
<circle cx="704.4" cy="1055.66" r="1.66" fill="#e86a14"/>
<circle cx="698.92" cy="1048.99" r="0.82" fill="#e86a14"/>
<circle cx="704" cy="1054.43" r="1.77" fill="#f4f020"/>
<circle cx="702.67" cy="1044.42" r="1.9" fill="#f4f020"/>
<circle cx="700.4" cy="1045.02" r="1.57" fill="#e86a14"/>
<circle cx="699.38" cy="1049.32" r="1.3" fill="#e86a14"/>
<circle cx="697.58" cy="1048.41" r="1.31" fill="#e86a14"/>
<circle cx="702.26" cy="1053.4" r="1.04" fill="#e86a14"/>
<circle cx="708.73" cy="1048.77" r="1.56" fill="#e86a14"/>
<circle cx="699.42" cy="1044.92" r="1.81" fill="#e86a14"/>
<circle cx="702.05" cy="1053.9" r="1.5" fill="#e86a14"/>
<circle cx="707.17" cy="1047.41" r="0.98" fill="#e86a14"/>
<circle cx="707.22" cy="1046.37" r="0.92" fill="#e86a14"/>
<circle cx="699.97" cy="1054.87" r="1.53" fill="#e86a14"/>
<ellipse cx="700.97" cy="1063.2" rx="7.54" ry="7.54" fill="#f4f020"/>
<circle cx="705.57" cy="1059.37" r="1.37" fill="#e86a14"/>
<circle cx="695.18" cy="1055.66" r="0.87" fill="#f4f020"/>
<circle cx="706.24" cy="1061.39" r="1.23" fill="#e86a14"/>
<circle cx="706.44" cy="1071.08" r="0.92" fill="#f4f020"/>
<circle cx="691.95" cy="1063.47" r="1.54" fill="#f4f020"/>
<circle cx="708.21" cy="1061.17" r="1.58" fill="#e86a14"/>
<circle cx="701.19" cy="1063.09" r="1.39" fill="#f4f020"/>
<circle cx="691.77" cy="1062.83" r="1.88" fill="#e86a14"/>
<circle cx="703.97" cy="1066.24" r="0.83" fill="#e86a14"/>
<circle cx="706.82" cy="1063.88" r="1.84" fill="#e86a14"/>
<circle cx="710.17" cy="1065.24" r="1.8" fill="#f4f020"/>
<circle cx="707.57" cy="1067.41" r="0.85" fill="#e86a14"/>
<circle cx="705.9" cy="1062.01" r="1.09" fill="#f4f020"/>
<circle cx="708.32" cy="1067.39" r="1.3" fill="#f4f020"/>
<circle cx="703.26" cy="1060.34" r="1.45" fill="#f4f020"/>
<circle cx="694.81" cy="1066.05" r="1.41" fill="#f4f020"/>
<circle cx="706.26" cy="1067.91" r="1.44" fill="#e86a14"/>
<circle cx="700.27" cy="1057.71" r="1.69" fill="#f4f020"/>
<circle cx="702.31" cy="1070.68" r="1.62" fill="#f4f020"/>
<circle cx="701.68" cy="1062.21" r="1.46" fill="#e86a14"/>
<circle cx="700.24" cy="1058.48" r="1.01" fill="#e86a14"/>
<circle cx="701.48" cy="1055.88" r="1.18" fill="#f4f020"/>
<circle cx="704.79" cy="1061.36" r="1.4" fill="#f4f020"/>
<circle cx="703.75" cy="1066.7" r="1.16" fill="#e86a14"/>
<circle cx="703" cy="1064.77" r="1.73" fill="#e86a14"/>
<circle cx="703.24" cy="1054.28" r="1.09" fill="#f4f020"/>
<circle cx="697.11" cy="1068.3" r="1.58" fill="#f4f020"/>
<circle cx="706.69" cy="1058.66" r="1.57" fill="#f4f020"/>
<circle cx="701.43" cy="1057.1" r="1.77" fill="#e86a14"/>
<circle cx="701.65" cy="1070.08" r="1.8" fill="#f4f020"/>
<circle cx="710.32" cy="1059.2" r="1.65" fill="#f4f020"/>
<circle cx="701.74" cy="1071.09" r="1.76" fill="#f4f020"/>
<circle cx="696.87" cy="1056.83" r="1.56" fill="#f4f020"/>
<ellipse cx="702.42" cy="1073.39" rx="5.02" ry="4.4" fill="#f4f020"/>
<circle cx="709.05" cy="1074.42" r="0.81" fill="#f4f020"/>
<circle cx="705.08" cy="1078.73" r="1.26" fill="#f4f020"/>
<circle cx="704.88" cy="1070.92" r="1.86" fill="#f4f020"/>
<circle cx="705.91" cy="1076.84" r="0.98" fill="#f4f020"/>
<circle cx="702.37" cy="1077.05" r="1.53" fill="#f4f020"/>
<circle cx="704.99" cy="1077.1" r="1.2" fill="#f4f020"/>
<circle cx="705.6" cy="1069.86" r="1.43" fill="#f4f020"/>
<circle cx="699.52" cy="1071.62" r="1.05" fill="#f4f020"/>
<circle cx="702.34" cy="1072.17" r="1.42" fill="#f4f020"/>
<circle cx="708.44" cy="1070.29" r="1.6" fill="#f4f020"/>
<circle cx="701.62" cy="1069.87" r="1.31" fill="#f4f020"/>
<circle cx="698.65" cy="1075.39" r="1.56" fill="#f4f020"/>
<circle cx="697.95" cy="1075.21" r="0.91" fill="#f4f020"/>
<ellipse cx="737.37" cy="1052.28" rx="4.4" ry="4.4" fill="#f4f020"/>
<circle cx="738.39" cy="1051.35" r="1.4" fill="#ffffff"/>
<circle cx="734.36" cy="1057.58" r="0.84" fill="#ffffff"/>
<circle cx="736.51" cy="1048.44" r="1.81" fill="#f4f020"/>
<circle cx="736.13" cy="1050.45" r="1.4" fill="#ffffff"/>
<circle cx="737.75" cy="1050.86" r="1.41" fill="#ffffff"/>
<circle cx="740.66" cy="1057.44" r="0.97" fill="#f4f020"/>
<circle cx="738.64" cy="1051.22" r="1" fill="#ffffff"/>
<circle cx="739.63" cy="1052.58" r="1.47" fill="#ffffff"/>
<circle cx="741.9" cy="1055.78" r="1.8" fill="#ffffff"/>
<circle cx="733.16" cy="1050.09" r="1.74" fill="#f4f020"/>
<circle cx="742.28" cy="1055.48" r="1.6" fill="#ffffff"/>
<ellipse cx="716.99" cy="1066.84" rx="2.51" ry="1.76" fill="#e86a14"/>
<circle cx="713.91" cy="1065.89" r="1.54" fill="#e86a14"/>
<circle cx="715.83" cy="1068.25" r="1.13" fill="#e86a14"/>
<circle cx="719.75" cy="1066.89" r="1.44" fill="#e86a14"/>
<circle cx="718" cy="1064.78" r="0.95" fill="#e86a14"/>
<ellipse cx="728.64" cy="1067.57" rx="1.88" ry="1.51" fill="#38e028"/>
<circle cx="729.31" cy="1068.06" r="1.63" fill="#38e028"/>
<circle cx="731" cy="1068.48" r="1.11" fill="#38e028"/>
<circle cx="726.61" cy="1066.5" r="1.84" fill="#38e028"/>
<circle cx="727.71" cy="1069.03" r="1.41" fill="#38e028"/>
<ellipse cx="773.78" cy="1070.48" rx="3.14" ry="6.91" fill="#38e028"/>
<circle cx="770.71" cy="1067.74" r="1.89" fill="#38e028"/>
<circle cx="771.57" cy="1072.73" r="1.7" fill="#38e028"/>
<circle cx="772.23" cy="1066.66" r="1.79" fill="#38e028"/>
<circle cx="776.78" cy="1070.89" r="1.1" fill="#38e028"/>
<circle cx="775.17" cy="1063.3" r="1.35" fill="#38e028"/>
<circle cx="771.49" cy="1067.65" r="1.63" fill="#38e028"/>
<circle cx="773.04" cy="1068.74" r="0.84" fill="#38e028"/>
<circle cx="774.81" cy="1078.6" r="0.89" fill="#38e028"/>
<circle cx="774.08" cy="1073.31" r="0.84" fill="#38e028"/>
<circle cx="772.16" cy="1079.41" r="1.07" fill="#38e028"/>
<circle cx="775.53" cy="1069.09" r="1.48" fill="#38e028"/>
<circle cx="773.32" cy="1072.36" r="1.16" fill="#38e028"/>
<ellipse cx="735.92" cy="1098.15" rx="4.4" ry="2.76" fill="#38e028"/>
<circle cx="731.16" cy="1099.09" r="1.56" fill="#38e028"/>
<circle cx="738.48" cy="1101.63" r="1.4" fill="#38e028"/>
<circle cx="730.2" cy="1097.38" r="1.6" fill="#38e028"/>
<circle cx="739.07" cy="1098.72" r="1.36" fill="#38e028"/>
<circle cx="735.77" cy="1101.82" r="1.37" fill="#38e028"/>
<circle cx="732.52" cy="1097.75" r="1.46" fill="#38e028"/>
<circle cx="737.58" cy="1096.65" r="1.35" fill="#38e028"/>
<ellipse cx="744.66" cy="1094.51" rx="3.77" ry="2.51" fill="#38e028"/>
<circle cx="741.27" cy="1095.12" r="1.83" fill="#38e028"/>
<circle cx="743.77" cy="1091.63" r="1.23" fill="#38e028"/>
<circle cx="743.59" cy="1096.56" r="1.85" fill="#38e028"/>
<circle cx="746.65" cy="1097.05" r="0.94" fill="#38e028"/>
<circle cx="742.65" cy="1094.32" r="1.87" fill="#38e028"/>
<ellipse cx="751.94" cy="1093.78" rx="2.51" ry="1.51" fill="#e86a14"/>
<circle cx="752.05" cy="1093.43" r="1.43" fill="#38e028"/>
<circle cx="748.8" cy="1093.46" r="0.87" fill="#e86a14"/>
<circle cx="753.39" cy="1093.42" r="1.05" fill="#e86a14"/>
<circle cx="751.81" cy="1093.04" r="0.99" fill="#38e028"/>
<ellipse cx="765.04" cy="1089.41" rx="1.88" ry="1.51" fill="#38e028"/>
<circle cx="765.09" cy="1089.44" r="1.71" fill="#38e028"/>
<circle cx="765.06" cy="1089.66" r="1.16" fill="#38e028"/>
<circle cx="766.83" cy="1088.35" r="1.88" fill="#38e028"/>
<circle cx="764.06" cy="1089.67" r="1.77" fill="#38e028"/>
<ellipse cx="698.06" cy="1045.72" rx="1.88" ry="2.26" fill="#38e028"/>
<circle cx="697.97" cy="1047" r="1.73" fill="#38e028"/>
<circle cx="697.89" cy="1044.15" r="1.07" fill="#38e028"/>
<circle cx="699.55" cy="1045.98" r="1.48" fill="#38e028"/>
<circle cx="697.38" cy="1046.27" r="0.82" fill="#38e028"/>
</g>
<path d="M731.3,994.6 C736.87,995.1 746.4,997.53 751,999.5 C755.6,1001.47 756.27,1004.1 758.9,1006.4 C761.53,1008.7 763.85,1011.33 766.8,1013.3 C769.75,1015.27 773.98,1016.23 776.6,1018.2 C779.22,1020.17 780.85,1022.32 782.5,1025.1 C784.15,1027.88 785.18,1031.95 786.5,1034.9 C787.82,1037.85 788.43,1040.33 790.4,1042.8 C792.37,1045.27 796.33,1047.08 798.3,1049.7 C800.27,1052.32 801.22,1055.07 802.2,1058.5 C803.18,1061.93 803.87,1065.7 804.2,1070.3 C804.53,1074.9 804.87,1081.17 804.2,1086.1 C803.53,1091.03 802.17,1095.63 800.2,1099.9 C798.23,1104.17 795.35,1108.1 792.4,1111.7 C789.45,1115.3 786.12,1118.72 782.5,1121.5 C778.88,1124.28 774.3,1126.92 770.7,1128.4 C767.1,1129.88 764.83,1130.4 760.9,1130.4 C756.97,1130.4 751.7,1129.38 747.1,1128.4 C742.5,1127.42 737.57,1126.3 733.3,1124.5 C729.03,1122.7 725.43,1120.23 721.5,1117.6 C717.57,1114.97 713.15,1111.98 709.7,1108.7 C706.25,1105.42 703.27,1101.67 700.8,1097.9 C698.33,1094.13 696.37,1090.37 694.9,1086.1 C693.43,1081.83 692.65,1077.22 692,1072.3 C691.35,1067.38 691,1061.52 691,1056.6 C691,1051.68 691.35,1047.73 692,1042.8 C692.65,1037.87 693.58,1031.92 694.9,1027 C696.22,1022.08 697.77,1017.4 699.9,1013.3 C702.03,1009.2 704.75,1005.2 707.7,1002.4 C710.65,999.6 713.67,997.8 717.6,996.5 C721.53,995.2 725.73,994.1 731.3,994.6Z" fill="none" stroke="#fff" stroke-width="3.3" stroke-dasharray="3.3 3.2"/>
<rect x="731.2" y="1046.2" width="13.5" height="12.9" fill="none" stroke="#d826d8" stroke-width="2.8"/>
</g>
<clipPath id="cl10"><rect x="832.5" y="973.9" width="172.3" height="171.6"/></clipPath>
<g clip-path="url(#cl10)">
<rect x="832.5" y="973.9" width="172.3" height="171.6" fill="#ffff00"/>
<ellipse cx="834.84" cy="1035.74" rx="8.84" ry="10.31" fill="#f08000" filter="url(#sb6)"/>
<ellipse cx="887.85" cy="995.98" rx="16.2" ry="8.84" fill="#b04800" filter="url(#sb6)"/>
<path d="M817.16,959.16 C827.18,953.86 907.58,957.4 917.3,959.16 C927.02,960.93 916.56,974.04 914.35,976.84 C912.14,979.63 899.63,985.38 895.21,987.14 C890.79,988.91 874.89,992.89 870.18,994.51 C865.46,996.13 853.39,1001.57 848.09,1003.34 C842.79,1005.11 820.26,1016.59 817.16,1012.18 C814.07,1007.76 807.15,964.47 817.16,959.16Z" fill="#000" filter="url(#sb6)"/>
<ellipse cx="842.2" cy="1001.87" rx="10.31" ry="5.15" fill="#1a3a00" filter="url(#sb6)"/>
<path d="M817.16,1050.46 C819.52,1039.57 837.63,1048.4 840.73,1050.46 C843.82,1052.52 847.06,1066.07 848.09,1071.08 C849.12,1076.08 850.89,1091.69 851.03,1100.53 C851.18,1109.36 852.95,1153.54 849.56,1159.43 C846.17,1165.32 820.4,1170.33 817.16,1159.43 C813.93,1148.53 814.81,1061.36 817.16,1050.46Z" fill="#3a0a00" filter="url(#sb6)"/>
<path d="M817.16,1100.53 C819.37,1095.37 836.75,1102 839.25,1107.89 C841.76,1113.78 844.41,1154.28 842.2,1159.43 C839.99,1164.58 819.67,1165.32 817.16,1159.43 C814.66,1153.54 814.96,1105.68 817.16,1100.53Z" fill="#000" filter="url(#sb6)"/>
<ellipse cx="855.45" cy="1112.31" rx="8.1" ry="33.87" fill="#d07000" filter="url(#sb8)"/>
<ellipse cx="883.43" cy="1115.25" rx="13.99" ry="33.87" fill="#88e000" filter="url(#sb6)"/>
<path d="M904.04,1082.86 C905.37,1075.5 914.79,1084.33 917.3,1085.8 C919.8,1087.28 925.54,1096.26 929.08,1097.58 C932.61,1098.91 948.52,1097.88 952.64,1099.06 C956.76,1100.23 966.77,1106.86 970.31,1109.36 C973.84,1111.87 984.45,1121.29 987.98,1124.09 C991.51,1126.89 1003.88,1133.81 1005.65,1137.34 C1007.42,1140.88 1015.81,1157.22 1005.65,1159.43 C995.49,1161.64 914.2,1167.09 904.04,1159.43 C893.88,1151.77 902.72,1090.22 904.04,1082.86Z" fill="#000" filter="url(#sb6)"/>
<path d="M973.25,1107.89 C977.08,1102 1013.01,1095.37 1017.43,1100.53 C1021.85,1105.68 1021.26,1153.54 1017.43,1159.43 C1013.6,1165.32 983.56,1164.58 979.14,1159.43 C974.73,1154.28 969.43,1113.78 973.25,1107.89Z" fill="#8a3000" filter="url(#sb8)"/>
<ellipse cx="1002.7" cy="1141.76" rx="17.67" ry="14.73" fill="#c04000" filter="url(#sb6)"/>
<ellipse cx="985.03" cy="1138.81" rx="8.84" ry="8.84" fill="#301000" filter="url(#sb6)"/>
<ellipse cx="918.77" cy="1053.41" rx="27.24" ry="20.62" fill="#fff" filter="url(#sb6)"/>
<ellipse cx="895.21" cy="1057.82" rx="16.2" ry="13.25" fill="#fff" filter="url(#sb6)"/>
<ellipse cx="929.08" cy="1035.74" rx="16.2" ry="16.2" fill="#fff" filter="url(#sb6)"/>
<ellipse cx="940.12" cy="1021.01" rx="13.25" ry="12.52" fill="#fff" filter="url(#sb6)"/>
<ellipse cx="931.43" cy="1082.27" rx="19.14" ry="12.07" fill="#00ffff" filter="url(#sb4)"/>
<ellipse cx="929.08" cy="1071.08" rx="8.84" ry="5.89" fill="#c0ffff" filter="url(#sb4)"/>
<line x1="832.5" y1="1046" x2="1004.8" y2="1046" stroke="#fff" stroke-width="3.8" stroke-dasharray="17 13"/>
</g>
<text x="0.32" y="698" font-size="42" fill="#000" stroke="#000">c</text>
<text x="140.35" y="754" font-size="25" fill="#000" stroke="#000">DNA-FISH</text>
<text x="176.62" y="783.9" font-size="25" fill="#1aabe6" stroke="#1aabe6">LPL</text>
<text x="365.9" y="754" font-size="25" fill="#000" stroke="#000">IF</text>
<text x="336.38" y="783.4" font-size="25" fill="#12a84b" stroke="#12a84b">PPARγ</text>
<text x="546.8" y="754" font-size="25" fill="#000" stroke="#000">IF</text>
<text x="523.85" y="784.3" font-size="25" fill="#ea1520" stroke="#ea1520">RXRα</text>
<text x="698.25" y="783.5" font-size="25" fill="#1aabe6" stroke="#1aabe6">Merge</text>
<text x="879.25" y="753.8" font-size="25" fill="#1aabe6" stroke="#1aabe6">Merge</text>
<text x="875" y="783.5" font-size="25" fill="#1aabe6" stroke="#1aabe6">(zoom)</text>
<text x="20" y="891" font-size="25" fill="#000" stroke="#000">Control</text>
<text x="33.7" y="1068" font-size="25" fill="#000" stroke="#000">Opto</text>
<rect x="786.7" y="1151.3" width="31.7" height="4.4" fill="#000"/>
<rect x="946.8" y="1151.3" width="57.2" height="4.4" fill="#000"/>
<text x="774.25" y="1190" font-size="25" fill="#000" stroke="#000">5 μm</text>
<text x="936.98" y="1190" font-size="25" fill="#000" stroke="#000">500 nm</text>
<g transform="translate(1,0) scale(0.9,1)">
<text x="-1.26" y="55.2" font-size="42" fill="#000" stroke="#000">a</text>
</g>
<defs><linearGradient id="cone" x1="0" y1="0" x2="0" y2="1"><stop offset="0" stop-color="#00a0e9"/><stop offset="0.45" stop-color="#3ab4ec" stop-opacity="0.85"/><stop offset="1" stop-color="#bfe6f8" stop-opacity="0.15"/></linearGradient></defs>
<polygon points="546.4,85.4 479.8,133.5 615.7,133.5" fill="url(#cone)"/>
<rect x="542" y="69.3" width="9" height="12" fill="#5b9bd5"/>
<rect x="-5" y="-6.3" width="10" height="12.6" fill="#5b9bd5" transform="translate(524,67.2) rotate(-45)"/>
<rect x="-5" y="-6.3" width="10" height="12.6" fill="#5b9bd5" transform="translate(569.6,67.6) rotate(45)"/>
<path d="M539.5,19.5 C539.5,25 526,30 525.2,42 A21.3,21.3 0 0 0 567.8,42 C567,30 553.5,25 553.5,19.5 Z" fill="#bdd7ee" stroke="#000" stroke-width="2.9"/>
<rect x="538.2" y="5" width="16.6" height="14.6" rx="2.5" fill="#3a62b0" stroke="#1f3d75" stroke-width="0.8"/>
<rect x="540" y="6.4" width="13" height="1.8" fill="#5a7cc4"/>
<rect x="539" y="10" width="15" height="1.3" fill="#24447e"/>
<rect x="539" y="14.4" width="15" height="1.4" fill="#24447e"/>
<path d="M529.5,47 Q533,55 545,57.5" fill="none" stroke="#000" stroke-width="3.5"/>
<rect x="544.5" y="55" width="4" height="5" fill="#000" transform="rotate(15 546 57)"/>
<path d="M154.5,282 A84,39 0 0 1 322.5,282 V301 A84,41 0 0 1 154.5,301 Z" fill="#e9f5f8" stroke="#222" stroke-width="2.2"/>
<ellipse cx="238.5" cy="298.5" rx="79" ry="36" fill="#bd1e2c"/>
<ellipse cx="238.5" cy="293" rx="79" ry="34" fill="#e0675d"/>
<ellipse cx="238.5" cy="288" rx="79" ry="32" fill="#e6524a"/>
<ellipse cx="238.5" cy="291.5" rx="75" ry="27.5" fill="#e8363b"/>
<g filter="url(#cellblur)">
<ellipse cx="199.2" cy="295" rx="10.5" ry="9" fill="#b25aa9" opacity="0.95"/>
<ellipse cx="211.5" cy="289.1" rx="10.5" ry="9" fill="#b25aa9" opacity="0.95"/>
<ellipse cx="231.2" cy="286.7" rx="10.5" ry="9" fill="#b25aa9" opacity="0.95"/>
<ellipse cx="246" cy="277.8" rx="10.5" ry="9" fill="#b25aa9" opacity="0.95"/>
<ellipse cx="246.9" cy="293.6" rx="10.5" ry="9" fill="#b25aa9" opacity="0.95"/>
<ellipse cx="270.1" cy="287.7" rx="10.5" ry="9" fill="#b25aa9" opacity="0.95"/>
<ellipse cx="230.2" cy="301" rx="10.5" ry="9" fill="#b25aa9" opacity="0.95"/>
<ellipse cx="264.2" cy="301" rx="10.5" ry="9" fill="#b25aa9" opacity="0.95"/>
<ellipse cx="211.5" cy="307.4" rx="10.5" ry="9" fill="#b25aa9" opacity="0.95"/>
<ellipse cx="248.9" cy="308.3" rx="10.5" ry="9" fill="#b25aa9" opacity="0.95"/>
</g>
<ellipse cx="199.2" cy="295" rx="4.6" ry="2.7" fill="#6a23b3" transform="rotate(18 199.2 295)"/>
<ellipse cx="211.5" cy="289.1" rx="4.6" ry="2.7" fill="#6a23b3" transform="rotate(18 211.5 289.1)"/>
<ellipse cx="231.2" cy="286.7" rx="4.6" ry="2.7" fill="#6a23b3" transform="rotate(18 231.2 286.7)"/>
<ellipse cx="246" cy="277.8" rx="4.6" ry="2.7" fill="#6a23b3" transform="rotate(18 246 277.8)"/>
<ellipse cx="246.9" cy="293.6" rx="4.6" ry="2.7" fill="#6a23b3" transform="rotate(18 246.9 293.6)"/>
<ellipse cx="270.1" cy="287.7" rx="4.6" ry="2.7" fill="#6a23b3" transform="rotate(18 270.1 287.7)"/>
<ellipse cx="230.2" cy="301" rx="4.6" ry="2.7" fill="#6a23b3" transform="rotate(18 230.2 301)"/>
<ellipse cx="264.2" cy="301" rx="4.6" ry="2.7" fill="#6a23b3" transform="rotate(18 264.2 301)"/>
<ellipse cx="211.5" cy="307.4" rx="4.6" ry="2.7" fill="#6a23b3" transform="rotate(18 211.5 307.4)"/>
<ellipse cx="248.9" cy="308.3" rx="4.6" ry="2.7" fill="#6a23b3" transform="rotate(18 248.9 308.3)"/>
<ellipse cx="238.5" cy="288" rx="79" ry="32" fill="none" stroke="#2c2c2c" stroke-width="2.2"/>
<ellipse cx="238.5" cy="282" rx="84" ry="39" fill="none" stroke="#222" stroke-width="2.2"/>
<ellipse cx="238.5" cy="282.5" rx="81.5" ry="37" fill="none" stroke="#555" stroke-width="0.9"/>
<ellipse cx="238.5" cy="289.5" rx="79" ry="31.5" fill="none" stroke="#444" stroke-width="0.8"/>
<path d="M463.3,163.3 A84,39 0 0 1 631.3,163.3 V182.3 A84,41 0 0 1 463.3,182.3 Z" fill="#e9f5f8" stroke="#222" stroke-width="2.2"/>
<ellipse cx="547.3" cy="179.8" rx="79" ry="36" fill="#bd1e2c"/>
<ellipse cx="547.3" cy="174.3" rx="79" ry="34" fill="#e0675d"/>
<ellipse cx="547.3" cy="169.3" rx="79" ry="32" fill="#e6524a"/>
<ellipse cx="547.3" cy="172.8" rx="75" ry="27.5" fill="#e8363b"/>
<g filter="url(#cellblur)">
<ellipse cx="508" cy="176.3" rx="10.5" ry="9" fill="#b25aa9" opacity="0.95"/>
<ellipse cx="520.3" cy="170.4" rx="10.5" ry="9" fill="#b25aa9" opacity="0.95"/>
<ellipse cx="540" cy="168" rx="10.5" ry="9" fill="#b25aa9" opacity="0.95"/>
<ellipse cx="554.8" cy="159.1" rx="10.5" ry="9" fill="#b25aa9" opacity="0.95"/>
<ellipse cx="555.7" cy="174.9" rx="10.5" ry="9" fill="#b25aa9" opacity="0.95"/>
<ellipse cx="578.9" cy="169" rx="10.5" ry="9" fill="#b25aa9" opacity="0.95"/>
<ellipse cx="539" cy="182.3" rx="10.5" ry="9" fill="#b25aa9" opacity="0.95"/>
<ellipse cx="573" cy="182.3" rx="10.5" ry="9" fill="#b25aa9" opacity="0.95"/>
<ellipse cx="520.3" cy="188.7" rx="10.5" ry="9" fill="#b25aa9" opacity="0.95"/>
<ellipse cx="557.7" cy="189.6" rx="10.5" ry="9" fill="#b25aa9" opacity="0.95"/>
</g>
<ellipse cx="508" cy="176.3" rx="4.6" ry="2.7" fill="#6a23b3" transform="rotate(18 508 176.3)"/>
<ellipse cx="520.3" cy="170.4" rx="4.6" ry="2.7" fill="#6a23b3" transform="rotate(18 520.3 170.4)"/>
<ellipse cx="540" cy="168" rx="4.6" ry="2.7" fill="#6a23b3" transform="rotate(18 540 168)"/>
<ellipse cx="554.8" cy="159.1" rx="4.6" ry="2.7" fill="#6a23b3" transform="rotate(18 554.8 159.1)"/>
<ellipse cx="555.7" cy="174.9" rx="4.6" ry="2.7" fill="#6a23b3" transform="rotate(18 555.7 174.9)"/>
<ellipse cx="578.9" cy="169" rx="4.6" ry="2.7" fill="#6a23b3" transform="rotate(18 578.9 169)"/>
<ellipse cx="539" cy="182.3" rx="4.6" ry="2.7" fill="#6a23b3" transform="rotate(18 539 182.3)"/>
<ellipse cx="573" cy="182.3" rx="4.6" ry="2.7" fill="#6a23b3" transform="rotate(18 573 182.3)"/>
<ellipse cx="520.3" cy="188.7" rx="4.6" ry="2.7" fill="#6a23b3" transform="rotate(18 520.3 188.7)"/>
<ellipse cx="557.7" cy="189.6" rx="4.6" ry="2.7" fill="#6a23b3" transform="rotate(18 557.7 189.6)"/>
<ellipse cx="547.3" cy="169.3" rx="79" ry="32" fill="none" stroke="#2c2c2c" stroke-width="2.2"/>
<ellipse cx="547.3" cy="163.3" rx="84" ry="39" fill="none" stroke="#222" stroke-width="2.2"/>
<ellipse cx="547.3" cy="163.8" rx="81.5" ry="37" fill="none" stroke="#555" stroke-width="0.9"/>
<ellipse cx="547.3" cy="170.8" rx="79" ry="31.5" fill="none" stroke="#444" stroke-width="0.8"/>
<path d="M462.2,374.8 A84,39 0 0 1 630.2,374.8 V393.8 A84,41 0 0 1 462.2,393.8 Z" fill="#e9f5f8" stroke="#222" stroke-width="2.2"/>
<ellipse cx="546.2" cy="391.3" rx="79" ry="36" fill="#bd1e2c"/>
<ellipse cx="546.2" cy="385.8" rx="79" ry="34" fill="#e0675d"/>
<ellipse cx="546.2" cy="380.8" rx="79" ry="32" fill="#e6524a"/>
<ellipse cx="546.2" cy="384.3" rx="75" ry="27.5" fill="#e8363b"/>
<ellipse cx="546.2" cy="380.8" rx="79" ry="32" fill="none" stroke="#2c2c2c" stroke-width="2.2"/>
<ellipse cx="546.2" cy="374.8" rx="84" ry="39" fill="none" stroke="#222" stroke-width="2.2"/>
<ellipse cx="546.2" cy="375.3" rx="81.5" ry="37" fill="none" stroke="#555" stroke-width="0.9"/>
<ellipse cx="546.2" cy="382.3" rx="79" ry="31.5" fill="none" stroke="#444" stroke-width="0.8"/>
<ellipse cx="546" cy="374.5" rx="82.5" ry="42" fill="#e9f5f8" stroke="#222" stroke-width="2.6" transform="rotate(-4 546 367.5)"/>
<ellipse cx="546" cy="371.0" rx="82.5" ry="42" fill="#e9f5f8" stroke="#333" stroke-width="1.6" transform="rotate(-4 546 367.5)"/>
<ellipse cx="546" cy="367.5" rx="82.5" ry="42" fill="#eaf6f9" stroke="#222" stroke-width="2.2" transform="rotate(-4 546 367.5)"/>
<ellipse cx="547.5" cy="370.0" rx="76" ry="36" fill="#8a8a8a" transform="rotate(-4 546 367.5)"/>
<ellipse cx="547.5" cy="370.0" rx="73" ry="33" fill="none" stroke="#fff" stroke-width="1.6" transform="rotate(-4 546 367.5)"/>
<ellipse cx="548.5" cy="371.5" rx="72" ry="32" fill="#808080" transform="rotate(-4 546 367.5)"/>
<path d="M337.93,266.25 C343.21,265.16 359.63,262.08 369.64,259.68 C379.64,257.29 388.51,255.44 397.95,251.87 C407.39,248.3 417.2,243.02 426.26,238.28 C435.32,233.54 447.97,225.92 452.31,223.44 L445.52,218.69 L473.26,215.86 L468.73,234.54 L462.5,229.67 C459.29,231.29 450.23,236.2 443.25,239.41 C436.27,242.62 427.62,246.24 420.6,248.92 C413.58,251.6 404.37,254.4 401.12,255.49 C402.7,255.86 406.88,256.22 410.62,257.67 C414.36,259.11 419.25,261.34 423.57,264.14 C427.88,266.95 432.63,270.61 436.51,274.5 C440.39,278.38 443.63,283.34 446.86,287.44 C450.1,291.54 452.9,295.75 455.92,299.09 C458.94,302.44 463.47,306.11 464.98,307.51 L479.22,307.51 L479.22,326.93 L453.99,312.68 L459.16,310.75 C457.76,308.81 453.66,302.98 450.75,299.09 C447.84,295.21 444.92,291.32 441.69,287.44 C438.45,283.56 435.21,279.47 431.33,275.8 C427.44,272.13 422.91,268.13 418.38,265.44 C413.85,262.74 408.46,260.86 404.14,259.61 C399.83,258.37 398.24,257.35 392.49,257.98 C386.74,258.62 378.73,261.95 369.64,263.42 C360.54,264.89 343.21,266.25 337.93,266.82 Z" fill="#dce2f2" stroke="#000" stroke-width="2.3" stroke-linejoin="miter"/>
<text transform="translate(384.1,224) rotate(-27)" x="-57.62" y="8.95" font-size="25" fill="#1ba1e2" stroke="#1ba1e2">Blue light</text>
<text transform="translate(403.2,290.5) rotate(22)" x="-28.62" y="8.95" font-size="25" fill="#000" stroke="#000">Dark</text>
<text x="521.88" y="250.5" font-size="25" fill="#000" stroke="#000">Opto</text>
<text x="511.1" y="461.8" font-size="25" fill="#000" stroke="#000">Control</text>
<text x="47" y="384.6" font-size="24.9" fill="#000" stroke="#000">OptoPPARγ/OptoRXRα</text>
<line x1="332.5" y1="285.4" x2="332.5" y2="474" stroke="#000" stroke-width="3.9" stroke-dasharray="11.8 5.1"/>
<line x1="635.3" y1="179" x2="635.3" y2="474" stroke="#000" stroke-width="3.9" stroke-dasharray="11.8 5.1"/>
<rect x="152.3" y="475.2" width="178.6" height="27.7" rx="3.5" fill="#d0cfd0" stroke="#111" stroke-width="3.6"/>
<rect x="334.8" y="475.2" width="299.9" height="27.7" rx="3.5" fill="#d0cfd0" stroke="#111" stroke-width="3.6"/>
<text x="217.6" y="497.9" font-size="24" fill="#000" stroke="#000">12 h</text>
<text x="459.56" y="497.9" font-size="24" fill="#000" stroke="#000">24 h</text>
<text x="763.66" y="55.3" font-size="42" fill="#000" stroke="#000">b</text>
<text transform="translate(799.2,327.8) rotate(-90)" x="-160.02" y="0" font-size="25.2" fill="#000" stroke="#000">Relative mRNA expression</text>
<line x1="856.75" y1="473.3" x2="868.75" y2="473.3" stroke="#000" stroke-width="3"/>
<text x="817.85" y="479.3" font-size="24.3" fill="#000" stroke="#000">0.5</text>
<line x1="856.75" y1="400" x2="868.75" y2="400" stroke="#000" stroke-width="3"/>
<text x="818.1" y="405" font-size="24.3" fill="#000" stroke="#000">1.0</text>
<line x1="856.75" y1="326.7" x2="868.75" y2="326.7" stroke="#000" stroke-width="3"/>
<text x="817.85" y="333.9" font-size="24.3" fill="#000" stroke="#000">1.5</text>
<line x1="856.75" y1="253.4" x2="868.75" y2="253.4" stroke="#000" stroke-width="3"/>
<text x="818.1" y="262.8" font-size="24.3" fill="#000" stroke="#000">2.0</text>
<line x1="856.75" y1="180.1" x2="868.75" y2="180.1" stroke="#000" stroke-width="3"/>
<text x="817.85" y="191.2" font-size="24.3" fill="#000" stroke="#000">2.5</text>
<rect x="897" y="400" width="56" height="73.3" fill="#00c000"/>
<rect x="981.25" y="253.4" width="55.75" height="219.9" fill="#00c000"/>
<line x1="868.75" y1="178.6" x2="868.75" y2="474.8" stroke="#000" stroke-width="3"/>
<line x1="867.25" y1="473.3" x2="1065.75" y2="473.3" stroke="#000" stroke-width="3"/>
<line x1="925" y1="473.3" x2="925" y2="485.8" stroke="#000" stroke-width="3"/>
<line x1="1009.12" y1="473.3" x2="1009.12" y2="485.8" stroke="#000" stroke-width="3"/>
<line x1="924.5" y1="393" x2="924.5" y2="407" stroke="#000" stroke-width="2"/>
<line x1="910.5" y1="393" x2="938.5" y2="393" stroke="#000" stroke-width="2"/>
<line x1="910.5" y1="407" x2="938.5" y2="407" stroke="#000" stroke-width="2"/>
<line x1="1008.5" y1="244.5" x2="1008.5" y2="262.5" stroke="#000" stroke-width="2"/>
<line x1="994.5" y1="244.5" x2="1022.5" y2="244.5" stroke="#000" stroke-width="2"/>
<line x1="994.5" y1="262.5" x2="1022.5" y2="262.5" stroke="#000" stroke-width="2"/>
<circle cx="919.5" cy="388" r="4.8" fill="#000"/>
<circle cx="930" cy="399" r="4.8" fill="#000"/>
<circle cx="925" cy="412.5" r="4.8" fill="#000"/>
<circle cx="1009" cy="236" r="4.8" fill="#000"/>
<circle cx="1003" cy="257.5" r="4.8" fill="#000"/>
<circle cx="1014" cy="267" r="4.8" fill="#000"/>
<path d="M917,194.5 V181 Q917,179.5 918.5,179.5 H1007.5 Q1009,179.5 1009,181 V194.5" fill="none" stroke="#000" stroke-width="3"/>
<text x="947.8" y="178" font-size="30" fill="#000" stroke="#000">***</text>
<text x="943.38" y="126.3" font-size="25" fill="#000" stroke="#000">LPL</text>
<text x="872.6" y="513.3" font-size="25" fill="#000" stroke="#000">Control</text>
<text x="977.77" y="513.3" font-size="25" fill="#000" stroke="#000">Opto</text>
<line x1="1157.25" y1="473.3" x2="1169.25" y2="473.3" stroke="#000" stroke-width="3"/>
<text x="1114.15" y="483.4" font-size="24.3" fill="#000" stroke="#000">0.5</text>
<line x1="1157.25" y1="400" x2="1169.25" y2="400" stroke="#000" stroke-width="3"/>
<text x="1114.39" y="409" font-size="24.3" fill="#000" stroke="#000">1.0</text>
<line x1="1157.25" y1="326.7" x2="1169.25" y2="326.7" stroke="#000" stroke-width="3"/>
<text x="1114.15" y="335.6" font-size="24.3" fill="#000" stroke="#000">1.5</text>
<line x1="1157.25" y1="253.4" x2="1169.25" y2="253.4" stroke="#000" stroke-width="3"/>
<text x="1114.39" y="264.4" font-size="24.3" fill="#000" stroke="#000">2.0</text>
<line x1="1157.25" y1="180.1" x2="1169.25" y2="180.1" stroke="#000" stroke-width="3"/>
<text x="1114.15" y="191.2" font-size="24.3" fill="#000" stroke="#000">2.5</text>
<rect x="1197" y="400" width="56" height="73.3" fill="#00c000"/>
<rect x="1281.25" y="239.62" width="55.75" height="233.68" fill="#00c000"/>
<line x1="1169.25" y1="178.6" x2="1169.25" y2="474.8" stroke="#000" stroke-width="3"/>
<line x1="1167.75" y1="473.3" x2="1366.25" y2="473.3" stroke="#000" stroke-width="3"/>
<line x1="1225" y1="473.3" x2="1225" y2="485.8" stroke="#000" stroke-width="3"/>
<line x1="1309.12" y1="473.3" x2="1309.12" y2="485.8" stroke="#000" stroke-width="3"/>
<line x1="1225" y1="377.5" x2="1225" y2="423" stroke="#000" stroke-width="2"/>
<line x1="1211" y1="377.5" x2="1239" y2="377.5" stroke="#000" stroke-width="2"/>
<line x1="1211" y1="423" x2="1239" y2="423" stroke="#000" stroke-width="2"/>
<line x1="1309" y1="217.75" x2="1309" y2="261.75" stroke="#000" stroke-width="2"/>
<line x1="1295" y1="217.75" x2="1323" y2="217.75" stroke="#000" stroke-width="2"/>
<line x1="1295" y1="261.75" x2="1323" y2="261.75" stroke="#000" stroke-width="2"/>
<circle cx="1225" cy="354.5" r="4.8" fill="#000"/>
<circle cx="1219.25" cy="421.25" r="4.8" fill="#000"/>
<circle cx="1230.5" cy="424.5" r="4.8" fill="#000"/>
<circle cx="1303" cy="214" r="4.8" fill="#000"/>
<circle cx="1314.5" cy="221.75" r="4.8" fill="#000"/>
<circle cx="1308.75" cy="283.25" r="4.8" fill="#000"/>
<path d="M1212,194.5 V181 Q1212,179.5 1213.5,179.5 H1303 Q1304.5,179.5 1304.5,181 V194.5" fill="none" stroke="#000" stroke-width="3"/>
<text x="1247.3" y="178" font-size="30" fill="#000" stroke="#000">**</text>
<text x="1228.78" y="126.3" font-size="25" fill="#000" stroke="#000">aP2</text>
<text x="1173" y="513.3" font-size="25" fill="#000" stroke="#000">Control</text>
<text x="1278.28" y="513.3" font-size="25" fill="#000" stroke="#000">Opto</text>
<line x1="1459.75" y1="473.3" x2="1471.75" y2="473.3" stroke="#000" stroke-width="3"/>
<text x="1420.95" y="483.3" font-size="24.3" fill="#000" stroke="#000">0.5</text>
<line x1="1459.75" y1="400" x2="1471.75" y2="400" stroke="#000" stroke-width="3"/>
<text x="1421.19" y="409.8" font-size="24.3" fill="#000" stroke="#000">1.0</text>
<line x1="1459.75" y1="326.7" x2="1471.75" y2="326.7" stroke="#000" stroke-width="3"/>
<text x="1420.95" y="336.6" font-size="24.3" fill="#000" stroke="#000">1.5</text>
<line x1="1459.75" y1="253.4" x2="1471.75" y2="253.4" stroke="#000" stroke-width="3"/>
<text x="1421.19" y="265.2" font-size="24.3" fill="#000" stroke="#000">2.0</text>
<line x1="1459.75" y1="180.1" x2="1471.75" y2="180.1" stroke="#000" stroke-width="3"/>
<text x="1420.95" y="191.8" font-size="24.3" fill="#000" stroke="#000">2.5</text>
<rect x="1499.5" y="400" width="56" height="73.3" fill="#00c000"/>
<rect x="1584.25" y="267.18" width="55.25" height="206.12" fill="#00c000"/>
<line x1="1471.75" y1="178.6" x2="1471.75" y2="474.8" stroke="#000" stroke-width="3"/>
<line x1="1470.25" y1="473.3" x2="1668.75" y2="473.3" stroke="#000" stroke-width="3"/>
<line x1="1527.5" y1="473.3" x2="1527.5" y2="485.8" stroke="#000" stroke-width="3"/>
<line x1="1611.88" y1="473.3" x2="1611.88" y2="485.8" stroke="#000" stroke-width="3"/>
<line x1="1527.75" y1="390" x2="1527.75" y2="410.75" stroke="#000" stroke-width="2"/>
<line x1="1513.75" y1="390" x2="1541.75" y2="390" stroke="#000" stroke-width="2"/>
<line x1="1513.75" y1="410.75" x2="1541.75" y2="410.75" stroke="#000" stroke-width="2"/>
<line x1="1612" y1="230.25" x2="1612" y2="303" stroke="#000" stroke-width="2"/>
<line x1="1598" y1="230.25" x2="1626" y2="230.25" stroke="#000" stroke-width="2"/>
<line x1="1598" y1="303" x2="1626" y2="303" stroke="#000" stroke-width="2"/>
<circle cx="1527.5" cy="380.75" r="4.8" fill="#000"/>
<circle cx="1522" cy="407" r="4.8" fill="#000"/>
<circle cx="1533" cy="414.25" r="4.8" fill="#000"/>
<circle cx="1611.75" cy="204.25" r="4.8" fill="#000"/>
<circle cx="1611.75" cy="266.25" r="4.8" fill="#000"/>
<circle cx="1611.75" cy="330.5" r="4.8" fill="#000"/>
<path d="M1517.5,194.5 V181 Q1517.5,179.5 1519,179.5 H1607.75 Q1609.25,179.5 1609.25,181 V194.5" fill="none" stroke="#000" stroke-width="3"/>
<text x="1560.15" y="178" font-size="30" fill="#000" stroke="#000">*</text>
<text x="1531.47" y="126.3" font-size="25" fill="#000" stroke="#000">ACO</text>
<text x="1477.2" y="513.3" font-size="25" fill="#000" stroke="#000">Control</text>
<text x="1581.97" y="513.3" font-size="25" fill="#000" stroke="#000">Opto</text>
<line x1="1175" y1="671.4" x2="1219.5" y2="671.4" stroke="#13a84a" stroke-width="4.4"/>
<text x="1225.15" y="680.6" font-size="25" fill="#000" stroke="#000">PPARγ</text>
<line x1="1175" y1="701.6" x2="1219.5" y2="701.6" stroke="#ee1c24" stroke-width="4.4"/>
<text x="1225.15" y="711.9" font-size="25" fill="#000" stroke="#000">RXRα</text>
<line x1="1175" y1="729.3" x2="1219.5" y2="729.3" stroke="#1eaee8" stroke-width="4.4"/>
<text x="1225.15" y="738.9" font-size="25" fill="#000" stroke="#000">DNA-FISH Probe</text>
<path d="M1175.4,920.1 L1193,825.6 L1209.3,795 L1226.9,783.4 L1241.9,763.4 L1258.2,771.6 L1274.5,774.7 L1290.8,795 L1307.9,814.3 L1323.4,920.1" fill="none" stroke="#1eaee8" stroke-width="4.5" stroke-linejoin="round"/>
<path d="M1175.4,905.8 L1193,910.8 L1209.3,904.6 L1226.9,897 L1241.9,895.3 L1258.2,896.3 L1274.5,895.3 L1290.8,905.3 L1307.9,902 L1323.4,901.3" fill="none" stroke="#13a84a" stroke-width="4.5" stroke-linejoin="round"/>
<path d="M1175.4,919.6 L1193,913.9 L1209.3,907.1 L1226.9,897 L1241.9,900.3 L1258.2,908.3 L1274.5,909.1 L1290.8,909.1 L1307.9,904.6 L1323.4,889.5" fill="none" stroke="#ee1c24" stroke-width="4.5" stroke-linejoin="round"/>
<line x1="1168.3" y1="752.3" x2="1168.3" y2="922.1" stroke="#000" stroke-width="4"/>
<line x1="1161.3" y1="920.1" x2="1331" y2="920.1" stroke="#000" stroke-width="4"/>
<line x1="1161.3" y1="920.1" x2="1168.3" y2="920.1" stroke="#000" stroke-width="4"/>
<line x1="1161.3" y1="878.8" x2="1168.3" y2="878.8" stroke="#000" stroke-width="4"/>
<line x1="1161.3" y1="837.5" x2="1168.3" y2="837.5" stroke="#000" stroke-width="4"/>
<line x1="1161.3" y1="796.2" x2="1168.3" y2="796.2" stroke="#000" stroke-width="4"/>
<line x1="1161.3" y1="754.9" x2="1168.3" y2="754.9" stroke="#000" stroke-width="4"/>
<line x1="1187" y1="920.1" x2="1187" y2="931.6" stroke="#000" stroke-width="4"/>
<line x1="1220.9" y1="920.1" x2="1220.9" y2="931.6" stroke="#000" stroke-width="4"/>
<line x1="1254.8" y1="920.1" x2="1254.8" y2="931.6" stroke="#000" stroke-width="4"/>
<line x1="1288.7" y1="920.1" x2="1288.7" y2="931.6" stroke="#000" stroke-width="4"/>
<line x1="1321.9" y1="920.1" x2="1321.9" y2="931.6" stroke="#000" stroke-width="4"/>
<text x="1132.85" y="927.9" font-size="25" fill="#000" stroke="#000">0</text>
<text x="1118.85" y="886.6" font-size="25" fill="#000" stroke="#000">40</text>
<text x="1118.85" y="845.3" font-size="25" fill="#000" stroke="#000">80</text>
<text x="1104.85" y="804" font-size="25" fill="#000" stroke="#000">120</text>
<text x="1104.85" y="762.7" font-size="25" fill="#000" stroke="#000">160</text>
<text x="1169.61" y="955.2" font-size="21" fill="#000" stroke="#000">0.6</text>
<text x="1206.49" y="955.2" font-size="21" fill="#000" stroke="#000">1.2</text>
<text x="1242.79" y="955.2" font-size="21" fill="#000" stroke="#000">1.8</text>
<text x="1278.89" y="955.2" font-size="21" fill="#000" stroke="#000">2.4</text>
<text x="1315.52" y="955.2" font-size="21" fill="#000" stroke="#000">3.0</text>
<text transform="translate(1069.5,838.1) rotate(-90)" x="-81.97" y="0" font-size="25.3" fill="#000" stroke="#000">Fluorescence</text>
<text transform="translate(1101,835) rotate(-90)" x="-52.12" y="0" font-size="25" fill="#000" stroke="#000">intensity</text>
<path d="M1179.6,1152.5 L1197,1162.1 L1214.2,1153.2 L1230.9,1116.3 L1248.4,1081.3 L1266,1069.4 L1283,1099.6 L1299,1161 L1315.8,1163.2 L1334.3,1163.2" fill="none" stroke="#1eaee8" stroke-width="4.5" stroke-linejoin="round"/>
<path d="M1179.6,1163.2 L1197,1162.8 L1214.2,1132 L1230.9,1076.1 L1248.4,1002 L1266,1018.5 L1283,1069 L1299,1062.7 L1315.8,1040.4 L1334.3,1010.2" fill="none" stroke="#13a84a" stroke-width="4.5" stroke-linejoin="round"/>
<path d="M1179.6,1142 L1197,1107.4 L1214.2,1073.9 L1230.9,1027.7 L1248.4,1012.5 L1266,1012.5 L1283,1052.7 L1299,1037.7 L1315.8,1031.5 L1334.3,1013.6" fill="none" stroke="#ee1c24" stroke-width="4.5" stroke-linejoin="round"/>
<line x1="1170.6" y1="989" x2="1170.6" y2="1165.7" stroke="#000" stroke-width="4"/>
<line x1="1163.6" y1="1163.7" x2="1332.5" y2="1163.7" stroke="#000" stroke-width="4"/>
<line x1="1163.6" y1="1163.7" x2="1170.6" y2="1163.7" stroke="#000" stroke-width="4"/>
<line x1="1163.6" y1="1120.6" x2="1170.6" y2="1120.6" stroke="#000" stroke-width="4"/>
<line x1="1163.6" y1="1077.5" x2="1170.6" y2="1077.5" stroke="#000" stroke-width="4"/>
<line x1="1163.6" y1="1034.4" x2="1170.6" y2="1034.4" stroke="#000" stroke-width="4"/>
<line x1="1163.6" y1="991.3" x2="1170.6" y2="991.3" stroke="#000" stroke-width="4"/>
<line x1="1187.8" y1="1163.7" x2="1187.8" y2="1175.2" stroke="#000" stroke-width="4"/>
<line x1="1222" y1="1163.7" x2="1222" y2="1175.2" stroke="#000" stroke-width="4"/>
<line x1="1255.5" y1="1163.7" x2="1255.5" y2="1175.2" stroke="#000" stroke-width="4"/>
<line x1="1289" y1="1163.7" x2="1289" y2="1175.2" stroke="#000" stroke-width="4"/>
<line x1="1323.2" y1="1163.7" x2="1323.2" y2="1175.2" stroke="#000" stroke-width="4"/>
<text x="1137.75" y="1171.5" font-size="25" fill="#000" stroke="#000">0</text>
<text x="1123.75" y="1128.4" font-size="25" fill="#000" stroke="#000">50</text>
<text x="1109.75" y="1085.3" font-size="25" fill="#000" stroke="#000">100</text>
<text x="1109.75" y="1042.2" font-size="25" fill="#000" stroke="#000">150</text>
<text x="1109.75" y="999.1" font-size="25" fill="#000" stroke="#000">200</text>
<text x="1170.4" y="1198.5" font-size="21" fill="#000" stroke="#000">0.6</text>
<text x="1207.19" y="1198.5" font-size="21" fill="#000" stroke="#000">1.2</text>
<text x="1243.09" y="1198.5" font-size="21" fill="#000" stroke="#000">1.8</text>
<text x="1279.59" y="1198.5" font-size="21" fill="#000" stroke="#000">2.4</text>
<text x="1316.12" y="1198.5" font-size="21" fill="#000" stroke="#000">3.0</text>
<text x="1184.7" y="1226.9" font-size="25" fill="#000" stroke="#000">Length (μm)</text>
<text transform="translate(1069.5,1082.2) rotate(-90)" x="-81.97" y="0" font-size="25.3" fill="#000" stroke="#000">Fluorescence</text>
<text transform="translate(1101,1080) rotate(-90)" x="-52.12" y="0" font-size="25" fill="#000" stroke="#000">intensity</text>
<text x="1425.32" y="697.5" font-size="42" fill="#000" stroke="#000">d</text>
<line x1="1521.25" y1="1163.5" x2="1538.75" y2="1163.5" stroke="#000" stroke-width="4"/>
<text x="1486.55" y="1172.8" font-size="26" fill="#000" stroke="#000">0</text>
<line x1="1521.25" y1="1078.25" x2="1538.75" y2="1078.25" stroke="#000" stroke-width="4"/>
<text x="1479.4" y="1087.29" font-size="26" fill="#000" stroke="#000">20</text>
<line x1="1521.25" y1="993" x2="1538.75" y2="993" stroke="#000" stroke-width="4"/>
<text x="1479.53" y="1001.78" font-size="26" fill="#000" stroke="#000">40</text>
<line x1="1521.25" y1="907.75" x2="1538.75" y2="907.75" stroke="#000" stroke-width="4"/>
<text x="1479.27" y="916.27" font-size="26" fill="#000" stroke="#000">60</text>
<line x1="1521.25" y1="822.5" x2="1538.75" y2="822.5" stroke="#000" stroke-width="4"/>
<text x="1479.4" y="830.76" font-size="26" fill="#000" stroke="#000">80</text>
<line x1="1521.25" y1="737.25" x2="1538.75" y2="737.25" stroke="#000" stroke-width="4"/>
<text x="1471.73" y="745.25" font-size="26" fill="#000" stroke="#000">100</text>
<rect x="1579.5" y="1097.43" width="81.75" height="66.07" fill="#00c000"/>
<rect x="1701.75" y="864.7" width="81.25" height="298.8" fill="#00c000"/>
<line x1="1538.75" y1="735.25" x2="1538.75" y2="1165.5" stroke="#000" stroke-width="4"/>
<line x1="1521.25" y1="1163.5" x2="1826.25" y2="1163.5" stroke="#000" stroke-width="4"/>
<line x1="1620" y1="1163.5" x2="1620" y2="1181.5" stroke="#000" stroke-width="4"/>
<line x1="1742.5" y1="1163.5" x2="1742.5" y2="1181.5" stroke="#000" stroke-width="4"/>
<line x1="1620" y1="1092.5" x2="1620" y2="1102" stroke="#000" stroke-width="2.5"/>
<line x1="1600" y1="1092.5" x2="1640" y2="1092.5" stroke="#000" stroke-width="2.5"/>
<line x1="1600" y1="1102" x2="1640" y2="1102" stroke="#000" stroke-width="2.5"/>
<line x1="1742.5" y1="843.25" x2="1742.5" y2="887" stroke="#000" stroke-width="2.5"/>
<line x1="1722.5" y1="843.25" x2="1762.5" y2="843.25" stroke="#000" stroke-width="2.5"/>
<line x1="1722.5" y1="887" x2="1762.5" y2="887" stroke="#000" stroke-width="2.5"/>
<circle cx="1614.5" cy="1092.5" r="4.8" fill="#000"/>
<circle cx="1625.5" cy="1092.5" r="4.8" fill="#000"/>
<circle cx="1620" cy="1107.5" r="4.8" fill="#000"/>
<circle cx="1742.5" cy="836.25" r="4.8" fill="#000"/>
<circle cx="1742.5" cy="851.25" r="4.8" fill="#000"/>
<circle cx="1742.5" cy="908" r="4.8" fill="#000"/>
<path d="M1635.5,793 V782.5 Q1635.5,781.25 1637,781.25 H1741 Q1742.5,781.25 1742.5,782.5 V793" fill="none" stroke="#000" stroke-width="3"/>
<text x="1673" y="781.5" font-size="30" fill="#000" stroke="#000">***</text>
<text x="1580.6" y="1214.6" font-size="25" fill="#000" stroke="#000">Control</text>
<text x="1716.28" y="1214.6" font-size="25" fill="#000" stroke="#000">Opto</text>
<text transform="translate(1435.2,971) rotate(-90)" x="-224.91" y="0" font-size="25.2" fill="#000" stroke="#000">Percent of PPARγ/RXRα condensates</text>
<text transform="translate(1466.3,966.7) rotate(-90)" x="-150.57" y="0" font-size="25.2" fill="#000" stroke="#000">co-localized to PPRE site</text>
</svg></body></html>
